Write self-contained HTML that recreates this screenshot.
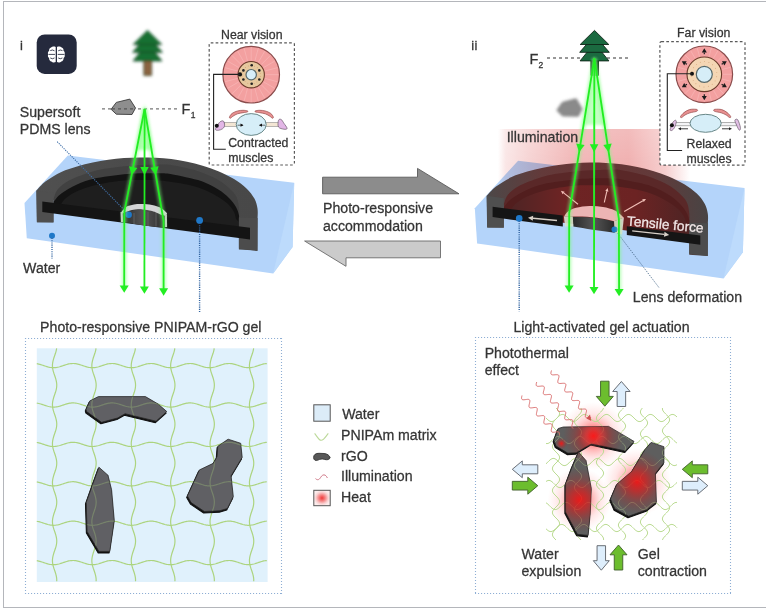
<!DOCTYPE html>
<html><head><meta charset="utf-8"><style>html,body{margin:0;padding:0;background:#fff;}svg{display:block;} text{-webkit-font-smoothing:antialiased;}</style></head>
<body><svg width="766" height="608" viewBox="0 0 766 608">
<defs>
<filter id="blurTree" x="-50%" y="-50%" width="200%" height="200%"><feGaussianBlur stdDeviation="1.75"/></filter>
<filter id="blurRock" x="-50%" y="-50%" width="200%" height="200%"><feGaussianBlur stdDeviation="1.5"/></filter>
<filter id="glow" x="-50%" y="-50%" width="200%" height="200%"><feGaussianBlur stdDeviation="1.6"/></filter>
<filter id="soft" x="-20%" y="-20%" width="140%" height="140%"><feGaussianBlur stdDeviation="0.35"/></filter>
<radialGradient id="heat"><stop offset="0" stop-color="#ff1a1a" stop-opacity="0.95"/><stop offset="0.3" stop-color="#ff3030" stop-opacity="0.6"/><stop offset="0.65" stop-color="#ff7070" stop-opacity="0.22"/><stop offset="1" stop-color="#ff9090" stop-opacity="0"/></radialGradient>
<radialGradient id="heatTop"><stop offset="0" stop-color="#ff1010" stop-opacity="0.95"/><stop offset="0.3" stop-color="#e81818" stop-opacity="0.7"/><stop offset="0.65" stop-color="#c02020" stop-opacity="0.3"/><stop offset="1" stop-color="#a02020" stop-opacity="0"/></radialGradient>
<radialGradient id="heatL"><stop offset="0" stop-color="#f03a3a"/><stop offset="0.35" stop-color="#f47c7c"/><stop offset="0.75" stop-color="#f9d0d0"/><stop offset="1" stop-color="#fcecec"/></radialGradient>
<linearGradient id="illumV" x1="0" y1="0" x2="0" y2="1"><stop offset="0" stop-color="#f6c2c2"/><stop offset="0.45" stop-color="#f0acac"/><stop offset="0.75" stop-color="#f2b4b4"/><stop offset="1" stop-color="#ffffff"/></linearGradient>
<linearGradient id="illumH" x1="0" y1="0" x2="1" y2="0"><stop offset="0" stop-color="#fff" stop-opacity="0"/><stop offset="0.1" stop-color="#fff" stop-opacity="0.75"/><stop offset="0.25" stop-color="#fff" stop-opacity="1"/><stop offset="0.78" stop-color="#fff" stop-opacity="1"/><stop offset="1" stop-color="#fff" stop-opacity="0"/></linearGradient>
<mask id="illumMask"><rect x="498" y="120" width="192" height="110" fill="url(#illumH)"/></mask>
<linearGradient id="illumX" gradientUnits="userSpaceOnUse" x1="498" y1="0" x2="690" y2="0"><stop offset="0" stop-color="#ffffff"/><stop offset="0.04" stop-color="#fae6e6"/><stop offset="0.17" stop-color="#f6d2d2"/><stop offset="0.38" stop-color="#f1b8b8"/><stop offset="0.68" stop-color="#f0b0b0"/><stop offset="0.87" stop-color="#f6cece"/><stop offset="1" stop-color="#ffffff"/></linearGradient>
<linearGradient id="illumY" gradientUnits="userSpaceOnUse" x1="0" y1="129" x2="0" y2="222"><stop offset="0" stop-color="#fff" stop-opacity="0.85"/><stop offset="0.4" stop-color="#fff" stop-opacity="1"/><stop offset="0.8" stop-color="#fff" stop-opacity="1"/><stop offset="1" stop-color="#fff" stop-opacity="0"/></linearGradient>
<mask id="illumMaskY"><rect x="498" y="120" width="192" height="110" fill="url(#illumY)"/></mask>
<linearGradient id="ringL" x1="0" y1="0" x2="1" y2="0"><stop offset="0" stop-color="#505050"/><stop offset="0.5" stop-color="#4a4a4a"/><stop offset="1" stop-color="#484848"/></linearGradient>
<linearGradient id="ringR" x1="0" y1="0" x2="1" y2="0"><stop offset="0" stop-color="#4c4848"/><stop offset="0.25" stop-color="#633a3a"/><stop offset="0.5" stop-color="#683434"/><stop offset="0.75" stop-color="#623a3a"/><stop offset="1" stop-color="#484444"/></linearGradient>
<linearGradient id="innerR" x1="0" y1="0" x2="1" y2="0"><stop offset="0" stop-color="#4e2424"/><stop offset="0.3" stop-color="#6e2424"/><stop offset="0.7" stop-color="#6c2323"/><stop offset="1" stop-color="#4e2424"/></linearGradient>
<linearGradient id="lensBody" x1="0" y1="0" x2="1" y2="0"><stop offset="0" stop-color="#2a2a2a"/><stop offset="0.5" stop-color="#555"/><stop offset="1" stop-color="#2a2a2a"/></linearGradient>
</defs>
<rect x="0" y="0" width="766" height="608" fill="#fff"/>
<rect x="3.5" y="1.5" width="800" height="606" fill="none" stroke="#b4b6bb" stroke-width="1"/>
<text x="20" y="50.2" font-size="13" fill="#333" stroke="#333" stroke-width="0.28" opacity="0.99" font-family="Liberation Sans, sans-serif" >i</text>
<text x="471.2" y="50.2" font-size="13" fill="#333" stroke="#333" stroke-width="0.28" opacity="0.99" font-family="Liberation Sans, sans-serif" letter-spacing="0.3">ii</text>
<rect x="36.7" y="34.4" width="40" height="39.5" rx="8" fill="#252a3d"/>
<path d="M55.7,46.9 C54.5,46.2 52.2,46.2 51.1,47.5 C49.6,47.8 48.9,49.4 49.2,50.8 C47.9,51.8 47.6,53.4 48.2,54.4 C47.6,55.6 47.9,57.2 49.1,57.9 C48.9,59.6 50,61.2 51.5,61.5 C52.3,62.7 54.5,62.9 55.7,62.1 Z" fill="#fff"/>
<path d="M 57 46.9 C 58.2 46.2 60.5 46.2 61.6 47.5 C 63.1 47.8 63.8 49.4 63.5 50.8 C 64.8 51.8 65.1 53.4 64.5 54.4 C 65.1 55.6 64.8 57.2 63.6 57.9 C 63.8 59.6 62.7 61.2 61.2 61.5 C 60.4 62.7 58.2 62.9 57 62.1 Z" fill="#fff"/>
<g stroke="#252a3d" stroke-width="0.85" fill="none" stroke-linecap="round"><path d="M50.6,50.4 Q52.5,49.3 54.2,50.6 M48.9,54.4 L54.6,54.4 M50.6,58.2 Q52.5,59.5 54.2,58.2"/><path d="M 62.1 50.4 Q 60.2 49.3 58.5 50.6 M 63.8 54.4 L 58.1 54.4 M 62.1 58.2 Q 60.2 59.5 58.5 58.2"/></g>
<g filter="url(#blurTree)"><rect x="143.9" y="60" width="7.6" height="15.4" fill="#8c6440" stroke="#0e3a1c" stroke-width="0.9" stroke-linejoin="round"/><path d="M147.5,43 L161.9,60.9 L133.1,60.9Z" fill="#197032" stroke="#0e3a1c" stroke-width="0.9" stroke-linejoin="round"/><path d="M147.5,35.2 L162.3,52.3 L132.7,52.3Z" fill="#197032" stroke="#0e3a1c" stroke-width="0.9" stroke-linejoin="round"/><path d="M147.5,30.4 L161.8,44.5 L133.2,44.5Z" fill="#197032" stroke="#0e3a1c" stroke-width="0.9" stroke-linejoin="round"/></g>
<path d="M102,108.9 L178,108.9" stroke="#777" stroke-width="1.3" stroke-dasharray="3,3"/>
<path d="M111.1,109.3 L116.3,102.4 L129.8,99.1 L135.5,108 L132,114.5 L116.3,114.2Z" fill="#8e8e8e" stroke="#3a3a3a" stroke-width="0.9" stroke-linejoin="round"/>
<path d="M112,108.9 L134,108.9" stroke="#555" stroke-width="1.3" stroke-dasharray="3,3"/>
<text x="181.5" y="113.6" font-size="14.5" fill="#333" stroke="#333" stroke-width="0.28" opacity="0.99" font-family="Liberation Sans, sans-serif" >F</text>
<text x="190.8" y="118.2" font-size="8.5" fill="#333" stroke="#333" stroke-width="0.28" opacity="0.99" font-family="Liberation Sans, sans-serif" >1</text>
<path d="M24.5,203 L67.8,155.5 L294.2,182.8 L292.6,247 L273.2,273.4 L26.8,238.2Z" fill="#b4d4fa"/><path d="M294.2,182.8 L292.6,247 L273.2,273.4Z" fill="#bddbfc"/>
<path d="M36.3,190.7 C37.87,189.13 41.53,184.43 45.7,181.3 C49.87,178.17 56.08,174.38 61.3,171.9 C66.52,169.42 71.77,167.97 77,166.4 C82.23,164.83 87.48,163.62 92.7,162.5 C97.92,161.38 103.08,160.43 108.3,159.7 C113.52,158.97 118.77,158.48 124,158.1 C129.23,157.72 134.42,157.45 139.7,157.4 C144.98,157.35 150.43,157.52 155.7,157.8 C160.97,158.08 166.08,158.45 171.3,159.1 C176.52,159.75 181.77,160.6 187,161.7 C192.23,162.8 197.48,164.12 202.7,165.7 C207.92,167.28 213.08,168.98 218.3,171.2 C223.52,173.42 229.3,176.13 234,179 C238.7,181.87 243.1,185.13 246.5,188.4 C249.9,191.67 252.57,195.25 254.4,198.6 C256.23,201.95 256.97,205.27 257.5,208.5 C258.03,211.73 257.58,216.42 257.6,218 L257.5,250.7 L238.9,249.5 L238.9,225 L53.5,200 L53.5,222.2 L36.8,222.2Z" fill="url(#ringL)"/><path d="M53.5,199 C54.25,197.33 55.25,192.17 58,189 C60.75,185.83 64.22,182.92 70,180 C75.78,177.08 86.32,173.45 92.7,171.5 C99.08,169.55 103.08,169.17 108.3,168.3 C113.52,167.43 118.72,166.85 124,166.3 C129.28,165.75 134,165.3 140,165 C146,164.7 155,164.53 160,164.5 C165,164.47 165.5,164.17 170,164.8 C174.5,165.43 181.7,167.02 187,168.3 C192.3,169.58 196.58,170.55 201.8,172.5 C207.02,174.45 213.77,177.42 218.3,180 C222.83,182.58 225.97,185.17 229,188 C232.03,190.83 234.85,193.67 236.5,197 C238.15,200.33 238.5,204.5 238.9,208 C239.3,211.5 238.9,216.33 238.9,218 L238.9,226 L53.5,204Z" fill="#414141"/><path d="M53.5,202 C54.8,200.58 57.38,196.42 61.3,193.5 C65.22,190.58 71.77,186.92 77,184.5 C82.23,182.08 87.48,180.37 92.7,179 C97.92,177.63 103.08,177.1 108.3,176.3 C113.52,175.5 118.72,174.72 124,174.2 C129.28,173.68 134,173.35 140,173.2 C146,173.05 154.93,173.17 160,173.3 C165.07,173.43 165.9,173.32 170.4,174 C174.9,174.68 181.77,176.18 187,177.4 C192.23,178.62 196.58,179.28 201.8,181.3 C207.02,183.32 213.77,186.72 218.3,189.5 C222.83,192.28 226.05,195.08 229,198 C231.95,200.92 234.35,204.17 236,207 C237.65,209.83 238.42,213 238.9,215 C239.38,217 238.9,218.33 238.9,219 L238.9,226 L53.5,204Z" fill="#131313"/><path d="M60,206 C61,204.67 62.67,200.67 66,198 C69.33,195.33 74.33,192.33 80,190 C85.67,187.67 92.67,185.58 100,184 C107.33,182.42 117.33,181.17 124,180.5 C130.67,179.83 134,180 140,180 C146,180 152.17,179.75 160,180.5 C167.83,181.25 179.5,182.92 187,184.5 C194.5,186.08 199.78,187.92 205,190 C210.22,192.08 214.47,194.67 218.3,197 C222.13,199.33 225.38,201.5 228,204 C230.62,206.5 232.67,209.5 234,212 C235.33,214.5 235.67,217.83 236,219 L239,222 L239,233 L60,211Z" fill="#1e1e1e"/><path d="M36.5,190.5 L53.5,193 L53.5,222.5 L37,222.2Z" fill="#4f4f4f"/><path d="M238.9,217.5 L257.5,218 L257.4,250.9 L238.9,248.5Z" fill="#4c4c4c"/><path d="M42.3,201.5 L250,227.79 L250,239.61 L42.3,211.9Z" fill="#141414"/>
<path d="M121.6,212.5 C123,212.17 126.6,211 130,210.5 C133.4,210 137.83,209.45 142,209.5 C146.17,209.55 151.08,209.97 155,210.8 C158.92,211.63 163.75,213.88 165.5,214.5 L165.8,227.3 C152,227.5 135,224 121.9,221.8Z" fill="url(#lensBody)"/><g stroke="#6a6a6a" stroke-width="1.2" opacity="0.6"><path d="M134,213 L134,224"/><path d="M148,212 L148,226"/><path d="M156,213 L156,226.5"/></g><path d="M121.4,212 C122.17,211.17 123.9,208.23 126,207 C128.1,205.77 131.33,205.08 134,204.6 C136.67,204.12 139,204.03 142,204.1 C145,204.17 148.83,204.35 152,205 C155.17,205.65 158.48,206.62 161,208 C163.52,209.38 166.08,212.42 167.1,213.3 L166,216 L161.2,214.7 C159.67,214.08 155.2,211.88 152,211 C148.8,210.12 145.33,209.57 142,209.4 C138.67,209.23 134.58,209.6 132,210 C129.42,210.4 127.42,211.5 126.5,211.8 L121.4,214Z" fill="#d4d4d6"/><path d="M121.6,212 L122,222" stroke="#c8c8c8" stroke-width="2.2"/><path d="M165.8,214.5 L166,227" stroke="#c8c8c8" stroke-width="2.2"/>
<path d="M57.2,141.7 L128.7,214.5" stroke="#3f6fa8" stroke-width="1.1" stroke-dasharray="1.2,1.1"/>
<circle cx="128.7" cy="214.7" r="3.2" fill="#1f78c8"/>
<circle cx="52" cy="235.7" r="3" fill="#1f78c8"/>
<path d="M52,238 L52,258.5" stroke="#2f62a0" stroke-width="1.3" stroke-dasharray="1.1,1.1"/>
<circle cx="199.6" cy="220.4" r="3.4" fill="#1f78c8"/>
<path d="M199.6,223 L199.6,312.5" stroke="#2f62a0" stroke-width="1.4" stroke-dasharray="1.1,1.1"/>
<path d="M144.6,104 L136,150 L153,150Z" fill="#a8ffa8" opacity="0.9" filter="url(#glow)"/>
<path d="M144.6,109 L124.3,212 L124.2,289" fill="none" stroke="#7cff7c" stroke-width="4.5" opacity="0.5" filter="url(#glow)"/><path d="M144.6,109 L144.4,290" fill="none" stroke="#7cff7c" stroke-width="4.5" opacity="0.5" filter="url(#glow)"/><path d="M144.6,109 L163.6,221 L163.6,291" fill="none" stroke="#7cff7c" stroke-width="4.5" opacity="0.5" filter="url(#glow)"/><path d="M144.6,109 L124.3,212 L124.2,289" fill="none" stroke="#22ee22" stroke-width="1.8" stroke-linejoin="round"/><path d="M144.6,109 L144.4,290" fill="none" stroke="#22ee22" stroke-width="1.8" stroke-linejoin="round"/><path d="M144.6,109 L163.6,221 L163.6,291" fill="none" stroke="#22ee22" stroke-width="1.8" stroke-linejoin="round"/><path d="M131.67,174.93 L129.04,166.26 L137.38,167.89Z" fill="#22ee22"/><path d="M144.5,175 L140.25,167 L148.75,167Z" fill="#22ee22"/><path d="M155.79,174.94 L150.26,167.77 L158.64,166.35Z" fill="#22ee22"/><path d="M124.2,292.75 L119.7,285.45 L128.7,285.45Z" fill="#22ee22"/><path d="M144.4,293.85 L139.9,286.55 L148.9,286.55Z" fill="#22ee22"/><path d="M163.6,295.65 L159.1,288.35 L168.1,288.35Z" fill="#22ee22"/>
<rect x="209.2" y="42.8" width="85.2" height="122.2" rx="1.5" fill="#fff" stroke="#5a5a5a" stroke-width="1.2" stroke-dasharray="2.7,2.2"/>
<text x="221" y="39.3" font-size="12.3" fill="#333" stroke="#333" stroke-width="0.28" opacity="0.99" font-family="Liberation Sans, sans-serif" >Near vision</text>
<circle cx="251.2" cy="74.7" r="28.3" fill="#f3a0a0" stroke="#8a4c4c" stroke-width="1.2"/><path d="M265.4,74.7 L278.5,74.7" stroke="#f8baba" stroke-width="0.6"/><path d="M264.92,78.38 L277.57,81.77" stroke="#f8baba" stroke-width="0.6"/><path d="M263.5,81.8 L274.84,88.35" stroke="#f8baba" stroke-width="0.6"/><path d="M261.24,84.74 L270.5,94" stroke="#f8baba" stroke-width="0.6"/><path d="M258.3,87 L264.85,98.34" stroke="#f8baba" stroke-width="0.6"/><path d="M254.88,88.42 L258.27,101.07" stroke="#f8baba" stroke-width="0.6"/><path d="M251.2,88.9 L251.2,102" stroke="#f8baba" stroke-width="0.6"/><path d="M247.52,88.42 L244.13,101.07" stroke="#f8baba" stroke-width="0.6"/><path d="M244.1,87 L237.55,98.34" stroke="#f8baba" stroke-width="0.6"/><path d="M241.16,84.74 L231.9,94" stroke="#f8baba" stroke-width="0.6"/><path d="M238.9,81.8 L227.56,88.35" stroke="#f8baba" stroke-width="0.6"/><path d="M237.48,78.38 L224.83,81.77" stroke="#f8baba" stroke-width="0.6"/><path d="M237,74.7 L223.9,74.7" stroke="#f8baba" stroke-width="0.6"/><path d="M237.48,71.02 L224.83,67.63" stroke="#f8baba" stroke-width="0.6"/><path d="M238.9,67.6 L227.56,61.05" stroke="#f8baba" stroke-width="0.6"/><path d="M241.16,64.66 L231.9,55.4" stroke="#f8baba" stroke-width="0.6"/><path d="M244.1,62.4 L237.55,51.06" stroke="#f8baba" stroke-width="0.6"/><path d="M247.52,60.98 L244.13,48.33" stroke="#f8baba" stroke-width="0.6"/><path d="M251.2,60.5 L251.2,47.4" stroke="#f8baba" stroke-width="0.6"/><path d="M254.88,60.98 L258.27,48.33" stroke="#f8baba" stroke-width="0.6"/><path d="M258.3,62.4 L264.85,51.06" stroke="#f8baba" stroke-width="0.6"/><path d="M261.24,64.66 L270.5,55.4" stroke="#f8baba" stroke-width="0.6"/><path d="M263.5,67.6 L274.84,61.05" stroke="#f8baba" stroke-width="0.6"/><path d="M264.92,71.02 L277.57,67.63" stroke="#f8baba" stroke-width="0.6"/><circle cx="251.2" cy="74.7" r="13.2" fill="#e6c89e" stroke="#6a3a2a" stroke-width="1.1"/><circle cx="260.22" cy="76.53" r="0.45" fill="#c89060"/><circle cx="259.05" cy="79.5" r="0.45" fill="#c89060"/><circle cx="256.93" cy="81.9" r="0.45" fill="#c89060"/><circle cx="254.13" cy="83.42" r="0.45" fill="#c89060"/><circle cx="250.97" cy="83.9" r="0.45" fill="#c89060"/><circle cx="247.83" cy="83.26" r="0.45" fill="#c89060"/><circle cx="245.11" cy="81.59" r="0.45" fill="#c89060"/><circle cx="243.12" cy="79.1" r="0.45" fill="#c89060"/><circle cx="242.1" cy="76.07" r="0.45" fill="#c89060"/><circle cx="242.18" cy="72.87" r="0.45" fill="#c89060"/><circle cx="243.35" cy="69.9" r="0.45" fill="#c89060"/><circle cx="245.47" cy="67.5" r="0.45" fill="#c89060"/><circle cx="248.27" cy="65.98" r="0.45" fill="#c89060"/><circle cx="251.43" cy="65.5" r="0.45" fill="#c89060"/><circle cx="254.57" cy="66.14" r="0.45" fill="#c89060"/><circle cx="257.29" cy="67.81" r="0.45" fill="#c89060"/><circle cx="259.28" cy="70.3" r="0.45" fill="#c89060"/><circle cx="260.3" cy="73.33" r="0.45" fill="#c89060"/><circle cx="251.2" cy="74.7" r="5.2" fill="#d6eef8" stroke="#56686a" stroke-width="1.2"/>
<circle cx="251.7" cy="65.3" r="1.3" fill="#222"/>
<circle cx="259.3" cy="70.4" r="1.3" fill="#222"/>
<circle cx="259.3" cy="79.5" r="1.3" fill="#222"/>
<circle cx="251.7" cy="83.8" r="1.3" fill="#222"/>
<circle cx="243.4" cy="79.5" r="1.3" fill="#222"/>
<circle cx="243.4" cy="70.4" r="1.3" fill="#222"/>
<circle cx="240" cy="74.4" r="2.1" fill="#111"/>
<path d="M240,74.4 L213.6,74.4 L213.6,149.3 L225.8,149.3" fill="none" stroke="#222" stroke-width="1.1"/>
<path d="M229.5,117 C229.77,116.22 230.67,114.5 232,113.5 C233.33,112.5 235.67,111.53 237.5,111 C239.33,110.47 241.33,110.32 243,110.3 C244.67,110.28 246.78,110.63 247.5,110.9 C248.22,111.17 248.05,111.6 247.3,111.9 C246.55,112.2 244.63,112.38 243,112.7 C241.37,113.02 239.17,113.22 237.5,113.8 C235.83,114.38 234.18,115.47 233,116.2 C231.82,116.93 230.98,118.07 230.4,118.2 C229.82,118.33 229.23,117.78 229.5,117Z" fill="#e89090" stroke="#9a5050" stroke-width="0.75"/><path d="M273.3,117 C273.03,116.22 272.13,114.5 270.8,113.5 C269.47,112.5 267.13,111.53 265.3,111 C263.47,110.47 261.47,110.32 259.8,110.3 C258.13,110.28 256.02,110.63 255.3,110.9 C254.58,111.17 254.75,111.6 255.5,111.9 C256.25,112.2 258.17,112.38 259.8,112.7 C261.43,113.02 263.63,113.22 265.3,113.8 C266.97,114.38 268.62,115.47 269.8,116.2 C270.98,116.93 271.82,118.07 272.4,118.2 C272.98,118.33 273.57,117.78 273.3,117Z" fill="#e89090" stroke="#9a5050" stroke-width="0.75"/><rect x="224.5" y="122.5" width="12.7" height="4" fill="#f3e6d4" stroke="#8a8a8a" stroke-width="0.6"/><rect x="265.2" y="122.5" width="13.3" height="4" fill="#f3e6d4" stroke="#8a8a8a" stroke-width="0.6"/><ellipse cx="251.2" cy="124.5" rx="15" ry="10.9" fill="#d6eef8" stroke="#5a7a7a" stroke-width="0.9"/>
<path d="M215.4,129.4 C215.32,128.43 217.2,125.78 218,124.5 C218.8,123.22 219.3,122.27 220.2,121.7 C221.1,121.13 222.67,120.48 223.4,121.1 C224.13,121.72 224.7,124.15 224.6,125.4 C224.5,126.65 223.82,127.78 222.8,128.6 C221.78,129.42 219.73,130.17 218.5,130.3 C217.27,130.43 215.48,130.37 215.4,129.4Z" fill="#e2b6e6" stroke="#6a5a6a" stroke-width="0.7"/>
<path d="M278.5,120.3 C278.95,119.05 280.3,119 281.2,119.5 C282.1,120 282.92,121.82 283.9,123.3 C284.88,124.78 287.1,127.42 287.1,128.4 C287.1,129.38 285.33,129.43 283.9,129.2 C282.47,128.97 279.4,128.48 278.5,127 C277.6,125.52 278.05,121.55 278.5,120.3Z" fill="#e2b6e6" stroke="#6a5a6a" stroke-width="0.7"/>
<circle cx="216.8" cy="125.7" r="2" fill="#111"/>
<path d="M237.5,125.2 L243,125.2" stroke="#333" stroke-width="0.7"/><path d="M243.5,125.2 L240.5,123.6 L240.5,126.8Z" fill="#111"/>
<path d="M265,125.2 L259.5,125.2" stroke="#333" stroke-width="0.7"/><path d="M259,125.2 L262,123.6 L262,126.8Z" fill="#111"/>
<text x="228.2" y="147.3" font-size="12.3" fill="#333" stroke="#333" stroke-width="0.28" opacity="0.99" font-family="Liberation Sans, sans-serif" >Contracted</text>
<text x="228.2" y="161.7" font-size="12.3" fill="#333" stroke="#333" stroke-width="0.28" opacity="0.99" font-family="Liberation Sans, sans-serif" >muscles</text>
<text x="19.8" y="117" font-size="14.15" fill="#333" stroke="#333" stroke-width="0.28" opacity="0.99" font-family="Liberation Sans, sans-serif" >Supersoft</text>
<text x="19.8" y="134" font-size="14.15" fill="#333" stroke="#333" stroke-width="0.28" opacity="0.99" font-family="Liberation Sans, sans-serif" >PDMS lens</text>
<text x="23.1" y="272.9" font-size="14.15" fill="#333" stroke="#333" stroke-width="0.28" opacity="0.99" font-family="Liberation Sans, sans-serif" >Water</text>
<text x="40.1" y="331.6" font-size="14.15" fill="#333" stroke="#333" stroke-width="0.28" opacity="0.99" font-family="Liberation Sans, sans-serif" >Photo-responsive PNIPAM-rGO gel</text>
<path d="M322.6,177.2 L417.5,177.2 L417.5,168.4 L459,193.8 L322.6,193.8Z" fill="#8c8c8c" stroke="#5a5a5a" stroke-width="0.9" stroke-linejoin="miter"/>
<path d="M304.6,241 L440.5,241 L440.5,257.8 L346,257.8 L346,266.3Z" fill="#cbcbcb" stroke="#6a6a6a" stroke-width="0.9"/>
<text x="323" y="213.3" font-size="14.15" fill="#333" stroke="#333" stroke-width="0.28" opacity="0.99" font-family="Liberation Sans, sans-serif" >Photo-responsive</text>
<text x="323" y="230.6" font-size="14.15" fill="#333" stroke="#333" stroke-width="0.28" opacity="0.99" font-family="Liberation Sans, sans-serif" >accommodation</text>
<path d="M474.8,208.2 L518.1,160.7 L744.5,188 L742.9,252.2 L723.5,278.6 L477.1,243.4Z" fill="#b4d4fa"/><path d="M744.5,188 L742.9,252.2 L723.5,278.6Z" fill="#bddbfc"/>
<rect x="498" y="129" width="192" height="93" fill="url(#illumX)" mask="url(#illumMaskY)" style="mix-blend-mode:multiply"/>
<path d="M486.6,195.9 C488.17,194.33 491.83,189.63 496,186.5 C500.17,183.37 506.38,179.58 511.6,177.1 C516.82,174.62 522.07,173.17 527.3,171.6 C532.53,170.03 537.78,168.82 543,167.7 C548.22,166.58 553.38,165.63 558.6,164.9 C563.82,164.17 569.07,163.68 574.3,163.3 C579.53,162.92 584.72,162.65 590,162.6 C595.28,162.55 600.73,162.72 606,163 C611.27,163.28 616.38,163.65 621.6,164.3 C626.82,164.95 632.07,165.8 637.3,166.9 C642.53,168 647.78,169.32 653,170.9 C658.22,172.48 663.38,174.18 668.6,176.4 C673.82,178.62 679.6,181.33 684.3,184.2 C689,187.07 693.4,190.33 696.8,193.6 C700.2,196.87 702.87,200.45 704.7,203.8 C706.53,207.15 707.27,210.47 707.8,213.7 C708.33,216.93 707.88,221.62 707.9,223.2 L707.8,255.9 L689.2,254.7 L689.2,230.2 L503.8,205.2 L503.8,227.4 L487.1,227.4Z" fill="url(#ringR)"/><path d="M503.8,204.2 C504.55,202.53 505.55,197.37 508.3,194.2 C511.05,191.03 514.52,188.12 520.3,185.2 C526.08,182.28 536.62,178.65 543,176.7 C549.38,174.75 553.38,174.37 558.6,173.5 C563.82,172.63 569.02,172.05 574.3,171.5 C579.58,170.95 584.3,170.5 590.3,170.2 C596.3,169.9 605.3,169.73 610.3,169.7 C615.3,169.67 615.8,169.37 620.3,170 C624.8,170.63 632,172.22 637.3,173.5 C642.6,174.78 646.88,175.75 652.1,177.7 C657.32,179.65 664.07,182.62 668.6,185.2 C673.13,187.78 676.27,190.37 679.3,193.2 C682.33,196.03 685.15,198.87 686.8,202.2 C688.45,205.53 688.8,209.7 689.2,213.2 C689.6,216.7 689.2,221.53 689.2,223.2 L689.2,231.2 L503.8,209.2Z" fill="#5a2828"/><path d="M503.8,207.2 C505.1,205.78 507.68,201.62 511.6,198.7 C515.52,195.78 522.07,192.12 527.3,189.7 C532.53,187.28 537.78,185.57 543,184.2 C548.22,182.83 553.38,182.3 558.6,181.5 C563.82,180.7 569.02,179.92 574.3,179.4 C579.58,178.88 584.3,178.55 590.3,178.4 C596.3,178.25 605.23,178.37 610.3,178.5 C615.37,178.63 616.2,178.52 620.7,179.2 C625.2,179.88 632.07,181.38 637.3,182.6 C642.53,183.82 646.88,184.48 652.1,186.5 C657.32,188.52 664.07,191.92 668.6,194.7 C673.13,197.48 676.35,200.28 679.3,203.2 C682.25,206.12 684.65,209.37 686.3,212.2 C687.95,215.03 688.72,218.2 689.2,220.2 C689.68,222.2 689.2,223.53 689.2,224.2 L689.2,231.2 L503.8,209.2Z" fill="#521e1e"/><path d="M510.3,211.2 C511.3,209.87 512.97,205.87 516.3,203.2 C519.63,200.53 524.63,197.53 530.3,195.2 C535.97,192.87 542.97,190.78 550.3,189.2 C557.63,187.62 567.63,186.37 574.3,185.7 C580.97,185.03 584.3,185.2 590.3,185.2 C596.3,185.2 602.47,184.95 610.3,185.7 C618.13,186.45 629.8,188.12 637.3,189.7 C644.8,191.28 650.08,193.12 655.3,195.2 C660.52,197.28 664.77,199.87 668.6,202.2 C672.43,204.53 675.68,206.7 678.3,209.2 C680.92,211.7 682.97,214.7 684.3,217.2 C685.63,219.7 685.97,223.03 686.3,224.2 L689.3,227.2 L689.3,238.2 L510.3,216.2Z" fill="url(#innerR)"/><path d="M486.8,195.7 L503.8,198.2 L503.8,227.7 L487.3,227.4Z" fill="#4f4f4f"/><path d="M689.2,222.7 L707.8,223.2 L707.7,256.1 L689.2,253.7Z" fill="#4c4c4c"/><path d="M492.6,206.7 L562.8,215.59 L562.8,226.46 L492.6,217.1Z" fill="#151515"/><path d="M626.8,226.19 L700.3,235.49 L700.3,244.81 L626.8,235Z" fill="#151515"/>
<path d="M572.8,217 C585,216.5 600,217.5 614,221.5 L614.8,232.8 C600,231 585,228.5 573.3,226.5Z" fill="url(#lensBody)"/><path d="M563.9,216.6 C564.58,215.75 565.98,212.97 568,211.5 C570.02,210.03 572.42,208.72 576,207.8 C579.58,206.88 585,206.13 589.5,206 C594,205.87 598.75,206.25 603,207 C607.25,207.75 611.52,208.75 615,210.5 C618.48,212.25 622.42,216.33 623.9,217.5 L614,221.3 C603,218 588,216.2 572.8,216.6Z" fill="#ecb4b4"/><path d="M563.9,216.6 L572.8,216.6 L573.3,226.5 L565,226.5Z" fill="#e8dada" opacity="0.9"/><path d="M614,221.3 L623.9,217.5 L622,234.5 L614.8,232.8Z" fill="#e8dada" opacity="0.9"/>
<path d="M578,204.3 L563.64,192.88" stroke="#f2c0b8" stroke-width="1.1"/><path d="M560.9,190.7 L564.64,191.63 L562.64,194.13Z" fill="#f2c0b8"/>
<path d="M604.3,202.5 L606.82,191.41" stroke="#f2c0b8" stroke-width="1.1"/><path d="M607.6,188 L608.38,191.77 L605.26,191.06Z" fill="#f2c0b8"/>
<path d="M624.2,211.5 L642.97,200.65" stroke="#f2c0b8" stroke-width="1.1"/><path d="M646,198.9 L643.77,202.04 L642.17,199.27Z" fill="#f2c0b8"/>
<path d="M557,220.5 L532.98,218.26" stroke="#d8d0c8" stroke-width="1.3"/><path d="M528,217.8 L533.21,215.77 L532.75,220.75Z" fill="#d8d0c8"/>
<path d="M632.2,230.8 L664.23,234.35" stroke="#d8d0c8" stroke-width="1.3"/><path d="M669.2,234.9 L663.96,236.83 L664.51,231.86Z" fill="#d8d0c8"/>
<text x="626.6" y="225.4" font-size="13.7" fill="#f4eaea" stroke="#f4eaea" stroke-width="0.28" opacity="0.99" font-family="Liberation Sans, sans-serif" transform="rotate(5.5 626.6 225.4)">Tensile force</text>
<circle cx="519.2" cy="218.4" r="3.3" fill="#1f78c8"/>
<path d="M519.2,221 L519.2,311.5" stroke="#2f62a0" stroke-width="1.4" stroke-dasharray="1.1,1.1"/>
<circle cx="614.5" cy="229.5" r="3" fill="#1f78c8"/>
<path d="M616,231 L659,287.6" stroke="#4a6a8a" stroke-width="0.9" stroke-dasharray="1.2,1.2"/>
<path d="M547,58 L629,58" stroke="#777" stroke-width="1.3" stroke-dasharray="3,3"/>
<rect x="590.9" y="60" width="7.6" height="15.4" fill="#163a22" stroke="#0e2416" stroke-width="0.9" stroke-linejoin="round"/><path d="M594.5,43 L608.9,60.9 L580.1,60.9Z" fill="#1b6a40" stroke="#0e2416" stroke-width="0.9" stroke-linejoin="round"/><path d="M594.5,35.2 L609.3,52.3 L579.7,52.3Z" fill="#1b6a40" stroke="#0e2416" stroke-width="0.9" stroke-linejoin="round"/><path d="M594.5,30.4 L608.8,44.5 L580.2,44.5Z" fill="#1b6a40" stroke="#0e2416" stroke-width="0.9" stroke-linejoin="round"/>
<path d="M594.4,57 L583,125 L606,125Z" fill="#b0ffb0" opacity="0.75" filter="url(#glow)"/>
<path d="M594.4,58.5 L569.2,213 L569.1,289" fill="none" stroke="#7cff7c" stroke-width="4.5" opacity="0.5" filter="url(#glow)"/><path d="M594.4,58.5 L594,290" fill="none" stroke="#7cff7c" stroke-width="4.5" opacity="0.5" filter="url(#glow)"/><path d="M594.4,58.5 L618.9,219 L619.1,292" fill="none" stroke="#7cff7c" stroke-width="4.5" opacity="0.5" filter="url(#glow)"/><path d="M594.4,58.5 L569.2,213 L569.1,289" fill="none" stroke="#22ee22" stroke-width="1.8" stroke-linejoin="round"/><path d="M594.4,58.5 L594,290" fill="none" stroke="#22ee22" stroke-width="1.8" stroke-linejoin="round"/><path d="M594.4,58.5 L618.9,219 L619.1,292" fill="none" stroke="#22ee22" stroke-width="1.8" stroke-linejoin="round"/><path d="M579.13,152.15 L576.22,143.57 L584.61,144.94Z" fill="#22ee22"/><path d="M594.1,152.2 L589.85,144.2 L598.35,144.2Z" fill="#22ee22"/><path d="M608.7,152.15 L603.29,144.89 L611.69,143.6Z" fill="#22ee22"/><path d="M569.1,292.85 L564.6,285.55 L573.6,285.55Z" fill="#22ee22"/><path d="M594,294.25 L589.5,286.95 L598.5,286.95Z" fill="#22ee22"/><path d="M619.1,296.25 L614.6,288.95 L623.6,288.95Z" fill="#22ee22"/>
<text x="529.5" y="63.5" font-size="14.5" fill="#333" stroke="#333" stroke-width="0.28" opacity="0.99" font-family="Liberation Sans, sans-serif" >F</text>
<text x="538.5" y="67.5" font-size="8.5" fill="#333" stroke="#333" stroke-width="0.28" opacity="0.99" font-family="Liberation Sans, sans-serif" >2</text>
<path d="M557.06,110.3 L562.36,102.57 L576.13,98.88 L581.94,108.84 L578.37,116.12 L562.36,115.79Z" fill="#8a8a8a" stroke="#666" stroke-width="1" filter="url(#blurRock)"/>
<text x="506.7" y="142.1" font-size="14.15" fill="#333" stroke="#333" stroke-width="0.28" opacity="0.99" font-family="Liberation Sans, sans-serif" >Illumination</text>
<rect x="659.9" y="41.7" width="85.1" height="123.4" rx="1.5" fill="#fff" stroke="#5a5a5a" stroke-width="1.2" stroke-dasharray="2.7,2.2"/>
<text x="677.1" y="37.3" font-size="12.3" fill="#333" stroke="#333" stroke-width="0.28" opacity="0.99" font-family="Liberation Sans, sans-serif" >Far vision</text>
<circle cx="704.3" cy="74.3" r="28.3" fill="#f3a0a0" stroke="#8a4c4c" stroke-width="1.2"/><path d="M722.6,74.3 L731.6,74.3" stroke="#f8baba" stroke-width="0.6"/><path d="M721.98,79.04 L730.67,81.37" stroke="#f8baba" stroke-width="0.6"/><path d="M720.15,83.45 L727.94,87.95" stroke="#f8baba" stroke-width="0.6"/><path d="M717.24,87.24 L723.6,93.6" stroke="#f8baba" stroke-width="0.6"/><path d="M713.45,90.15 L717.95,97.94" stroke="#f8baba" stroke-width="0.6"/><path d="M709.04,91.98 L711.37,100.67" stroke="#f8baba" stroke-width="0.6"/><path d="M704.3,92.6 L704.3,101.6" stroke="#f8baba" stroke-width="0.6"/><path d="M699.56,91.98 L697.23,100.67" stroke="#f8baba" stroke-width="0.6"/><path d="M695.15,90.15 L690.65,97.94" stroke="#f8baba" stroke-width="0.6"/><path d="M691.36,87.24 L685,93.6" stroke="#f8baba" stroke-width="0.6"/><path d="M688.45,83.45 L680.66,87.95" stroke="#f8baba" stroke-width="0.6"/><path d="M686.62,79.04 L677.93,81.37" stroke="#f8baba" stroke-width="0.6"/><path d="M686,74.3 L677,74.3" stroke="#f8baba" stroke-width="0.6"/><path d="M686.62,69.56 L677.93,67.23" stroke="#f8baba" stroke-width="0.6"/><path d="M688.45,65.15 L680.66,60.65" stroke="#f8baba" stroke-width="0.6"/><path d="M691.36,61.36 L685,55" stroke="#f8baba" stroke-width="0.6"/><path d="M695.15,58.45 L690.65,50.66" stroke="#f8baba" stroke-width="0.6"/><path d="M699.56,56.62 L697.23,47.93" stroke="#f8baba" stroke-width="0.6"/><path d="M704.3,56 L704.3,47" stroke="#f8baba" stroke-width="0.6"/><path d="M709.04,56.62 L711.37,47.93" stroke="#f8baba" stroke-width="0.6"/><path d="M713.45,58.45 L717.95,50.66" stroke="#f8baba" stroke-width="0.6"/><path d="M717.24,61.36 L723.6,55" stroke="#f8baba" stroke-width="0.6"/><path d="M720.15,65.15 L727.94,60.65" stroke="#f8baba" stroke-width="0.6"/><path d="M721.98,69.56 L730.67,67.23" stroke="#f8baba" stroke-width="0.6"/><circle cx="704.3" cy="74.3" r="17.3" fill="#f4d6b4" stroke="#6a3a2a" stroke-width="1.1"/><circle cx="716.7" cy="76.81" r="0.45" fill="#c89060"/><circle cx="715.09" cy="80.9" r="0.45" fill="#c89060"/><circle cx="712.18" cy="84.19" r="0.45" fill="#c89060"/><circle cx="708.32" cy="86.29" r="0.45" fill="#c89060"/><circle cx="703.98" cy="86.95" r="0.45" fill="#c89060"/><circle cx="699.67" cy="86.07" r="0.45" fill="#c89060"/><circle cx="695.92" cy="83.78" r="0.45" fill="#c89060"/><circle cx="693.19" cy="80.34" r="0.45" fill="#c89060"/><circle cx="691.79" cy="76.18" r="0.45" fill="#c89060"/><circle cx="691.9" cy="71.79" r="0.45" fill="#c89060"/><circle cx="693.51" cy="67.7" r="0.45" fill="#c89060"/><circle cx="696.42" cy="64.41" r="0.45" fill="#c89060"/><circle cx="700.28" cy="62.31" r="0.45" fill="#c89060"/><circle cx="704.62" cy="61.65" r="0.45" fill="#c89060"/><circle cx="708.93" cy="62.53" r="0.45" fill="#c89060"/><circle cx="712.68" cy="64.82" r="0.45" fill="#c89060"/><circle cx="715.41" cy="68.26" r="0.45" fill="#c89060"/><circle cx="716.81" cy="72.42" r="0.45" fill="#c89060"/><circle cx="704.3" cy="74.3" r="8" fill="#d6eef8" stroke="#56686a" stroke-width="1.2"/>
<path d="M704.3,54.3 L704.3,52.5" stroke="#1a1a1a" stroke-width="1.2"/><path d="M704.3,48.3 L706.8,52.5 L701.8,52.5Z" fill="#1a1a1a"/>
<path d="M721.62,64.3 L723.18,63.4" stroke="#1a1a1a" stroke-width="1.2"/><path d="M726.82,61.3 L724.43,65.57 L721.93,61.23Z" fill="#1a1a1a"/>
<path d="M721.62,84.3 L723.18,85.2" stroke="#1a1a1a" stroke-width="1.2"/><path d="M726.82,87.3 L721.93,87.37 L724.43,83.03Z" fill="#1a1a1a"/>
<path d="M704.3,94.3 L704.3,96.1" stroke="#1a1a1a" stroke-width="1.2"/><path d="M704.3,100.3 L701.8,96.1 L706.8,96.1Z" fill="#1a1a1a"/>
<path d="M686.98,84.3 L685.42,85.2" stroke="#1a1a1a" stroke-width="1.2"/><path d="M681.78,87.3 L684.17,83.03 L686.67,87.37Z" fill="#1a1a1a"/>
<path d="M686.98,64.3 L685.42,63.4" stroke="#1a1a1a" stroke-width="1.2"/><path d="M681.78,61.3 L686.67,61.23 L684.17,65.57Z" fill="#1a1a1a"/>
<circle cx="692" cy="73.8" r="2" fill="#111"/>
<path d="M692,73.8 L667.3,73.8 L667.3,150.5 L682.1,150.5" fill="none" stroke="#222" stroke-width="1.1"/>
<path d="M680.5,116.6 C680.88,115.78 682.5,113.77 684,112.6 C685.5,111.43 687.5,110.15 689.5,109.6 C691.5,109.05 694.65,109.18 696,109.3 C697.35,109.42 697.6,109.93 697.6,110.3 C697.6,110.67 697.27,111.08 696,111.5 C694.73,111.92 691.83,112.22 690,112.8 C688.17,113.38 686.38,114.22 685,115 C683.62,115.78 682.45,117.23 681.7,117.5 C680.95,117.77 680.12,117.42 680.5,116.6Z" fill="#e89090" stroke="#9a5050" stroke-width="0.75"/>
<path d="M730.7,116.6 C730.32,115.78 728.7,113.77 727.2,112.6 C725.7,111.43 723.7,110.15 721.7,109.6 C719.7,109.05 716.55,109.18 715.2,109.3 C713.85,109.42 713.6,109.93 713.6,110.3 C713.6,110.67 713.93,111.08 715.2,111.5 C716.47,111.92 719.37,112.22 721.2,112.8 C723.03,113.38 724.82,114.22 726.2,115 C727.58,115.78 728.75,117.23 729.5,117.5 C730.25,117.77 731.08,117.42 730.7,116.6Z" fill="#e89090" stroke="#9a5050" stroke-width="0.75"/>
<rect x="674.6" y="122.5" width="17" height="3.3" fill="#f4f4f6" stroke="#8a8a8a" stroke-width="0.65"/>
<rect x="719.5" y="122.5" width="17" height="3.3" fill="#f4f4f6" stroke="#8a8a8a" stroke-width="0.65"/>
<ellipse cx="705.6" cy="123.3" rx="15.6" ry="9" fill="#d6eef8" stroke="#5a7a7a" stroke-width="0.9"/>
<path d="M670.2,129.6 C670.28,128.37 671.57,124.55 672.4,123 C673.23,121.45 674.55,120.48 675.2,120.3 C675.85,120.12 676.4,120.72 676.3,121.9 C676.2,123.08 675.33,125.98 674.6,127.4 C673.87,128.82 672.63,130.03 671.9,130.4 C671.17,130.77 670.12,130.83 670.2,129.6Z" fill="#e2c0e6" stroke="#6a5a6a" stroke-width="0.7"/>
<path d="M734.9,120.3 C735.08,119.38 736.78,118.52 737.7,119.7 C738.62,120.88 740.13,125.65 740.4,127.4 C740.67,129.15 739.93,130.57 739.3,130.2 C738.67,129.83 737.33,126.85 736.6,125.2 C735.87,123.55 734.72,121.22 734.9,120.3Z" fill="#e2c0e6" stroke="#6a5a6a" stroke-width="0.7"/>
<circle cx="671.9" cy="125.2" r="2" fill="#111"/>
<path d="M688,128.8 L681,128.8" stroke="#222" stroke-width="0.9"/><path d="M678,128.8 L681,127.3 L681,130.3Z" fill="#222"/>
<path d="M722,128.8 L729,128.8" stroke="#222" stroke-width="0.9"/><path d="M732,128.8 L729,130.3 L729,127.3Z" fill="#222"/>
<text x="686.5" y="148" font-size="12.3" fill="#333" stroke="#333" stroke-width="0.28" opacity="0.99" font-family="Liberation Sans, sans-serif" >Relaxed</text>
<text x="686.5" y="162.8" font-size="12.3" fill="#333" stroke="#333" stroke-width="0.28" opacity="0.99" font-family="Liberation Sans, sans-serif" >muscles</text>
<text x="632.8" y="301.8" font-size="14.15" fill="#333" stroke="#333" stroke-width="0.28" opacity="0.99" font-family="Liberation Sans, sans-serif" >Lens deformation</text>
<text x="513.5" y="331.6" font-size="14.15" fill="#333" stroke="#333" stroke-width="0.28" opacity="0.99" font-family="Liberation Sans, sans-serif" >Light-activated gel actuation</text>
<g stroke="#8eaed4" stroke-width="1.1" stroke-dasharray="1.1,1.9" fill="none"><path d="M25,338.5 L282,338.5"/><path d="M25,593.5 L282,593.5"/><path d="M25.5,338 L25.5,594"/><path d="M281.5,338 L281.5,594"/></g>
<rect x="36.8" y="348.3" width="230.8" height="233.7" fill="#e0f1fc"/>
<g fill="none" stroke="#acd47f" stroke-width="1.2" opacity="1.0" ><path d="M56.62,348.3 L56.47,349.3 L56.28,350.3 L56.04,351.3 L55.76,352.3 L55.46,353.3 L55.13,354.3 L54.79,355.3 L54.44,356.3 L54.1,357.3 L53.77,358.3 L53.47,359.3 L53.19,360.3 L52.95,361.3 L52.75,362.3 L52.6,363.3 L52.5,364.3 L52.45,365.3 L52.46,366.3 L52.53,367.3 L52.65,368.3 L52.82,369.3 L53.04,370.3 L53.29,371.3 L53.59,372.3 L53.9,373.3 L54.24,374.3 L54.58,375.3 L54.93,376.3 L55.26,377.3 L55.58,378.3 L55.88,379.3 L56.14,380.3 L56.36,381.3 L56.53,382.3 L56.66,383.3 L56.73,384.3 L56.75,385.3 L56.71,386.3 L56.62,387.3 L56.47,388.3 L56.28,389.3 L56.04,390.3 L55.76,391.3 L55.46,392.3 L55.13,393.3 L54.79,394.3 L54.44,395.3 L54.1,396.3 L53.77,397.3 L53.47,398.3 L53.19,399.3 L52.95,400.3 L52.75,401.3 L52.6,402.3 L52.5,403.3 L52.45,404.3 L52.46,405.3 L52.53,406.3 L52.65,407.3 L52.82,408.3 L53.04,409.3 L53.29,410.3 L53.59,411.3 L53.9,412.3 L54.24,413.3 L54.58,414.3 L54.93,415.3 L55.26,416.3 L55.58,417.3 L55.88,418.3 L56.14,419.3 L56.36,420.3 L56.53,421.3 L56.66,422.3 L56.73,423.3 L56.75,424.3 L56.71,425.3 L56.62,426.3 L56.47,427.3 L56.28,428.3 L56.04,429.3 L55.76,430.3 L55.46,431.3 L55.13,432.3 L54.79,433.3 L54.44,434.3 L54.1,435.3 L53.77,436.3 L53.47,437.3 L53.19,438.3 L52.95,439.3 L52.75,440.3 L52.6,441.3 L52.5,442.3 L52.45,443.3 L52.46,444.3 L52.53,445.3 L52.65,446.3 L52.82,447.3 L53.04,448.3 L53.29,449.3 L53.59,450.3 L53.9,451.3 L54.24,452.3 L54.58,453.3 L54.93,454.3 L55.26,455.3 L55.58,456.3 L55.88,457.3 L56.14,458.3 L56.36,459.3 L56.53,460.3 L56.66,461.3 L56.73,462.3 L56.75,463.3 L56.71,464.3 L56.62,465.3 L56.47,466.3 L56.28,467.3 L56.04,468.3 L55.76,469.3 L55.46,470.3 L55.13,471.3 L54.79,472.3 L54.44,473.3 L54.1,474.3 L53.77,475.3 L53.47,476.3 L53.19,477.3 L52.95,478.3 L52.75,479.3 L52.6,480.3 L52.5,481.3 L52.45,482.3 L52.46,483.3 L52.53,484.3 L52.65,485.3 L52.82,486.3 L53.04,487.3 L53.29,488.3 L53.59,489.3 L53.9,490.3 L54.24,491.3 L54.58,492.3 L54.93,493.3 L55.26,494.3 L55.58,495.3 L55.88,496.3 L56.14,497.3 L56.36,498.3 L56.53,499.3 L56.66,500.3 L56.73,501.3 L56.75,502.3 L56.71,503.3 L56.62,504.3 L56.47,505.3 L56.28,506.3 L56.04,507.3 L55.76,508.3 L55.46,509.3 L55.13,510.3 L54.79,511.3 L54.44,512.3 L54.1,513.3 L53.77,514.3 L53.47,515.3 L53.19,516.3 L52.95,517.3 L52.75,518.3 L52.6,519.3 L52.5,520.3 L52.45,521.3 L52.46,522.3 L52.53,523.3 L52.65,524.3 L52.82,525.3 L53.04,526.3 L53.29,527.3 L53.59,528.3 L53.9,529.3 L54.24,530.3 L54.58,531.3 L54.93,532.3 L55.26,533.3 L55.58,534.3 L55.88,535.3 L56.14,536.3 L56.36,537.3 L56.53,538.3 L56.66,539.3 L56.73,540.3 L56.75,541.3 L56.71,542.3 L56.62,543.3 L56.47,544.3 L56.28,545.3 L56.04,546.3 L55.76,547.3 L55.46,548.3 L55.13,549.3 L54.79,550.3 L54.44,551.3 L54.1,552.3 L53.77,553.3 L53.47,554.3 L53.19,555.3 L52.95,556.3 L52.75,557.3 L52.6,558.3 L52.5,559.3 L52.45,560.3 L52.46,561.3 L52.53,562.3 L52.65,563.3 L52.82,564.3 L53.04,565.3 L53.29,566.3 L53.59,567.3 L53.9,568.3 L54.24,569.3 L54.58,570.3 L54.93,571.3 L55.26,572.3 L55.58,573.3 L55.88,574.3 L56.14,575.3 L56.36,576.3 L56.53,577.3 L56.66,578.3 L56.73,579.3 L56.75,580.3 L56.71,581.3"/><path d="M96.02,348.3 L95.87,349.3 L95.68,350.3 L95.44,351.3 L95.16,352.3 L94.86,353.3 L94.53,354.3 L94.19,355.3 L93.84,356.3 L93.5,357.3 L93.17,358.3 L92.87,359.3 L92.59,360.3 L92.35,361.3 L92.15,362.3 L92,363.3 L91.9,364.3 L91.85,365.3 L91.86,366.3 L91.93,367.3 L92.05,368.3 L92.22,369.3 L92.44,370.3 L92.69,371.3 L92.99,372.3 L93.3,373.3 L93.64,374.3 L93.98,375.3 L94.33,376.3 L94.66,377.3 L94.98,378.3 L95.28,379.3 L95.54,380.3 L95.76,381.3 L95.93,382.3 L96.06,383.3 L96.13,384.3 L96.15,385.3 L96.11,386.3 L96.02,387.3 L95.87,388.3 L95.68,389.3 L95.44,390.3 L95.16,391.3 L94.86,392.3 L94.53,393.3 L94.19,394.3 L93.84,395.3 L93.5,396.3 L93.17,397.3 L92.87,398.3 L92.59,399.3 L92.35,400.3 L92.15,401.3 L92,402.3 L91.9,403.3 L91.85,404.3 L91.86,405.3 L91.93,406.3 L92.05,407.3 L92.22,408.3 L92.44,409.3 L92.69,410.3 L92.99,411.3 L93.3,412.3 L93.64,413.3 L93.98,414.3 L94.33,415.3 L94.66,416.3 L94.98,417.3 L95.28,418.3 L95.54,419.3 L95.76,420.3 L95.93,421.3 L96.06,422.3 L96.13,423.3 L96.15,424.3 L96.11,425.3 L96.02,426.3 L95.87,427.3 L95.68,428.3 L95.44,429.3 L95.16,430.3 L94.86,431.3 L94.53,432.3 L94.19,433.3 L93.84,434.3 L93.5,435.3 L93.17,436.3 L92.87,437.3 L92.59,438.3 L92.35,439.3 L92.15,440.3 L92,441.3 L91.9,442.3 L91.85,443.3 L91.86,444.3 L91.93,445.3 L92.05,446.3 L92.22,447.3 L92.44,448.3 L92.69,449.3 L92.99,450.3 L93.3,451.3 L93.64,452.3 L93.98,453.3 L94.33,454.3 L94.66,455.3 L94.98,456.3 L95.28,457.3 L95.54,458.3 L95.76,459.3 L95.93,460.3 L96.06,461.3 L96.13,462.3 L96.15,463.3 L96.11,464.3 L96.02,465.3 L95.87,466.3 L95.68,467.3 L95.44,468.3 L95.16,469.3 L94.86,470.3 L94.53,471.3 L94.19,472.3 L93.84,473.3 L93.5,474.3 L93.17,475.3 L92.87,476.3 L92.59,477.3 L92.35,478.3 L92.15,479.3 L92,480.3 L91.9,481.3 L91.85,482.3 L91.86,483.3 L91.93,484.3 L92.05,485.3 L92.22,486.3 L92.44,487.3 L92.69,488.3 L92.99,489.3 L93.3,490.3 L93.64,491.3 L93.98,492.3 L94.33,493.3 L94.66,494.3 L94.98,495.3 L95.28,496.3 L95.54,497.3 L95.76,498.3 L95.93,499.3 L96.06,500.3 L96.13,501.3 L96.15,502.3 L96.11,503.3 L96.02,504.3 L95.87,505.3 L95.68,506.3 L95.44,507.3 L95.16,508.3 L94.86,509.3 L94.53,510.3 L94.19,511.3 L93.84,512.3 L93.5,513.3 L93.17,514.3 L92.87,515.3 L92.59,516.3 L92.35,517.3 L92.15,518.3 L92,519.3 L91.9,520.3 L91.85,521.3 L91.86,522.3 L91.93,523.3 L92.05,524.3 L92.22,525.3 L92.44,526.3 L92.69,527.3 L92.99,528.3 L93.3,529.3 L93.64,530.3 L93.98,531.3 L94.33,532.3 L94.66,533.3 L94.98,534.3 L95.28,535.3 L95.54,536.3 L95.76,537.3 L95.93,538.3 L96.06,539.3 L96.13,540.3 L96.15,541.3 L96.11,542.3 L96.02,543.3 L95.87,544.3 L95.68,545.3 L95.44,546.3 L95.16,547.3 L94.86,548.3 L94.53,549.3 L94.19,550.3 L93.84,551.3 L93.5,552.3 L93.17,553.3 L92.87,554.3 L92.59,555.3 L92.35,556.3 L92.15,557.3 L92,558.3 L91.9,559.3 L91.85,560.3 L91.86,561.3 L91.93,562.3 L92.05,563.3 L92.22,564.3 L92.44,565.3 L92.69,566.3 L92.99,567.3 L93.3,568.3 L93.64,569.3 L93.98,570.3 L94.33,571.3 L94.66,572.3 L94.98,573.3 L95.28,574.3 L95.54,575.3 L95.76,576.3 L95.93,577.3 L96.06,578.3 L96.13,579.3 L96.15,580.3 L96.11,581.3"/><path d="M135.42,348.3 L135.27,349.3 L135.08,350.3 L134.84,351.3 L134.56,352.3 L134.26,353.3 L133.93,354.3 L133.59,355.3 L133.24,356.3 L132.9,357.3 L132.57,358.3 L132.27,359.3 L131.99,360.3 L131.75,361.3 L131.55,362.3 L131.4,363.3 L131.3,364.3 L131.25,365.3 L131.26,366.3 L131.33,367.3 L131.45,368.3 L131.62,369.3 L131.84,370.3 L132.09,371.3 L132.39,372.3 L132.7,373.3 L133.04,374.3 L133.38,375.3 L133.73,376.3 L134.06,377.3 L134.38,378.3 L134.68,379.3 L134.94,380.3 L135.16,381.3 L135.33,382.3 L135.46,383.3 L135.53,384.3 L135.55,385.3 L135.51,386.3 L135.42,387.3 L135.27,388.3 L135.08,389.3 L134.84,390.3 L134.56,391.3 L134.26,392.3 L133.93,393.3 L133.59,394.3 L133.24,395.3 L132.9,396.3 L132.57,397.3 L132.27,398.3 L131.99,399.3 L131.75,400.3 L131.55,401.3 L131.4,402.3 L131.3,403.3 L131.25,404.3 L131.26,405.3 L131.33,406.3 L131.45,407.3 L131.62,408.3 L131.84,409.3 L132.09,410.3 L132.39,411.3 L132.7,412.3 L133.04,413.3 L133.38,414.3 L133.73,415.3 L134.06,416.3 L134.38,417.3 L134.68,418.3 L134.94,419.3 L135.16,420.3 L135.33,421.3 L135.46,422.3 L135.53,423.3 L135.55,424.3 L135.51,425.3 L135.42,426.3 L135.27,427.3 L135.08,428.3 L134.84,429.3 L134.56,430.3 L134.26,431.3 L133.93,432.3 L133.59,433.3 L133.24,434.3 L132.9,435.3 L132.57,436.3 L132.27,437.3 L131.99,438.3 L131.75,439.3 L131.55,440.3 L131.4,441.3 L131.3,442.3 L131.25,443.3 L131.26,444.3 L131.33,445.3 L131.45,446.3 L131.62,447.3 L131.84,448.3 L132.09,449.3 L132.39,450.3 L132.7,451.3 L133.04,452.3 L133.38,453.3 L133.73,454.3 L134.06,455.3 L134.38,456.3 L134.68,457.3 L134.94,458.3 L135.16,459.3 L135.33,460.3 L135.46,461.3 L135.53,462.3 L135.55,463.3 L135.51,464.3 L135.42,465.3 L135.27,466.3 L135.08,467.3 L134.84,468.3 L134.56,469.3 L134.26,470.3 L133.93,471.3 L133.59,472.3 L133.24,473.3 L132.9,474.3 L132.57,475.3 L132.27,476.3 L131.99,477.3 L131.75,478.3 L131.55,479.3 L131.4,480.3 L131.3,481.3 L131.25,482.3 L131.26,483.3 L131.33,484.3 L131.45,485.3 L131.62,486.3 L131.84,487.3 L132.09,488.3 L132.39,489.3 L132.7,490.3 L133.04,491.3 L133.38,492.3 L133.73,493.3 L134.06,494.3 L134.38,495.3 L134.68,496.3 L134.94,497.3 L135.16,498.3 L135.33,499.3 L135.46,500.3 L135.53,501.3 L135.55,502.3 L135.51,503.3 L135.42,504.3 L135.27,505.3 L135.08,506.3 L134.84,507.3 L134.56,508.3 L134.26,509.3 L133.93,510.3 L133.59,511.3 L133.24,512.3 L132.9,513.3 L132.57,514.3 L132.27,515.3 L131.99,516.3 L131.75,517.3 L131.55,518.3 L131.4,519.3 L131.3,520.3 L131.25,521.3 L131.26,522.3 L131.33,523.3 L131.45,524.3 L131.62,525.3 L131.84,526.3 L132.09,527.3 L132.39,528.3 L132.7,529.3 L133.04,530.3 L133.38,531.3 L133.73,532.3 L134.06,533.3 L134.38,534.3 L134.68,535.3 L134.94,536.3 L135.16,537.3 L135.33,538.3 L135.46,539.3 L135.53,540.3 L135.55,541.3 L135.51,542.3 L135.42,543.3 L135.27,544.3 L135.08,545.3 L134.84,546.3 L134.56,547.3 L134.26,548.3 L133.93,549.3 L133.59,550.3 L133.24,551.3 L132.9,552.3 L132.57,553.3 L132.27,554.3 L131.99,555.3 L131.75,556.3 L131.55,557.3 L131.4,558.3 L131.3,559.3 L131.25,560.3 L131.26,561.3 L131.33,562.3 L131.45,563.3 L131.62,564.3 L131.84,565.3 L132.09,566.3 L132.39,567.3 L132.7,568.3 L133.04,569.3 L133.38,570.3 L133.73,571.3 L134.06,572.3 L134.38,573.3 L134.68,574.3 L134.94,575.3 L135.16,576.3 L135.33,577.3 L135.46,578.3 L135.53,579.3 L135.55,580.3 L135.51,581.3"/><path d="M174.82,348.3 L174.67,349.3 L174.48,350.3 L174.24,351.3 L173.96,352.3 L173.66,353.3 L173.33,354.3 L172.99,355.3 L172.64,356.3 L172.3,357.3 L171.97,358.3 L171.67,359.3 L171.39,360.3 L171.15,361.3 L170.95,362.3 L170.8,363.3 L170.7,364.3 L170.65,365.3 L170.66,366.3 L170.73,367.3 L170.85,368.3 L171.02,369.3 L171.24,370.3 L171.49,371.3 L171.79,372.3 L172.1,373.3 L172.44,374.3 L172.78,375.3 L173.13,376.3 L173.46,377.3 L173.78,378.3 L174.08,379.3 L174.34,380.3 L174.56,381.3 L174.73,382.3 L174.86,383.3 L174.93,384.3 L174.95,385.3 L174.91,386.3 L174.82,387.3 L174.67,388.3 L174.48,389.3 L174.24,390.3 L173.96,391.3 L173.66,392.3 L173.33,393.3 L172.99,394.3 L172.64,395.3 L172.3,396.3 L171.97,397.3 L171.67,398.3 L171.39,399.3 L171.15,400.3 L170.95,401.3 L170.8,402.3 L170.7,403.3 L170.65,404.3 L170.66,405.3 L170.73,406.3 L170.85,407.3 L171.02,408.3 L171.24,409.3 L171.49,410.3 L171.79,411.3 L172.1,412.3 L172.44,413.3 L172.78,414.3 L173.13,415.3 L173.46,416.3 L173.78,417.3 L174.08,418.3 L174.34,419.3 L174.56,420.3 L174.73,421.3 L174.86,422.3 L174.93,423.3 L174.95,424.3 L174.91,425.3 L174.82,426.3 L174.67,427.3 L174.48,428.3 L174.24,429.3 L173.96,430.3 L173.66,431.3 L173.33,432.3 L172.99,433.3 L172.64,434.3 L172.3,435.3 L171.97,436.3 L171.67,437.3 L171.39,438.3 L171.15,439.3 L170.95,440.3 L170.8,441.3 L170.7,442.3 L170.65,443.3 L170.66,444.3 L170.73,445.3 L170.85,446.3 L171.02,447.3 L171.24,448.3 L171.49,449.3 L171.79,450.3 L172.1,451.3 L172.44,452.3 L172.78,453.3 L173.13,454.3 L173.46,455.3 L173.78,456.3 L174.08,457.3 L174.34,458.3 L174.56,459.3 L174.73,460.3 L174.86,461.3 L174.93,462.3 L174.95,463.3 L174.91,464.3 L174.82,465.3 L174.67,466.3 L174.48,467.3 L174.24,468.3 L173.96,469.3 L173.66,470.3 L173.33,471.3 L172.99,472.3 L172.64,473.3 L172.3,474.3 L171.97,475.3 L171.67,476.3 L171.39,477.3 L171.15,478.3 L170.95,479.3 L170.8,480.3 L170.7,481.3 L170.65,482.3 L170.66,483.3 L170.73,484.3 L170.85,485.3 L171.02,486.3 L171.24,487.3 L171.49,488.3 L171.79,489.3 L172.1,490.3 L172.44,491.3 L172.78,492.3 L173.13,493.3 L173.46,494.3 L173.78,495.3 L174.08,496.3 L174.34,497.3 L174.56,498.3 L174.73,499.3 L174.86,500.3 L174.93,501.3 L174.95,502.3 L174.91,503.3 L174.82,504.3 L174.67,505.3 L174.48,506.3 L174.24,507.3 L173.96,508.3 L173.66,509.3 L173.33,510.3 L172.99,511.3 L172.64,512.3 L172.3,513.3 L171.97,514.3 L171.67,515.3 L171.39,516.3 L171.15,517.3 L170.95,518.3 L170.8,519.3 L170.7,520.3 L170.65,521.3 L170.66,522.3 L170.73,523.3 L170.85,524.3 L171.02,525.3 L171.24,526.3 L171.49,527.3 L171.79,528.3 L172.1,529.3 L172.44,530.3 L172.78,531.3 L173.13,532.3 L173.46,533.3 L173.78,534.3 L174.08,535.3 L174.34,536.3 L174.56,537.3 L174.73,538.3 L174.86,539.3 L174.93,540.3 L174.95,541.3 L174.91,542.3 L174.82,543.3 L174.67,544.3 L174.48,545.3 L174.24,546.3 L173.96,547.3 L173.66,548.3 L173.33,549.3 L172.99,550.3 L172.64,551.3 L172.3,552.3 L171.97,553.3 L171.67,554.3 L171.39,555.3 L171.15,556.3 L170.95,557.3 L170.8,558.3 L170.7,559.3 L170.65,560.3 L170.66,561.3 L170.73,562.3 L170.85,563.3 L171.02,564.3 L171.24,565.3 L171.49,566.3 L171.79,567.3 L172.1,568.3 L172.44,569.3 L172.78,570.3 L173.13,571.3 L173.46,572.3 L173.78,573.3 L174.08,574.3 L174.34,575.3 L174.56,576.3 L174.73,577.3 L174.86,578.3 L174.93,579.3 L174.95,580.3 L174.91,581.3"/><path d="M214.22,348.3 L214.07,349.3 L213.88,350.3 L213.64,351.3 L213.36,352.3 L213.06,353.3 L212.73,354.3 L212.39,355.3 L212.04,356.3 L211.7,357.3 L211.37,358.3 L211.07,359.3 L210.79,360.3 L210.55,361.3 L210.35,362.3 L210.2,363.3 L210.1,364.3 L210.05,365.3 L210.06,366.3 L210.13,367.3 L210.25,368.3 L210.42,369.3 L210.64,370.3 L210.89,371.3 L211.19,372.3 L211.5,373.3 L211.84,374.3 L212.18,375.3 L212.53,376.3 L212.86,377.3 L213.18,378.3 L213.48,379.3 L213.74,380.3 L213.96,381.3 L214.13,382.3 L214.26,383.3 L214.33,384.3 L214.35,385.3 L214.31,386.3 L214.22,387.3 L214.07,388.3 L213.88,389.3 L213.64,390.3 L213.36,391.3 L213.06,392.3 L212.73,393.3 L212.39,394.3 L212.04,395.3 L211.7,396.3 L211.37,397.3 L211.07,398.3 L210.79,399.3 L210.55,400.3 L210.35,401.3 L210.2,402.3 L210.1,403.3 L210.05,404.3 L210.06,405.3 L210.13,406.3 L210.25,407.3 L210.42,408.3 L210.64,409.3 L210.89,410.3 L211.19,411.3 L211.5,412.3 L211.84,413.3 L212.18,414.3 L212.53,415.3 L212.86,416.3 L213.18,417.3 L213.48,418.3 L213.74,419.3 L213.96,420.3 L214.13,421.3 L214.26,422.3 L214.33,423.3 L214.35,424.3 L214.31,425.3 L214.22,426.3 L214.07,427.3 L213.88,428.3 L213.64,429.3 L213.36,430.3 L213.06,431.3 L212.73,432.3 L212.39,433.3 L212.04,434.3 L211.7,435.3 L211.37,436.3 L211.07,437.3 L210.79,438.3 L210.55,439.3 L210.35,440.3 L210.2,441.3 L210.1,442.3 L210.05,443.3 L210.06,444.3 L210.13,445.3 L210.25,446.3 L210.42,447.3 L210.64,448.3 L210.89,449.3 L211.19,450.3 L211.5,451.3 L211.84,452.3 L212.18,453.3 L212.53,454.3 L212.86,455.3 L213.18,456.3 L213.48,457.3 L213.74,458.3 L213.96,459.3 L214.13,460.3 L214.26,461.3 L214.33,462.3 L214.35,463.3 L214.31,464.3 L214.22,465.3 L214.07,466.3 L213.88,467.3 L213.64,468.3 L213.36,469.3 L213.06,470.3 L212.73,471.3 L212.39,472.3 L212.04,473.3 L211.7,474.3 L211.37,475.3 L211.07,476.3 L210.79,477.3 L210.55,478.3 L210.35,479.3 L210.2,480.3 L210.1,481.3 L210.05,482.3 L210.06,483.3 L210.13,484.3 L210.25,485.3 L210.42,486.3 L210.64,487.3 L210.89,488.3 L211.19,489.3 L211.5,490.3 L211.84,491.3 L212.18,492.3 L212.53,493.3 L212.86,494.3 L213.18,495.3 L213.48,496.3 L213.74,497.3 L213.96,498.3 L214.13,499.3 L214.26,500.3 L214.33,501.3 L214.35,502.3 L214.31,503.3 L214.22,504.3 L214.07,505.3 L213.88,506.3 L213.64,507.3 L213.36,508.3 L213.06,509.3 L212.73,510.3 L212.39,511.3 L212.04,512.3 L211.7,513.3 L211.37,514.3 L211.07,515.3 L210.79,516.3 L210.55,517.3 L210.35,518.3 L210.2,519.3 L210.1,520.3 L210.05,521.3 L210.06,522.3 L210.13,523.3 L210.25,524.3 L210.42,525.3 L210.64,526.3 L210.89,527.3 L211.19,528.3 L211.5,529.3 L211.84,530.3 L212.18,531.3 L212.53,532.3 L212.86,533.3 L213.18,534.3 L213.48,535.3 L213.74,536.3 L213.96,537.3 L214.13,538.3 L214.26,539.3 L214.33,540.3 L214.35,541.3 L214.31,542.3 L214.22,543.3 L214.07,544.3 L213.88,545.3 L213.64,546.3 L213.36,547.3 L213.06,548.3 L212.73,549.3 L212.39,550.3 L212.04,551.3 L211.7,552.3 L211.37,553.3 L211.07,554.3 L210.79,555.3 L210.55,556.3 L210.35,557.3 L210.2,558.3 L210.1,559.3 L210.05,560.3 L210.06,561.3 L210.13,562.3 L210.25,563.3 L210.42,564.3 L210.64,565.3 L210.89,566.3 L211.19,567.3 L211.5,568.3 L211.84,569.3 L212.18,570.3 L212.53,571.3 L212.86,572.3 L213.18,573.3 L213.48,574.3 L213.74,575.3 L213.96,576.3 L214.13,577.3 L214.26,578.3 L214.33,579.3 L214.35,580.3 L214.31,581.3"/><path d="M253.62,348.3 L253.47,349.3 L253.28,350.3 L253.04,351.3 L252.76,352.3 L252.46,353.3 L252.13,354.3 L251.79,355.3 L251.44,356.3 L251.1,357.3 L250.77,358.3 L250.47,359.3 L250.19,360.3 L249.95,361.3 L249.75,362.3 L249.6,363.3 L249.5,364.3 L249.45,365.3 L249.46,366.3 L249.53,367.3 L249.65,368.3 L249.82,369.3 L250.04,370.3 L250.29,371.3 L250.59,372.3 L250.9,373.3 L251.24,374.3 L251.58,375.3 L251.93,376.3 L252.26,377.3 L252.58,378.3 L252.88,379.3 L253.14,380.3 L253.36,381.3 L253.53,382.3 L253.66,383.3 L253.73,384.3 L253.75,385.3 L253.71,386.3 L253.62,387.3 L253.47,388.3 L253.28,389.3 L253.04,390.3 L252.76,391.3 L252.46,392.3 L252.13,393.3 L251.79,394.3 L251.44,395.3 L251.1,396.3 L250.77,397.3 L250.47,398.3 L250.19,399.3 L249.95,400.3 L249.75,401.3 L249.6,402.3 L249.5,403.3 L249.45,404.3 L249.46,405.3 L249.53,406.3 L249.65,407.3 L249.82,408.3 L250.04,409.3 L250.29,410.3 L250.59,411.3 L250.9,412.3 L251.24,413.3 L251.58,414.3 L251.93,415.3 L252.26,416.3 L252.58,417.3 L252.88,418.3 L253.14,419.3 L253.36,420.3 L253.53,421.3 L253.66,422.3 L253.73,423.3 L253.75,424.3 L253.71,425.3 L253.62,426.3 L253.47,427.3 L253.28,428.3 L253.04,429.3 L252.76,430.3 L252.46,431.3 L252.13,432.3 L251.79,433.3 L251.44,434.3 L251.1,435.3 L250.77,436.3 L250.47,437.3 L250.19,438.3 L249.95,439.3 L249.75,440.3 L249.6,441.3 L249.5,442.3 L249.45,443.3 L249.46,444.3 L249.53,445.3 L249.65,446.3 L249.82,447.3 L250.04,448.3 L250.29,449.3 L250.59,450.3 L250.9,451.3 L251.24,452.3 L251.58,453.3 L251.93,454.3 L252.26,455.3 L252.58,456.3 L252.88,457.3 L253.14,458.3 L253.36,459.3 L253.53,460.3 L253.66,461.3 L253.73,462.3 L253.75,463.3 L253.71,464.3 L253.62,465.3 L253.47,466.3 L253.28,467.3 L253.04,468.3 L252.76,469.3 L252.46,470.3 L252.13,471.3 L251.79,472.3 L251.44,473.3 L251.1,474.3 L250.77,475.3 L250.47,476.3 L250.19,477.3 L249.95,478.3 L249.75,479.3 L249.6,480.3 L249.5,481.3 L249.45,482.3 L249.46,483.3 L249.53,484.3 L249.65,485.3 L249.82,486.3 L250.04,487.3 L250.29,488.3 L250.59,489.3 L250.9,490.3 L251.24,491.3 L251.58,492.3 L251.93,493.3 L252.26,494.3 L252.58,495.3 L252.88,496.3 L253.14,497.3 L253.36,498.3 L253.53,499.3 L253.66,500.3 L253.73,501.3 L253.75,502.3 L253.71,503.3 L253.62,504.3 L253.47,505.3 L253.28,506.3 L253.04,507.3 L252.76,508.3 L252.46,509.3 L252.13,510.3 L251.79,511.3 L251.44,512.3 L251.1,513.3 L250.77,514.3 L250.47,515.3 L250.19,516.3 L249.95,517.3 L249.75,518.3 L249.6,519.3 L249.5,520.3 L249.45,521.3 L249.46,522.3 L249.53,523.3 L249.65,524.3 L249.82,525.3 L250.04,526.3 L250.29,527.3 L250.59,528.3 L250.9,529.3 L251.24,530.3 L251.58,531.3 L251.93,532.3 L252.26,533.3 L252.58,534.3 L252.88,535.3 L253.14,536.3 L253.36,537.3 L253.53,538.3 L253.66,539.3 L253.73,540.3 L253.75,541.3 L253.71,542.3 L253.62,543.3 L253.47,544.3 L253.28,545.3 L253.04,546.3 L252.76,547.3 L252.46,548.3 L252.13,549.3 L251.79,550.3 L251.44,551.3 L251.1,552.3 L250.77,553.3 L250.47,554.3 L250.19,555.3 L249.95,556.3 L249.75,557.3 L249.6,558.3 L249.5,559.3 L249.45,560.3 L249.46,561.3 L249.53,562.3 L249.65,563.3 L249.82,564.3 L250.04,565.3 L250.29,566.3 L250.59,567.3 L250.9,568.3 L251.24,569.3 L251.58,570.3 L251.93,571.3 L252.26,572.3 L252.58,573.3 L252.88,574.3 L253.14,575.3 L253.36,576.3 L253.53,577.3 L253.66,578.3 L253.73,579.3 L253.75,580.3 L253.71,581.3"/><path d="M36.8,363.71 L37.8,363.88 L38.8,364.1 L39.8,364.35 L40.8,364.64 L41.8,364.95 L42.8,365.28 L43.8,365.62 L44.8,365.95 L45.8,366.28 L46.8,366.59 L47.8,366.88 L48.8,367.13 L49.8,367.34 L50.8,367.5 L51.8,367.62 L52.8,367.69 L53.8,367.7 L54.8,367.65 L55.8,367.56 L56.8,367.41 L57.8,367.22 L58.8,366.98 L59.8,366.71 L60.8,366.41 L61.8,366.09 L62.8,365.75 L63.8,365.41 L64.8,365.08 L65.8,364.76 L66.8,364.46 L67.8,364.19 L68.8,363.96 L69.8,363.77 L70.8,363.63 L71.8,363.54 L72.8,363.5 L73.8,363.52 L74.8,363.59 L75.8,363.71 L76.8,363.88 L77.8,364.1 L78.8,364.35 L79.8,364.64 L80.8,364.95 L81.8,365.28 L82.8,365.62 L83.8,365.95 L84.8,366.28 L85.8,366.59 L86.8,366.88 L87.8,367.13 L88.8,367.34 L89.8,367.5 L90.8,367.62 L91.8,367.69 L92.8,367.7 L93.8,367.65 L94.8,367.56 L95.8,367.41 L96.8,367.22 L97.8,366.98 L98.8,366.71 L99.8,366.41 L100.8,366.09 L101.8,365.75 L102.8,365.41 L103.8,365.08 L104.8,364.76 L105.8,364.46 L106.8,364.19 L107.8,363.96 L108.8,363.77 L109.8,363.63 L110.8,363.54 L111.8,363.5 L112.8,363.52 L113.8,363.59 L114.8,363.71 L115.8,363.88 L116.8,364.1 L117.8,364.35 L118.8,364.64 L119.8,364.95 L120.8,365.28 L121.8,365.62 L122.8,365.95 L123.8,366.28 L124.8,366.59 L125.8,366.88 L126.8,367.13 L127.8,367.34 L128.8,367.5 L129.8,367.62 L130.8,367.69 L131.8,367.7 L132.8,367.65 L133.8,367.56 L134.8,367.41 L135.8,367.22 L136.8,366.98 L137.8,366.71 L138.8,366.41 L139.8,366.09 L140.8,365.75 L141.8,365.41 L142.8,365.08 L143.8,364.76 L144.8,364.46 L145.8,364.19 L146.8,363.96 L147.8,363.77 L148.8,363.63 L149.8,363.54 L150.8,363.5 L151.8,363.52 L152.8,363.59 L153.8,363.71 L154.8,363.88 L155.8,364.1 L156.8,364.35 L157.8,364.64 L158.8,364.95 L159.8,365.28 L160.8,365.62 L161.8,365.95 L162.8,366.28 L163.8,366.59 L164.8,366.88 L165.8,367.13 L166.8,367.34 L167.8,367.5 L168.8,367.62 L169.8,367.69 L170.8,367.7 L171.8,367.65 L172.8,367.56 L173.8,367.41 L174.8,367.22 L175.8,366.98 L176.8,366.71 L177.8,366.41 L178.8,366.09 L179.8,365.75 L180.8,365.41 L181.8,365.08 L182.8,364.76 L183.8,364.46 L184.8,364.19 L185.8,363.96 L186.8,363.77 L187.8,363.63 L188.8,363.54 L189.8,363.5 L190.8,363.52 L191.8,363.59 L192.8,363.71 L193.8,363.88 L194.8,364.1 L195.8,364.35 L196.8,364.64 L197.8,364.95 L198.8,365.28 L199.8,365.62 L200.8,365.95 L201.8,366.28 L202.8,366.59 L203.8,366.88 L204.8,367.13 L205.8,367.34 L206.8,367.5 L207.8,367.62 L208.8,367.69 L209.8,367.7 L210.8,367.65 L211.8,367.56 L212.8,367.41 L213.8,367.22 L214.8,366.98 L215.8,366.71 L216.8,366.41 L217.8,366.09 L218.8,365.75 L219.8,365.41 L220.8,365.08 L221.8,364.76 L222.8,364.46 L223.8,364.19 L224.8,363.96 L225.8,363.77 L226.8,363.63 L227.8,363.54 L228.8,363.5 L229.8,363.52 L230.8,363.59 L231.8,363.71 L232.8,363.88 L233.8,364.1 L234.8,364.35 L235.8,364.64 L236.8,364.95 L237.8,365.28 L238.8,365.62 L239.8,365.95 L240.8,366.28 L241.8,366.59 L242.8,366.88 L243.8,367.13 L244.8,367.34 L245.8,367.5 L246.8,367.62 L247.8,367.69 L248.8,367.7 L249.8,367.65 L250.8,367.56 L251.8,367.41 L252.8,367.22 L253.8,366.98 L254.8,366.71 L255.8,366.41 L256.8,366.09 L257.8,365.75 L258.8,365.41 L259.8,365.08 L260.8,364.76 L261.8,364.46 L262.8,364.19 L263.8,363.96 L264.8,363.77 L265.8,363.63 L266.8,363.54"/><path d="M36.8,403.11 L37.8,403.28 L38.8,403.5 L39.8,403.75 L40.8,404.04 L41.8,404.35 L42.8,404.68 L43.8,405.02 L44.8,405.35 L45.8,405.68 L46.8,405.99 L47.8,406.28 L48.8,406.53 L49.8,406.74 L50.8,406.9 L51.8,407.02 L52.8,407.09 L53.8,407.1 L54.8,407.05 L55.8,406.96 L56.8,406.81 L57.8,406.62 L58.8,406.38 L59.8,406.11 L60.8,405.81 L61.8,405.49 L62.8,405.15 L63.8,404.81 L64.8,404.48 L65.8,404.16 L66.8,403.86 L67.8,403.59 L68.8,403.36 L69.8,403.17 L70.8,403.03 L71.8,402.94 L72.8,402.9 L73.8,402.92 L74.8,402.99 L75.8,403.11 L76.8,403.28 L77.8,403.5 L78.8,403.75 L79.8,404.04 L80.8,404.35 L81.8,404.68 L82.8,405.02 L83.8,405.35 L84.8,405.68 L85.8,405.99 L86.8,406.28 L87.8,406.53 L88.8,406.74 L89.8,406.9 L90.8,407.02 L91.8,407.09 L92.8,407.1 L93.8,407.05 L94.8,406.96 L95.8,406.81 L96.8,406.62 L97.8,406.38 L98.8,406.11 L99.8,405.81 L100.8,405.49 L101.8,405.15 L102.8,404.81 L103.8,404.48 L104.8,404.16 L105.8,403.86 L106.8,403.59 L107.8,403.36 L108.8,403.17 L109.8,403.03 L110.8,402.94 L111.8,402.9 L112.8,402.92 L113.8,402.99 L114.8,403.11 L115.8,403.28 L116.8,403.5 L117.8,403.75 L118.8,404.04 L119.8,404.35 L120.8,404.68 L121.8,405.02 L122.8,405.35 L123.8,405.68 L124.8,405.99 L125.8,406.28 L126.8,406.53 L127.8,406.74 L128.8,406.9 L129.8,407.02 L130.8,407.09 L131.8,407.1 L132.8,407.05 L133.8,406.96 L134.8,406.81 L135.8,406.62 L136.8,406.38 L137.8,406.11 L138.8,405.81 L139.8,405.49 L140.8,405.15 L141.8,404.81 L142.8,404.48 L143.8,404.16 L144.8,403.86 L145.8,403.59 L146.8,403.36 L147.8,403.17 L148.8,403.03 L149.8,402.94 L150.8,402.9 L151.8,402.92 L152.8,402.99 L153.8,403.11 L154.8,403.28 L155.8,403.5 L156.8,403.75 L157.8,404.04 L158.8,404.35 L159.8,404.68 L160.8,405.02 L161.8,405.35 L162.8,405.68 L163.8,405.99 L164.8,406.28 L165.8,406.53 L166.8,406.74 L167.8,406.9 L168.8,407.02 L169.8,407.09 L170.8,407.1 L171.8,407.05 L172.8,406.96 L173.8,406.81 L174.8,406.62 L175.8,406.38 L176.8,406.11 L177.8,405.81 L178.8,405.49 L179.8,405.15 L180.8,404.81 L181.8,404.48 L182.8,404.16 L183.8,403.86 L184.8,403.59 L185.8,403.36 L186.8,403.17 L187.8,403.03 L188.8,402.94 L189.8,402.9 L190.8,402.92 L191.8,402.99 L192.8,403.11 L193.8,403.28 L194.8,403.5 L195.8,403.75 L196.8,404.04 L197.8,404.35 L198.8,404.68 L199.8,405.02 L200.8,405.35 L201.8,405.68 L202.8,405.99 L203.8,406.28 L204.8,406.53 L205.8,406.74 L206.8,406.9 L207.8,407.02 L208.8,407.09 L209.8,407.1 L210.8,407.05 L211.8,406.96 L212.8,406.81 L213.8,406.62 L214.8,406.38 L215.8,406.11 L216.8,405.81 L217.8,405.49 L218.8,405.15 L219.8,404.81 L220.8,404.48 L221.8,404.16 L222.8,403.86 L223.8,403.59 L224.8,403.36 L225.8,403.17 L226.8,403.03 L227.8,402.94 L228.8,402.9 L229.8,402.92 L230.8,402.99 L231.8,403.11 L232.8,403.28 L233.8,403.5 L234.8,403.75 L235.8,404.04 L236.8,404.35 L237.8,404.68 L238.8,405.02 L239.8,405.35 L240.8,405.68 L241.8,405.99 L242.8,406.28 L243.8,406.53 L244.8,406.74 L245.8,406.9 L246.8,407.02 L247.8,407.09 L248.8,407.1 L249.8,407.05 L250.8,406.96 L251.8,406.81 L252.8,406.62 L253.8,406.38 L254.8,406.11 L255.8,405.81 L256.8,405.49 L257.8,405.15 L258.8,404.81 L259.8,404.48 L260.8,404.16 L261.8,403.86 L262.8,403.59 L263.8,403.36 L264.8,403.17 L265.8,403.03 L266.8,402.94"/><path d="M36.8,442.51 L37.8,442.68 L38.8,442.9 L39.8,443.15 L40.8,443.44 L41.8,443.75 L42.8,444.08 L43.8,444.42 L44.8,444.75 L45.8,445.08 L46.8,445.39 L47.8,445.68 L48.8,445.93 L49.8,446.14 L50.8,446.3 L51.8,446.42 L52.8,446.49 L53.8,446.5 L54.8,446.45 L55.8,446.36 L56.8,446.21 L57.8,446.02 L58.8,445.78 L59.8,445.51 L60.8,445.21 L61.8,444.89 L62.8,444.55 L63.8,444.21 L64.8,443.88 L65.8,443.56 L66.8,443.26 L67.8,442.99 L68.8,442.76 L69.8,442.57 L70.8,442.43 L71.8,442.34 L72.8,442.3 L73.8,442.32 L74.8,442.39 L75.8,442.51 L76.8,442.68 L77.8,442.9 L78.8,443.15 L79.8,443.44 L80.8,443.75 L81.8,444.08 L82.8,444.42 L83.8,444.75 L84.8,445.08 L85.8,445.39 L86.8,445.68 L87.8,445.93 L88.8,446.14 L89.8,446.3 L90.8,446.42 L91.8,446.49 L92.8,446.5 L93.8,446.45 L94.8,446.36 L95.8,446.21 L96.8,446.02 L97.8,445.78 L98.8,445.51 L99.8,445.21 L100.8,444.89 L101.8,444.55 L102.8,444.21 L103.8,443.88 L104.8,443.56 L105.8,443.26 L106.8,442.99 L107.8,442.76 L108.8,442.57 L109.8,442.43 L110.8,442.34 L111.8,442.3 L112.8,442.32 L113.8,442.39 L114.8,442.51 L115.8,442.68 L116.8,442.9 L117.8,443.15 L118.8,443.44 L119.8,443.75 L120.8,444.08 L121.8,444.42 L122.8,444.75 L123.8,445.08 L124.8,445.39 L125.8,445.68 L126.8,445.93 L127.8,446.14 L128.8,446.3 L129.8,446.42 L130.8,446.49 L131.8,446.5 L132.8,446.45 L133.8,446.36 L134.8,446.21 L135.8,446.02 L136.8,445.78 L137.8,445.51 L138.8,445.21 L139.8,444.89 L140.8,444.55 L141.8,444.21 L142.8,443.88 L143.8,443.56 L144.8,443.26 L145.8,442.99 L146.8,442.76 L147.8,442.57 L148.8,442.43 L149.8,442.34 L150.8,442.3 L151.8,442.32 L152.8,442.39 L153.8,442.51 L154.8,442.68 L155.8,442.9 L156.8,443.15 L157.8,443.44 L158.8,443.75 L159.8,444.08 L160.8,444.42 L161.8,444.75 L162.8,445.08 L163.8,445.39 L164.8,445.68 L165.8,445.93 L166.8,446.14 L167.8,446.3 L168.8,446.42 L169.8,446.49 L170.8,446.5 L171.8,446.45 L172.8,446.36 L173.8,446.21 L174.8,446.02 L175.8,445.78 L176.8,445.51 L177.8,445.21 L178.8,444.89 L179.8,444.55 L180.8,444.21 L181.8,443.88 L182.8,443.56 L183.8,443.26 L184.8,442.99 L185.8,442.76 L186.8,442.57 L187.8,442.43 L188.8,442.34 L189.8,442.3 L190.8,442.32 L191.8,442.39 L192.8,442.51 L193.8,442.68 L194.8,442.9 L195.8,443.15 L196.8,443.44 L197.8,443.75 L198.8,444.08 L199.8,444.42 L200.8,444.75 L201.8,445.08 L202.8,445.39 L203.8,445.68 L204.8,445.93 L205.8,446.14 L206.8,446.3 L207.8,446.42 L208.8,446.49 L209.8,446.5 L210.8,446.45 L211.8,446.36 L212.8,446.21 L213.8,446.02 L214.8,445.78 L215.8,445.51 L216.8,445.21 L217.8,444.89 L218.8,444.55 L219.8,444.21 L220.8,443.88 L221.8,443.56 L222.8,443.26 L223.8,442.99 L224.8,442.76 L225.8,442.57 L226.8,442.43 L227.8,442.34 L228.8,442.3 L229.8,442.32 L230.8,442.39 L231.8,442.51 L232.8,442.68 L233.8,442.9 L234.8,443.15 L235.8,443.44 L236.8,443.75 L237.8,444.08 L238.8,444.42 L239.8,444.75 L240.8,445.08 L241.8,445.39 L242.8,445.68 L243.8,445.93 L244.8,446.14 L245.8,446.3 L246.8,446.42 L247.8,446.49 L248.8,446.5 L249.8,446.45 L250.8,446.36 L251.8,446.21 L252.8,446.02 L253.8,445.78 L254.8,445.51 L255.8,445.21 L256.8,444.89 L257.8,444.55 L258.8,444.21 L259.8,443.88 L260.8,443.56 L261.8,443.26 L262.8,442.99 L263.8,442.76 L264.8,442.57 L265.8,442.43 L266.8,442.34"/><path d="M36.8,481.91 L37.8,482.08 L38.8,482.3 L39.8,482.55 L40.8,482.84 L41.8,483.15 L42.8,483.48 L43.8,483.82 L44.8,484.15 L45.8,484.48 L46.8,484.79 L47.8,485.08 L48.8,485.33 L49.8,485.54 L50.8,485.7 L51.8,485.82 L52.8,485.89 L53.8,485.9 L54.8,485.85 L55.8,485.76 L56.8,485.61 L57.8,485.42 L58.8,485.18 L59.8,484.91 L60.8,484.61 L61.8,484.29 L62.8,483.95 L63.8,483.61 L64.8,483.28 L65.8,482.96 L66.8,482.66 L67.8,482.39 L68.8,482.16 L69.8,481.97 L70.8,481.83 L71.8,481.74 L72.8,481.7 L73.8,481.72 L74.8,481.79 L75.8,481.91 L76.8,482.08 L77.8,482.3 L78.8,482.55 L79.8,482.84 L80.8,483.15 L81.8,483.48 L82.8,483.82 L83.8,484.15 L84.8,484.48 L85.8,484.79 L86.8,485.08 L87.8,485.33 L88.8,485.54 L89.8,485.7 L90.8,485.82 L91.8,485.89 L92.8,485.9 L93.8,485.85 L94.8,485.76 L95.8,485.61 L96.8,485.42 L97.8,485.18 L98.8,484.91 L99.8,484.61 L100.8,484.29 L101.8,483.95 L102.8,483.61 L103.8,483.28 L104.8,482.96 L105.8,482.66 L106.8,482.39 L107.8,482.16 L108.8,481.97 L109.8,481.83 L110.8,481.74 L111.8,481.7 L112.8,481.72 L113.8,481.79 L114.8,481.91 L115.8,482.08 L116.8,482.3 L117.8,482.55 L118.8,482.84 L119.8,483.15 L120.8,483.48 L121.8,483.82 L122.8,484.15 L123.8,484.48 L124.8,484.79 L125.8,485.08 L126.8,485.33 L127.8,485.54 L128.8,485.7 L129.8,485.82 L130.8,485.89 L131.8,485.9 L132.8,485.85 L133.8,485.76 L134.8,485.61 L135.8,485.42 L136.8,485.18 L137.8,484.91 L138.8,484.61 L139.8,484.29 L140.8,483.95 L141.8,483.61 L142.8,483.28 L143.8,482.96 L144.8,482.66 L145.8,482.39 L146.8,482.16 L147.8,481.97 L148.8,481.83 L149.8,481.74 L150.8,481.7 L151.8,481.72 L152.8,481.79 L153.8,481.91 L154.8,482.08 L155.8,482.3 L156.8,482.55 L157.8,482.84 L158.8,483.15 L159.8,483.48 L160.8,483.82 L161.8,484.15 L162.8,484.48 L163.8,484.79 L164.8,485.08 L165.8,485.33 L166.8,485.54 L167.8,485.7 L168.8,485.82 L169.8,485.89 L170.8,485.9 L171.8,485.85 L172.8,485.76 L173.8,485.61 L174.8,485.42 L175.8,485.18 L176.8,484.91 L177.8,484.61 L178.8,484.29 L179.8,483.95 L180.8,483.61 L181.8,483.28 L182.8,482.96 L183.8,482.66 L184.8,482.39 L185.8,482.16 L186.8,481.97 L187.8,481.83 L188.8,481.74 L189.8,481.7 L190.8,481.72 L191.8,481.79 L192.8,481.91 L193.8,482.08 L194.8,482.3 L195.8,482.55 L196.8,482.84 L197.8,483.15 L198.8,483.48 L199.8,483.82 L200.8,484.15 L201.8,484.48 L202.8,484.79 L203.8,485.08 L204.8,485.33 L205.8,485.54 L206.8,485.7 L207.8,485.82 L208.8,485.89 L209.8,485.9 L210.8,485.85 L211.8,485.76 L212.8,485.61 L213.8,485.42 L214.8,485.18 L215.8,484.91 L216.8,484.61 L217.8,484.29 L218.8,483.95 L219.8,483.61 L220.8,483.28 L221.8,482.96 L222.8,482.66 L223.8,482.39 L224.8,482.16 L225.8,481.97 L226.8,481.83 L227.8,481.74 L228.8,481.7 L229.8,481.72 L230.8,481.79 L231.8,481.91 L232.8,482.08 L233.8,482.3 L234.8,482.55 L235.8,482.84 L236.8,483.15 L237.8,483.48 L238.8,483.82 L239.8,484.15 L240.8,484.48 L241.8,484.79 L242.8,485.08 L243.8,485.33 L244.8,485.54 L245.8,485.7 L246.8,485.82 L247.8,485.89 L248.8,485.9 L249.8,485.85 L250.8,485.76 L251.8,485.61 L252.8,485.42 L253.8,485.18 L254.8,484.91 L255.8,484.61 L256.8,484.29 L257.8,483.95 L258.8,483.61 L259.8,483.28 L260.8,482.96 L261.8,482.66 L262.8,482.39 L263.8,482.16 L264.8,481.97 L265.8,481.83 L266.8,481.74"/><path d="M36.8,521.31 L37.8,521.48 L38.8,521.7 L39.8,521.95 L40.8,522.24 L41.8,522.55 L42.8,522.88 L43.8,523.22 L44.8,523.55 L45.8,523.88 L46.8,524.19 L47.8,524.48 L48.8,524.73 L49.8,524.94 L50.8,525.1 L51.8,525.22 L52.8,525.29 L53.8,525.3 L54.8,525.25 L55.8,525.16 L56.8,525.01 L57.8,524.82 L58.8,524.58 L59.8,524.31 L60.8,524.01 L61.8,523.69 L62.8,523.35 L63.8,523.01 L64.8,522.68 L65.8,522.36 L66.8,522.06 L67.8,521.79 L68.8,521.56 L69.8,521.37 L70.8,521.23 L71.8,521.14 L72.8,521.1 L73.8,521.12 L74.8,521.19 L75.8,521.31 L76.8,521.48 L77.8,521.7 L78.8,521.95 L79.8,522.24 L80.8,522.55 L81.8,522.88 L82.8,523.22 L83.8,523.55 L84.8,523.88 L85.8,524.19 L86.8,524.48 L87.8,524.73 L88.8,524.94 L89.8,525.1 L90.8,525.22 L91.8,525.29 L92.8,525.3 L93.8,525.25 L94.8,525.16 L95.8,525.01 L96.8,524.82 L97.8,524.58 L98.8,524.31 L99.8,524.01 L100.8,523.69 L101.8,523.35 L102.8,523.01 L103.8,522.68 L104.8,522.36 L105.8,522.06 L106.8,521.79 L107.8,521.56 L108.8,521.37 L109.8,521.23 L110.8,521.14 L111.8,521.1 L112.8,521.12 L113.8,521.19 L114.8,521.31 L115.8,521.48 L116.8,521.7 L117.8,521.95 L118.8,522.24 L119.8,522.55 L120.8,522.88 L121.8,523.22 L122.8,523.55 L123.8,523.88 L124.8,524.19 L125.8,524.48 L126.8,524.73 L127.8,524.94 L128.8,525.1 L129.8,525.22 L130.8,525.29 L131.8,525.3 L132.8,525.25 L133.8,525.16 L134.8,525.01 L135.8,524.82 L136.8,524.58 L137.8,524.31 L138.8,524.01 L139.8,523.69 L140.8,523.35 L141.8,523.01 L142.8,522.68 L143.8,522.36 L144.8,522.06 L145.8,521.79 L146.8,521.56 L147.8,521.37 L148.8,521.23 L149.8,521.14 L150.8,521.1 L151.8,521.12 L152.8,521.19 L153.8,521.31 L154.8,521.48 L155.8,521.7 L156.8,521.95 L157.8,522.24 L158.8,522.55 L159.8,522.88 L160.8,523.22 L161.8,523.55 L162.8,523.88 L163.8,524.19 L164.8,524.48 L165.8,524.73 L166.8,524.94 L167.8,525.1 L168.8,525.22 L169.8,525.29 L170.8,525.3 L171.8,525.25 L172.8,525.16 L173.8,525.01 L174.8,524.82 L175.8,524.58 L176.8,524.31 L177.8,524.01 L178.8,523.69 L179.8,523.35 L180.8,523.01 L181.8,522.68 L182.8,522.36 L183.8,522.06 L184.8,521.79 L185.8,521.56 L186.8,521.37 L187.8,521.23 L188.8,521.14 L189.8,521.1 L190.8,521.12 L191.8,521.19 L192.8,521.31 L193.8,521.48 L194.8,521.7 L195.8,521.95 L196.8,522.24 L197.8,522.55 L198.8,522.88 L199.8,523.22 L200.8,523.55 L201.8,523.88 L202.8,524.19 L203.8,524.48 L204.8,524.73 L205.8,524.94 L206.8,525.1 L207.8,525.22 L208.8,525.29 L209.8,525.3 L210.8,525.25 L211.8,525.16 L212.8,525.01 L213.8,524.82 L214.8,524.58 L215.8,524.31 L216.8,524.01 L217.8,523.69 L218.8,523.35 L219.8,523.01 L220.8,522.68 L221.8,522.36 L222.8,522.06 L223.8,521.79 L224.8,521.56 L225.8,521.37 L226.8,521.23 L227.8,521.14 L228.8,521.1 L229.8,521.12 L230.8,521.19 L231.8,521.31 L232.8,521.48 L233.8,521.7 L234.8,521.95 L235.8,522.24 L236.8,522.55 L237.8,522.88 L238.8,523.22 L239.8,523.55 L240.8,523.88 L241.8,524.19 L242.8,524.48 L243.8,524.73 L244.8,524.94 L245.8,525.1 L246.8,525.22 L247.8,525.29 L248.8,525.3 L249.8,525.25 L250.8,525.16 L251.8,525.01 L252.8,524.82 L253.8,524.58 L254.8,524.31 L255.8,524.01 L256.8,523.69 L257.8,523.35 L258.8,523.01 L259.8,522.68 L260.8,522.36 L261.8,522.06 L262.8,521.79 L263.8,521.56 L264.8,521.37 L265.8,521.23 L266.8,521.14"/><path d="M36.8,560.71 L37.8,560.88 L38.8,561.1 L39.8,561.35 L40.8,561.64 L41.8,561.95 L42.8,562.28 L43.8,562.62 L44.8,562.95 L45.8,563.28 L46.8,563.59 L47.8,563.88 L48.8,564.13 L49.8,564.34 L50.8,564.5 L51.8,564.62 L52.8,564.69 L53.8,564.7 L54.8,564.65 L55.8,564.56 L56.8,564.41 L57.8,564.22 L58.8,563.98 L59.8,563.71 L60.8,563.41 L61.8,563.09 L62.8,562.75 L63.8,562.41 L64.8,562.08 L65.8,561.76 L66.8,561.46 L67.8,561.19 L68.8,560.96 L69.8,560.77 L70.8,560.63 L71.8,560.54 L72.8,560.5 L73.8,560.52 L74.8,560.59 L75.8,560.71 L76.8,560.88 L77.8,561.1 L78.8,561.35 L79.8,561.64 L80.8,561.95 L81.8,562.28 L82.8,562.62 L83.8,562.95 L84.8,563.28 L85.8,563.59 L86.8,563.88 L87.8,564.13 L88.8,564.34 L89.8,564.5 L90.8,564.62 L91.8,564.69 L92.8,564.7 L93.8,564.65 L94.8,564.56 L95.8,564.41 L96.8,564.22 L97.8,563.98 L98.8,563.71 L99.8,563.41 L100.8,563.09 L101.8,562.75 L102.8,562.41 L103.8,562.08 L104.8,561.76 L105.8,561.46 L106.8,561.19 L107.8,560.96 L108.8,560.77 L109.8,560.63 L110.8,560.54 L111.8,560.5 L112.8,560.52 L113.8,560.59 L114.8,560.71 L115.8,560.88 L116.8,561.1 L117.8,561.35 L118.8,561.64 L119.8,561.95 L120.8,562.28 L121.8,562.62 L122.8,562.95 L123.8,563.28 L124.8,563.59 L125.8,563.88 L126.8,564.13 L127.8,564.34 L128.8,564.5 L129.8,564.62 L130.8,564.69 L131.8,564.7 L132.8,564.65 L133.8,564.56 L134.8,564.41 L135.8,564.22 L136.8,563.98 L137.8,563.71 L138.8,563.41 L139.8,563.09 L140.8,562.75 L141.8,562.41 L142.8,562.08 L143.8,561.76 L144.8,561.46 L145.8,561.19 L146.8,560.96 L147.8,560.77 L148.8,560.63 L149.8,560.54 L150.8,560.5 L151.8,560.52 L152.8,560.59 L153.8,560.71 L154.8,560.88 L155.8,561.1 L156.8,561.35 L157.8,561.64 L158.8,561.95 L159.8,562.28 L160.8,562.62 L161.8,562.95 L162.8,563.28 L163.8,563.59 L164.8,563.88 L165.8,564.13 L166.8,564.34 L167.8,564.5 L168.8,564.62 L169.8,564.69 L170.8,564.7 L171.8,564.65 L172.8,564.56 L173.8,564.41 L174.8,564.22 L175.8,563.98 L176.8,563.71 L177.8,563.41 L178.8,563.09 L179.8,562.75 L180.8,562.41 L181.8,562.08 L182.8,561.76 L183.8,561.46 L184.8,561.19 L185.8,560.96 L186.8,560.77 L187.8,560.63 L188.8,560.54 L189.8,560.5 L190.8,560.52 L191.8,560.59 L192.8,560.71 L193.8,560.88 L194.8,561.1 L195.8,561.35 L196.8,561.64 L197.8,561.95 L198.8,562.28 L199.8,562.62 L200.8,562.95 L201.8,563.28 L202.8,563.59 L203.8,563.88 L204.8,564.13 L205.8,564.34 L206.8,564.5 L207.8,564.62 L208.8,564.69 L209.8,564.7 L210.8,564.65 L211.8,564.56 L212.8,564.41 L213.8,564.22 L214.8,563.98 L215.8,563.71 L216.8,563.41 L217.8,563.09 L218.8,562.75 L219.8,562.41 L220.8,562.08 L221.8,561.76 L222.8,561.46 L223.8,561.19 L224.8,560.96 L225.8,560.77 L226.8,560.63 L227.8,560.54 L228.8,560.5 L229.8,560.52 L230.8,560.59 L231.8,560.71 L232.8,560.88 L233.8,561.1 L234.8,561.35 L235.8,561.64 L236.8,561.95 L237.8,562.28 L238.8,562.62 L239.8,562.95 L240.8,563.28 L241.8,563.59 L242.8,563.88 L243.8,564.13 L244.8,564.34 L245.8,564.5 L246.8,564.62 L247.8,564.69 L248.8,564.7 L249.8,564.65 L250.8,564.56 L251.8,564.41 L252.8,564.22 L253.8,563.98 L254.8,563.71 L255.8,563.41 L256.8,563.09 L257.8,562.75 L258.8,562.41 L259.8,562.08 L260.8,561.76 L261.8,561.46 L262.8,561.19 L263.8,560.96 L264.8,560.77 L265.8,560.63 L266.8,560.54"/></g>
<path d="M85.3,410.9 L89.1,402.4 L97.7,398.1 L144.7,398.1 L157.5,405.6 L166.1,413.1 L155.4,422.7 L124.4,415.2 L116.9,419.5 L100.9,423.8 L85.9,413.1Z" fill="#111" stroke="#111" stroke-width="1.1" stroke-linejoin="round"/><path d="M86,409.4 L89.8,400.9 L98.4,396.6 L145.4,396.6 L158.2,404.1 L166.8,411.6 L156.1,421.2 L125.1,413.7 L117.6,418 L101.6,422.3 L86.6,411.6Z" fill="#606064" stroke="#2a2a2a" stroke-width="0.8" stroke-linejoin="round"/>
<path d="M98.2,468.7 L107.3,476.8 L110.9,491.3 L113.6,522.1 L109.1,552.9 L98.2,552.9 L86.4,532.9 L85.5,504 L91.9,485.9Z" fill="#111" stroke="#111" stroke-width="1.1" stroke-linejoin="round"/><path d="M98.9,467.2 L108,475.3 L111.6,489.8 L114.3,520.6 L109.8,551.4 L98.9,551.4 L87.1,531.4 L86.2,502.5 L92.6,484.4Z" fill="#606064" stroke="#2a2a2a" stroke-width="0.8" stroke-linejoin="round"/>
<path d="M227.4,440.7 L240,444.8 L241.5,458.9 L230.4,477.4 L232.6,498.2 L226.7,510 L219.3,512.2 L203.7,513 L190.4,504.1 L186.7,497.4 L198.6,471.5 L212.6,464.8 L216.3,458.2 L217.1,447.8Z" fill="#111" stroke="#111" stroke-width="1.1" stroke-linejoin="round"/><path d="M228.1,439.2 L240.7,443.3 L242.2,457.4 L231.1,475.9 L233.3,496.7 L227.4,508.5 L220,510.7 L204.4,511.5 L191.1,502.6 L187.4,495.9 L199.3,470 L213.3,463.3 L217,456.7 L217.8,446.3Z" fill="#606064" stroke="#2a2a2a" stroke-width="0.8" stroke-linejoin="round"/>
<clipPath id="flL"><path d="M86,409.4 L89.8,400.9 L98.4,396.6 L145.4,396.6 L158.2,404.1 L166.8,411.6 L156.1,421.2 L125.1,413.7 L117.6,418 L101.6,422.3 L86.6,411.6Z"/><path d="M98.9,467.2 L108,475.3 L111.6,489.8 L114.3,520.6 L109.8,551.4 L98.9,551.4 L87.1,531.4 L86.2,502.5 L92.6,484.4Z"/><path d="M228.1,439.2 L240.7,443.3 L242.2,457.4 L231.1,475.9 L233.3,496.7 L227.4,508.5 L220,510.7 L204.4,511.5 L191.1,502.6 L187.4,495.9 L199.3,470 L213.3,463.3 L217,456.7 L217.8,446.3Z"/></clipPath>
<g fill="none" stroke="#acd47f" stroke-width="1.2" opacity="0.3" clip-path="url(#flL)"><path d="M56.62,348.3 L56.47,349.3 L56.28,350.3 L56.04,351.3 L55.76,352.3 L55.46,353.3 L55.13,354.3 L54.79,355.3 L54.44,356.3 L54.1,357.3 L53.77,358.3 L53.47,359.3 L53.19,360.3 L52.95,361.3 L52.75,362.3 L52.6,363.3 L52.5,364.3 L52.45,365.3 L52.46,366.3 L52.53,367.3 L52.65,368.3 L52.82,369.3 L53.04,370.3 L53.29,371.3 L53.59,372.3 L53.9,373.3 L54.24,374.3 L54.58,375.3 L54.93,376.3 L55.26,377.3 L55.58,378.3 L55.88,379.3 L56.14,380.3 L56.36,381.3 L56.53,382.3 L56.66,383.3 L56.73,384.3 L56.75,385.3 L56.71,386.3 L56.62,387.3 L56.47,388.3 L56.28,389.3 L56.04,390.3 L55.76,391.3 L55.46,392.3 L55.13,393.3 L54.79,394.3 L54.44,395.3 L54.1,396.3 L53.77,397.3 L53.47,398.3 L53.19,399.3 L52.95,400.3 L52.75,401.3 L52.6,402.3 L52.5,403.3 L52.45,404.3 L52.46,405.3 L52.53,406.3 L52.65,407.3 L52.82,408.3 L53.04,409.3 L53.29,410.3 L53.59,411.3 L53.9,412.3 L54.24,413.3 L54.58,414.3 L54.93,415.3 L55.26,416.3 L55.58,417.3 L55.88,418.3 L56.14,419.3 L56.36,420.3 L56.53,421.3 L56.66,422.3 L56.73,423.3 L56.75,424.3 L56.71,425.3 L56.62,426.3 L56.47,427.3 L56.28,428.3 L56.04,429.3 L55.76,430.3 L55.46,431.3 L55.13,432.3 L54.79,433.3 L54.44,434.3 L54.1,435.3 L53.77,436.3 L53.47,437.3 L53.19,438.3 L52.95,439.3 L52.75,440.3 L52.6,441.3 L52.5,442.3 L52.45,443.3 L52.46,444.3 L52.53,445.3 L52.65,446.3 L52.82,447.3 L53.04,448.3 L53.29,449.3 L53.59,450.3 L53.9,451.3 L54.24,452.3 L54.58,453.3 L54.93,454.3 L55.26,455.3 L55.58,456.3 L55.88,457.3 L56.14,458.3 L56.36,459.3 L56.53,460.3 L56.66,461.3 L56.73,462.3 L56.75,463.3 L56.71,464.3 L56.62,465.3 L56.47,466.3 L56.28,467.3 L56.04,468.3 L55.76,469.3 L55.46,470.3 L55.13,471.3 L54.79,472.3 L54.44,473.3 L54.1,474.3 L53.77,475.3 L53.47,476.3 L53.19,477.3 L52.95,478.3 L52.75,479.3 L52.6,480.3 L52.5,481.3 L52.45,482.3 L52.46,483.3 L52.53,484.3 L52.65,485.3 L52.82,486.3 L53.04,487.3 L53.29,488.3 L53.59,489.3 L53.9,490.3 L54.24,491.3 L54.58,492.3 L54.93,493.3 L55.26,494.3 L55.58,495.3 L55.88,496.3 L56.14,497.3 L56.36,498.3 L56.53,499.3 L56.66,500.3 L56.73,501.3 L56.75,502.3 L56.71,503.3 L56.62,504.3 L56.47,505.3 L56.28,506.3 L56.04,507.3 L55.76,508.3 L55.46,509.3 L55.13,510.3 L54.79,511.3 L54.44,512.3 L54.1,513.3 L53.77,514.3 L53.47,515.3 L53.19,516.3 L52.95,517.3 L52.75,518.3 L52.6,519.3 L52.5,520.3 L52.45,521.3 L52.46,522.3 L52.53,523.3 L52.65,524.3 L52.82,525.3 L53.04,526.3 L53.29,527.3 L53.59,528.3 L53.9,529.3 L54.24,530.3 L54.58,531.3 L54.93,532.3 L55.26,533.3 L55.58,534.3 L55.88,535.3 L56.14,536.3 L56.36,537.3 L56.53,538.3 L56.66,539.3 L56.73,540.3 L56.75,541.3 L56.71,542.3 L56.62,543.3 L56.47,544.3 L56.28,545.3 L56.04,546.3 L55.76,547.3 L55.46,548.3 L55.13,549.3 L54.79,550.3 L54.44,551.3 L54.1,552.3 L53.77,553.3 L53.47,554.3 L53.19,555.3 L52.95,556.3 L52.75,557.3 L52.6,558.3 L52.5,559.3 L52.45,560.3 L52.46,561.3 L52.53,562.3 L52.65,563.3 L52.82,564.3 L53.04,565.3 L53.29,566.3 L53.59,567.3 L53.9,568.3 L54.24,569.3 L54.58,570.3 L54.93,571.3 L55.26,572.3 L55.58,573.3 L55.88,574.3 L56.14,575.3 L56.36,576.3 L56.53,577.3 L56.66,578.3 L56.73,579.3 L56.75,580.3 L56.71,581.3"/><path d="M96.02,348.3 L95.87,349.3 L95.68,350.3 L95.44,351.3 L95.16,352.3 L94.86,353.3 L94.53,354.3 L94.19,355.3 L93.84,356.3 L93.5,357.3 L93.17,358.3 L92.87,359.3 L92.59,360.3 L92.35,361.3 L92.15,362.3 L92,363.3 L91.9,364.3 L91.85,365.3 L91.86,366.3 L91.93,367.3 L92.05,368.3 L92.22,369.3 L92.44,370.3 L92.69,371.3 L92.99,372.3 L93.3,373.3 L93.64,374.3 L93.98,375.3 L94.33,376.3 L94.66,377.3 L94.98,378.3 L95.28,379.3 L95.54,380.3 L95.76,381.3 L95.93,382.3 L96.06,383.3 L96.13,384.3 L96.15,385.3 L96.11,386.3 L96.02,387.3 L95.87,388.3 L95.68,389.3 L95.44,390.3 L95.16,391.3 L94.86,392.3 L94.53,393.3 L94.19,394.3 L93.84,395.3 L93.5,396.3 L93.17,397.3 L92.87,398.3 L92.59,399.3 L92.35,400.3 L92.15,401.3 L92,402.3 L91.9,403.3 L91.85,404.3 L91.86,405.3 L91.93,406.3 L92.05,407.3 L92.22,408.3 L92.44,409.3 L92.69,410.3 L92.99,411.3 L93.3,412.3 L93.64,413.3 L93.98,414.3 L94.33,415.3 L94.66,416.3 L94.98,417.3 L95.28,418.3 L95.54,419.3 L95.76,420.3 L95.93,421.3 L96.06,422.3 L96.13,423.3 L96.15,424.3 L96.11,425.3 L96.02,426.3 L95.87,427.3 L95.68,428.3 L95.44,429.3 L95.16,430.3 L94.86,431.3 L94.53,432.3 L94.19,433.3 L93.84,434.3 L93.5,435.3 L93.17,436.3 L92.87,437.3 L92.59,438.3 L92.35,439.3 L92.15,440.3 L92,441.3 L91.9,442.3 L91.85,443.3 L91.86,444.3 L91.93,445.3 L92.05,446.3 L92.22,447.3 L92.44,448.3 L92.69,449.3 L92.99,450.3 L93.3,451.3 L93.64,452.3 L93.98,453.3 L94.33,454.3 L94.66,455.3 L94.98,456.3 L95.28,457.3 L95.54,458.3 L95.76,459.3 L95.93,460.3 L96.06,461.3 L96.13,462.3 L96.15,463.3 L96.11,464.3 L96.02,465.3 L95.87,466.3 L95.68,467.3 L95.44,468.3 L95.16,469.3 L94.86,470.3 L94.53,471.3 L94.19,472.3 L93.84,473.3 L93.5,474.3 L93.17,475.3 L92.87,476.3 L92.59,477.3 L92.35,478.3 L92.15,479.3 L92,480.3 L91.9,481.3 L91.85,482.3 L91.86,483.3 L91.93,484.3 L92.05,485.3 L92.22,486.3 L92.44,487.3 L92.69,488.3 L92.99,489.3 L93.3,490.3 L93.64,491.3 L93.98,492.3 L94.33,493.3 L94.66,494.3 L94.98,495.3 L95.28,496.3 L95.54,497.3 L95.76,498.3 L95.93,499.3 L96.06,500.3 L96.13,501.3 L96.15,502.3 L96.11,503.3 L96.02,504.3 L95.87,505.3 L95.68,506.3 L95.44,507.3 L95.16,508.3 L94.86,509.3 L94.53,510.3 L94.19,511.3 L93.84,512.3 L93.5,513.3 L93.17,514.3 L92.87,515.3 L92.59,516.3 L92.35,517.3 L92.15,518.3 L92,519.3 L91.9,520.3 L91.85,521.3 L91.86,522.3 L91.93,523.3 L92.05,524.3 L92.22,525.3 L92.44,526.3 L92.69,527.3 L92.99,528.3 L93.3,529.3 L93.64,530.3 L93.98,531.3 L94.33,532.3 L94.66,533.3 L94.98,534.3 L95.28,535.3 L95.54,536.3 L95.76,537.3 L95.93,538.3 L96.06,539.3 L96.13,540.3 L96.15,541.3 L96.11,542.3 L96.02,543.3 L95.87,544.3 L95.68,545.3 L95.44,546.3 L95.16,547.3 L94.86,548.3 L94.53,549.3 L94.19,550.3 L93.84,551.3 L93.5,552.3 L93.17,553.3 L92.87,554.3 L92.59,555.3 L92.35,556.3 L92.15,557.3 L92,558.3 L91.9,559.3 L91.85,560.3 L91.86,561.3 L91.93,562.3 L92.05,563.3 L92.22,564.3 L92.44,565.3 L92.69,566.3 L92.99,567.3 L93.3,568.3 L93.64,569.3 L93.98,570.3 L94.33,571.3 L94.66,572.3 L94.98,573.3 L95.28,574.3 L95.54,575.3 L95.76,576.3 L95.93,577.3 L96.06,578.3 L96.13,579.3 L96.15,580.3 L96.11,581.3"/><path d="M135.42,348.3 L135.27,349.3 L135.08,350.3 L134.84,351.3 L134.56,352.3 L134.26,353.3 L133.93,354.3 L133.59,355.3 L133.24,356.3 L132.9,357.3 L132.57,358.3 L132.27,359.3 L131.99,360.3 L131.75,361.3 L131.55,362.3 L131.4,363.3 L131.3,364.3 L131.25,365.3 L131.26,366.3 L131.33,367.3 L131.45,368.3 L131.62,369.3 L131.84,370.3 L132.09,371.3 L132.39,372.3 L132.7,373.3 L133.04,374.3 L133.38,375.3 L133.73,376.3 L134.06,377.3 L134.38,378.3 L134.68,379.3 L134.94,380.3 L135.16,381.3 L135.33,382.3 L135.46,383.3 L135.53,384.3 L135.55,385.3 L135.51,386.3 L135.42,387.3 L135.27,388.3 L135.08,389.3 L134.84,390.3 L134.56,391.3 L134.26,392.3 L133.93,393.3 L133.59,394.3 L133.24,395.3 L132.9,396.3 L132.57,397.3 L132.27,398.3 L131.99,399.3 L131.75,400.3 L131.55,401.3 L131.4,402.3 L131.3,403.3 L131.25,404.3 L131.26,405.3 L131.33,406.3 L131.45,407.3 L131.62,408.3 L131.84,409.3 L132.09,410.3 L132.39,411.3 L132.7,412.3 L133.04,413.3 L133.38,414.3 L133.73,415.3 L134.06,416.3 L134.38,417.3 L134.68,418.3 L134.94,419.3 L135.16,420.3 L135.33,421.3 L135.46,422.3 L135.53,423.3 L135.55,424.3 L135.51,425.3 L135.42,426.3 L135.27,427.3 L135.08,428.3 L134.84,429.3 L134.56,430.3 L134.26,431.3 L133.93,432.3 L133.59,433.3 L133.24,434.3 L132.9,435.3 L132.57,436.3 L132.27,437.3 L131.99,438.3 L131.75,439.3 L131.55,440.3 L131.4,441.3 L131.3,442.3 L131.25,443.3 L131.26,444.3 L131.33,445.3 L131.45,446.3 L131.62,447.3 L131.84,448.3 L132.09,449.3 L132.39,450.3 L132.7,451.3 L133.04,452.3 L133.38,453.3 L133.73,454.3 L134.06,455.3 L134.38,456.3 L134.68,457.3 L134.94,458.3 L135.16,459.3 L135.33,460.3 L135.46,461.3 L135.53,462.3 L135.55,463.3 L135.51,464.3 L135.42,465.3 L135.27,466.3 L135.08,467.3 L134.84,468.3 L134.56,469.3 L134.26,470.3 L133.93,471.3 L133.59,472.3 L133.24,473.3 L132.9,474.3 L132.57,475.3 L132.27,476.3 L131.99,477.3 L131.75,478.3 L131.55,479.3 L131.4,480.3 L131.3,481.3 L131.25,482.3 L131.26,483.3 L131.33,484.3 L131.45,485.3 L131.62,486.3 L131.84,487.3 L132.09,488.3 L132.39,489.3 L132.7,490.3 L133.04,491.3 L133.38,492.3 L133.73,493.3 L134.06,494.3 L134.38,495.3 L134.68,496.3 L134.94,497.3 L135.16,498.3 L135.33,499.3 L135.46,500.3 L135.53,501.3 L135.55,502.3 L135.51,503.3 L135.42,504.3 L135.27,505.3 L135.08,506.3 L134.84,507.3 L134.56,508.3 L134.26,509.3 L133.93,510.3 L133.59,511.3 L133.24,512.3 L132.9,513.3 L132.57,514.3 L132.27,515.3 L131.99,516.3 L131.75,517.3 L131.55,518.3 L131.4,519.3 L131.3,520.3 L131.25,521.3 L131.26,522.3 L131.33,523.3 L131.45,524.3 L131.62,525.3 L131.84,526.3 L132.09,527.3 L132.39,528.3 L132.7,529.3 L133.04,530.3 L133.38,531.3 L133.73,532.3 L134.06,533.3 L134.38,534.3 L134.68,535.3 L134.94,536.3 L135.16,537.3 L135.33,538.3 L135.46,539.3 L135.53,540.3 L135.55,541.3 L135.51,542.3 L135.42,543.3 L135.27,544.3 L135.08,545.3 L134.84,546.3 L134.56,547.3 L134.26,548.3 L133.93,549.3 L133.59,550.3 L133.24,551.3 L132.9,552.3 L132.57,553.3 L132.27,554.3 L131.99,555.3 L131.75,556.3 L131.55,557.3 L131.4,558.3 L131.3,559.3 L131.25,560.3 L131.26,561.3 L131.33,562.3 L131.45,563.3 L131.62,564.3 L131.84,565.3 L132.09,566.3 L132.39,567.3 L132.7,568.3 L133.04,569.3 L133.38,570.3 L133.73,571.3 L134.06,572.3 L134.38,573.3 L134.68,574.3 L134.94,575.3 L135.16,576.3 L135.33,577.3 L135.46,578.3 L135.53,579.3 L135.55,580.3 L135.51,581.3"/><path d="M174.82,348.3 L174.67,349.3 L174.48,350.3 L174.24,351.3 L173.96,352.3 L173.66,353.3 L173.33,354.3 L172.99,355.3 L172.64,356.3 L172.3,357.3 L171.97,358.3 L171.67,359.3 L171.39,360.3 L171.15,361.3 L170.95,362.3 L170.8,363.3 L170.7,364.3 L170.65,365.3 L170.66,366.3 L170.73,367.3 L170.85,368.3 L171.02,369.3 L171.24,370.3 L171.49,371.3 L171.79,372.3 L172.1,373.3 L172.44,374.3 L172.78,375.3 L173.13,376.3 L173.46,377.3 L173.78,378.3 L174.08,379.3 L174.34,380.3 L174.56,381.3 L174.73,382.3 L174.86,383.3 L174.93,384.3 L174.95,385.3 L174.91,386.3 L174.82,387.3 L174.67,388.3 L174.48,389.3 L174.24,390.3 L173.96,391.3 L173.66,392.3 L173.33,393.3 L172.99,394.3 L172.64,395.3 L172.3,396.3 L171.97,397.3 L171.67,398.3 L171.39,399.3 L171.15,400.3 L170.95,401.3 L170.8,402.3 L170.7,403.3 L170.65,404.3 L170.66,405.3 L170.73,406.3 L170.85,407.3 L171.02,408.3 L171.24,409.3 L171.49,410.3 L171.79,411.3 L172.1,412.3 L172.44,413.3 L172.78,414.3 L173.13,415.3 L173.46,416.3 L173.78,417.3 L174.08,418.3 L174.34,419.3 L174.56,420.3 L174.73,421.3 L174.86,422.3 L174.93,423.3 L174.95,424.3 L174.91,425.3 L174.82,426.3 L174.67,427.3 L174.48,428.3 L174.24,429.3 L173.96,430.3 L173.66,431.3 L173.33,432.3 L172.99,433.3 L172.64,434.3 L172.3,435.3 L171.97,436.3 L171.67,437.3 L171.39,438.3 L171.15,439.3 L170.95,440.3 L170.8,441.3 L170.7,442.3 L170.65,443.3 L170.66,444.3 L170.73,445.3 L170.85,446.3 L171.02,447.3 L171.24,448.3 L171.49,449.3 L171.79,450.3 L172.1,451.3 L172.44,452.3 L172.78,453.3 L173.13,454.3 L173.46,455.3 L173.78,456.3 L174.08,457.3 L174.34,458.3 L174.56,459.3 L174.73,460.3 L174.86,461.3 L174.93,462.3 L174.95,463.3 L174.91,464.3 L174.82,465.3 L174.67,466.3 L174.48,467.3 L174.24,468.3 L173.96,469.3 L173.66,470.3 L173.33,471.3 L172.99,472.3 L172.64,473.3 L172.3,474.3 L171.97,475.3 L171.67,476.3 L171.39,477.3 L171.15,478.3 L170.95,479.3 L170.8,480.3 L170.7,481.3 L170.65,482.3 L170.66,483.3 L170.73,484.3 L170.85,485.3 L171.02,486.3 L171.24,487.3 L171.49,488.3 L171.79,489.3 L172.1,490.3 L172.44,491.3 L172.78,492.3 L173.13,493.3 L173.46,494.3 L173.78,495.3 L174.08,496.3 L174.34,497.3 L174.56,498.3 L174.73,499.3 L174.86,500.3 L174.93,501.3 L174.95,502.3 L174.91,503.3 L174.82,504.3 L174.67,505.3 L174.48,506.3 L174.24,507.3 L173.96,508.3 L173.66,509.3 L173.33,510.3 L172.99,511.3 L172.64,512.3 L172.3,513.3 L171.97,514.3 L171.67,515.3 L171.39,516.3 L171.15,517.3 L170.95,518.3 L170.8,519.3 L170.7,520.3 L170.65,521.3 L170.66,522.3 L170.73,523.3 L170.85,524.3 L171.02,525.3 L171.24,526.3 L171.49,527.3 L171.79,528.3 L172.1,529.3 L172.44,530.3 L172.78,531.3 L173.13,532.3 L173.46,533.3 L173.78,534.3 L174.08,535.3 L174.34,536.3 L174.56,537.3 L174.73,538.3 L174.86,539.3 L174.93,540.3 L174.95,541.3 L174.91,542.3 L174.82,543.3 L174.67,544.3 L174.48,545.3 L174.24,546.3 L173.96,547.3 L173.66,548.3 L173.33,549.3 L172.99,550.3 L172.64,551.3 L172.3,552.3 L171.97,553.3 L171.67,554.3 L171.39,555.3 L171.15,556.3 L170.95,557.3 L170.8,558.3 L170.7,559.3 L170.65,560.3 L170.66,561.3 L170.73,562.3 L170.85,563.3 L171.02,564.3 L171.24,565.3 L171.49,566.3 L171.79,567.3 L172.1,568.3 L172.44,569.3 L172.78,570.3 L173.13,571.3 L173.46,572.3 L173.78,573.3 L174.08,574.3 L174.34,575.3 L174.56,576.3 L174.73,577.3 L174.86,578.3 L174.93,579.3 L174.95,580.3 L174.91,581.3"/><path d="M214.22,348.3 L214.07,349.3 L213.88,350.3 L213.64,351.3 L213.36,352.3 L213.06,353.3 L212.73,354.3 L212.39,355.3 L212.04,356.3 L211.7,357.3 L211.37,358.3 L211.07,359.3 L210.79,360.3 L210.55,361.3 L210.35,362.3 L210.2,363.3 L210.1,364.3 L210.05,365.3 L210.06,366.3 L210.13,367.3 L210.25,368.3 L210.42,369.3 L210.64,370.3 L210.89,371.3 L211.19,372.3 L211.5,373.3 L211.84,374.3 L212.18,375.3 L212.53,376.3 L212.86,377.3 L213.18,378.3 L213.48,379.3 L213.74,380.3 L213.96,381.3 L214.13,382.3 L214.26,383.3 L214.33,384.3 L214.35,385.3 L214.31,386.3 L214.22,387.3 L214.07,388.3 L213.88,389.3 L213.64,390.3 L213.36,391.3 L213.06,392.3 L212.73,393.3 L212.39,394.3 L212.04,395.3 L211.7,396.3 L211.37,397.3 L211.07,398.3 L210.79,399.3 L210.55,400.3 L210.35,401.3 L210.2,402.3 L210.1,403.3 L210.05,404.3 L210.06,405.3 L210.13,406.3 L210.25,407.3 L210.42,408.3 L210.64,409.3 L210.89,410.3 L211.19,411.3 L211.5,412.3 L211.84,413.3 L212.18,414.3 L212.53,415.3 L212.86,416.3 L213.18,417.3 L213.48,418.3 L213.74,419.3 L213.96,420.3 L214.13,421.3 L214.26,422.3 L214.33,423.3 L214.35,424.3 L214.31,425.3 L214.22,426.3 L214.07,427.3 L213.88,428.3 L213.64,429.3 L213.36,430.3 L213.06,431.3 L212.73,432.3 L212.39,433.3 L212.04,434.3 L211.7,435.3 L211.37,436.3 L211.07,437.3 L210.79,438.3 L210.55,439.3 L210.35,440.3 L210.2,441.3 L210.1,442.3 L210.05,443.3 L210.06,444.3 L210.13,445.3 L210.25,446.3 L210.42,447.3 L210.64,448.3 L210.89,449.3 L211.19,450.3 L211.5,451.3 L211.84,452.3 L212.18,453.3 L212.53,454.3 L212.86,455.3 L213.18,456.3 L213.48,457.3 L213.74,458.3 L213.96,459.3 L214.13,460.3 L214.26,461.3 L214.33,462.3 L214.35,463.3 L214.31,464.3 L214.22,465.3 L214.07,466.3 L213.88,467.3 L213.64,468.3 L213.36,469.3 L213.06,470.3 L212.73,471.3 L212.39,472.3 L212.04,473.3 L211.7,474.3 L211.37,475.3 L211.07,476.3 L210.79,477.3 L210.55,478.3 L210.35,479.3 L210.2,480.3 L210.1,481.3 L210.05,482.3 L210.06,483.3 L210.13,484.3 L210.25,485.3 L210.42,486.3 L210.64,487.3 L210.89,488.3 L211.19,489.3 L211.5,490.3 L211.84,491.3 L212.18,492.3 L212.53,493.3 L212.86,494.3 L213.18,495.3 L213.48,496.3 L213.74,497.3 L213.96,498.3 L214.13,499.3 L214.26,500.3 L214.33,501.3 L214.35,502.3 L214.31,503.3 L214.22,504.3 L214.07,505.3 L213.88,506.3 L213.64,507.3 L213.36,508.3 L213.06,509.3 L212.73,510.3 L212.39,511.3 L212.04,512.3 L211.7,513.3 L211.37,514.3 L211.07,515.3 L210.79,516.3 L210.55,517.3 L210.35,518.3 L210.2,519.3 L210.1,520.3 L210.05,521.3 L210.06,522.3 L210.13,523.3 L210.25,524.3 L210.42,525.3 L210.64,526.3 L210.89,527.3 L211.19,528.3 L211.5,529.3 L211.84,530.3 L212.18,531.3 L212.53,532.3 L212.86,533.3 L213.18,534.3 L213.48,535.3 L213.74,536.3 L213.96,537.3 L214.13,538.3 L214.26,539.3 L214.33,540.3 L214.35,541.3 L214.31,542.3 L214.22,543.3 L214.07,544.3 L213.88,545.3 L213.64,546.3 L213.36,547.3 L213.06,548.3 L212.73,549.3 L212.39,550.3 L212.04,551.3 L211.7,552.3 L211.37,553.3 L211.07,554.3 L210.79,555.3 L210.55,556.3 L210.35,557.3 L210.2,558.3 L210.1,559.3 L210.05,560.3 L210.06,561.3 L210.13,562.3 L210.25,563.3 L210.42,564.3 L210.64,565.3 L210.89,566.3 L211.19,567.3 L211.5,568.3 L211.84,569.3 L212.18,570.3 L212.53,571.3 L212.86,572.3 L213.18,573.3 L213.48,574.3 L213.74,575.3 L213.96,576.3 L214.13,577.3 L214.26,578.3 L214.33,579.3 L214.35,580.3 L214.31,581.3"/><path d="M253.62,348.3 L253.47,349.3 L253.28,350.3 L253.04,351.3 L252.76,352.3 L252.46,353.3 L252.13,354.3 L251.79,355.3 L251.44,356.3 L251.1,357.3 L250.77,358.3 L250.47,359.3 L250.19,360.3 L249.95,361.3 L249.75,362.3 L249.6,363.3 L249.5,364.3 L249.45,365.3 L249.46,366.3 L249.53,367.3 L249.65,368.3 L249.82,369.3 L250.04,370.3 L250.29,371.3 L250.59,372.3 L250.9,373.3 L251.24,374.3 L251.58,375.3 L251.93,376.3 L252.26,377.3 L252.58,378.3 L252.88,379.3 L253.14,380.3 L253.36,381.3 L253.53,382.3 L253.66,383.3 L253.73,384.3 L253.75,385.3 L253.71,386.3 L253.62,387.3 L253.47,388.3 L253.28,389.3 L253.04,390.3 L252.76,391.3 L252.46,392.3 L252.13,393.3 L251.79,394.3 L251.44,395.3 L251.1,396.3 L250.77,397.3 L250.47,398.3 L250.19,399.3 L249.95,400.3 L249.75,401.3 L249.6,402.3 L249.5,403.3 L249.45,404.3 L249.46,405.3 L249.53,406.3 L249.65,407.3 L249.82,408.3 L250.04,409.3 L250.29,410.3 L250.59,411.3 L250.9,412.3 L251.24,413.3 L251.58,414.3 L251.93,415.3 L252.26,416.3 L252.58,417.3 L252.88,418.3 L253.14,419.3 L253.36,420.3 L253.53,421.3 L253.66,422.3 L253.73,423.3 L253.75,424.3 L253.71,425.3 L253.62,426.3 L253.47,427.3 L253.28,428.3 L253.04,429.3 L252.76,430.3 L252.46,431.3 L252.13,432.3 L251.79,433.3 L251.44,434.3 L251.1,435.3 L250.77,436.3 L250.47,437.3 L250.19,438.3 L249.95,439.3 L249.75,440.3 L249.6,441.3 L249.5,442.3 L249.45,443.3 L249.46,444.3 L249.53,445.3 L249.65,446.3 L249.82,447.3 L250.04,448.3 L250.29,449.3 L250.59,450.3 L250.9,451.3 L251.24,452.3 L251.58,453.3 L251.93,454.3 L252.26,455.3 L252.58,456.3 L252.88,457.3 L253.14,458.3 L253.36,459.3 L253.53,460.3 L253.66,461.3 L253.73,462.3 L253.75,463.3 L253.71,464.3 L253.62,465.3 L253.47,466.3 L253.28,467.3 L253.04,468.3 L252.76,469.3 L252.46,470.3 L252.13,471.3 L251.79,472.3 L251.44,473.3 L251.1,474.3 L250.77,475.3 L250.47,476.3 L250.19,477.3 L249.95,478.3 L249.75,479.3 L249.6,480.3 L249.5,481.3 L249.45,482.3 L249.46,483.3 L249.53,484.3 L249.65,485.3 L249.82,486.3 L250.04,487.3 L250.29,488.3 L250.59,489.3 L250.9,490.3 L251.24,491.3 L251.58,492.3 L251.93,493.3 L252.26,494.3 L252.58,495.3 L252.88,496.3 L253.14,497.3 L253.36,498.3 L253.53,499.3 L253.66,500.3 L253.73,501.3 L253.75,502.3 L253.71,503.3 L253.62,504.3 L253.47,505.3 L253.28,506.3 L253.04,507.3 L252.76,508.3 L252.46,509.3 L252.13,510.3 L251.79,511.3 L251.44,512.3 L251.1,513.3 L250.77,514.3 L250.47,515.3 L250.19,516.3 L249.95,517.3 L249.75,518.3 L249.6,519.3 L249.5,520.3 L249.45,521.3 L249.46,522.3 L249.53,523.3 L249.65,524.3 L249.82,525.3 L250.04,526.3 L250.29,527.3 L250.59,528.3 L250.9,529.3 L251.24,530.3 L251.58,531.3 L251.93,532.3 L252.26,533.3 L252.58,534.3 L252.88,535.3 L253.14,536.3 L253.36,537.3 L253.53,538.3 L253.66,539.3 L253.73,540.3 L253.75,541.3 L253.71,542.3 L253.62,543.3 L253.47,544.3 L253.28,545.3 L253.04,546.3 L252.76,547.3 L252.46,548.3 L252.13,549.3 L251.79,550.3 L251.44,551.3 L251.1,552.3 L250.77,553.3 L250.47,554.3 L250.19,555.3 L249.95,556.3 L249.75,557.3 L249.6,558.3 L249.5,559.3 L249.45,560.3 L249.46,561.3 L249.53,562.3 L249.65,563.3 L249.82,564.3 L250.04,565.3 L250.29,566.3 L250.59,567.3 L250.9,568.3 L251.24,569.3 L251.58,570.3 L251.93,571.3 L252.26,572.3 L252.58,573.3 L252.88,574.3 L253.14,575.3 L253.36,576.3 L253.53,577.3 L253.66,578.3 L253.73,579.3 L253.75,580.3 L253.71,581.3"/><path d="M36.8,363.71 L37.8,363.88 L38.8,364.1 L39.8,364.35 L40.8,364.64 L41.8,364.95 L42.8,365.28 L43.8,365.62 L44.8,365.95 L45.8,366.28 L46.8,366.59 L47.8,366.88 L48.8,367.13 L49.8,367.34 L50.8,367.5 L51.8,367.62 L52.8,367.69 L53.8,367.7 L54.8,367.65 L55.8,367.56 L56.8,367.41 L57.8,367.22 L58.8,366.98 L59.8,366.71 L60.8,366.41 L61.8,366.09 L62.8,365.75 L63.8,365.41 L64.8,365.08 L65.8,364.76 L66.8,364.46 L67.8,364.19 L68.8,363.96 L69.8,363.77 L70.8,363.63 L71.8,363.54 L72.8,363.5 L73.8,363.52 L74.8,363.59 L75.8,363.71 L76.8,363.88 L77.8,364.1 L78.8,364.35 L79.8,364.64 L80.8,364.95 L81.8,365.28 L82.8,365.62 L83.8,365.95 L84.8,366.28 L85.8,366.59 L86.8,366.88 L87.8,367.13 L88.8,367.34 L89.8,367.5 L90.8,367.62 L91.8,367.69 L92.8,367.7 L93.8,367.65 L94.8,367.56 L95.8,367.41 L96.8,367.22 L97.8,366.98 L98.8,366.71 L99.8,366.41 L100.8,366.09 L101.8,365.75 L102.8,365.41 L103.8,365.08 L104.8,364.76 L105.8,364.46 L106.8,364.19 L107.8,363.96 L108.8,363.77 L109.8,363.63 L110.8,363.54 L111.8,363.5 L112.8,363.52 L113.8,363.59 L114.8,363.71 L115.8,363.88 L116.8,364.1 L117.8,364.35 L118.8,364.64 L119.8,364.95 L120.8,365.28 L121.8,365.62 L122.8,365.95 L123.8,366.28 L124.8,366.59 L125.8,366.88 L126.8,367.13 L127.8,367.34 L128.8,367.5 L129.8,367.62 L130.8,367.69 L131.8,367.7 L132.8,367.65 L133.8,367.56 L134.8,367.41 L135.8,367.22 L136.8,366.98 L137.8,366.71 L138.8,366.41 L139.8,366.09 L140.8,365.75 L141.8,365.41 L142.8,365.08 L143.8,364.76 L144.8,364.46 L145.8,364.19 L146.8,363.96 L147.8,363.77 L148.8,363.63 L149.8,363.54 L150.8,363.5 L151.8,363.52 L152.8,363.59 L153.8,363.71 L154.8,363.88 L155.8,364.1 L156.8,364.35 L157.8,364.64 L158.8,364.95 L159.8,365.28 L160.8,365.62 L161.8,365.95 L162.8,366.28 L163.8,366.59 L164.8,366.88 L165.8,367.13 L166.8,367.34 L167.8,367.5 L168.8,367.62 L169.8,367.69 L170.8,367.7 L171.8,367.65 L172.8,367.56 L173.8,367.41 L174.8,367.22 L175.8,366.98 L176.8,366.71 L177.8,366.41 L178.8,366.09 L179.8,365.75 L180.8,365.41 L181.8,365.08 L182.8,364.76 L183.8,364.46 L184.8,364.19 L185.8,363.96 L186.8,363.77 L187.8,363.63 L188.8,363.54 L189.8,363.5 L190.8,363.52 L191.8,363.59 L192.8,363.71 L193.8,363.88 L194.8,364.1 L195.8,364.35 L196.8,364.64 L197.8,364.95 L198.8,365.28 L199.8,365.62 L200.8,365.95 L201.8,366.28 L202.8,366.59 L203.8,366.88 L204.8,367.13 L205.8,367.34 L206.8,367.5 L207.8,367.62 L208.8,367.69 L209.8,367.7 L210.8,367.65 L211.8,367.56 L212.8,367.41 L213.8,367.22 L214.8,366.98 L215.8,366.71 L216.8,366.41 L217.8,366.09 L218.8,365.75 L219.8,365.41 L220.8,365.08 L221.8,364.76 L222.8,364.46 L223.8,364.19 L224.8,363.96 L225.8,363.77 L226.8,363.63 L227.8,363.54 L228.8,363.5 L229.8,363.52 L230.8,363.59 L231.8,363.71 L232.8,363.88 L233.8,364.1 L234.8,364.35 L235.8,364.64 L236.8,364.95 L237.8,365.28 L238.8,365.62 L239.8,365.95 L240.8,366.28 L241.8,366.59 L242.8,366.88 L243.8,367.13 L244.8,367.34 L245.8,367.5 L246.8,367.62 L247.8,367.69 L248.8,367.7 L249.8,367.65 L250.8,367.56 L251.8,367.41 L252.8,367.22 L253.8,366.98 L254.8,366.71 L255.8,366.41 L256.8,366.09 L257.8,365.75 L258.8,365.41 L259.8,365.08 L260.8,364.76 L261.8,364.46 L262.8,364.19 L263.8,363.96 L264.8,363.77 L265.8,363.63 L266.8,363.54"/><path d="M36.8,403.11 L37.8,403.28 L38.8,403.5 L39.8,403.75 L40.8,404.04 L41.8,404.35 L42.8,404.68 L43.8,405.02 L44.8,405.35 L45.8,405.68 L46.8,405.99 L47.8,406.28 L48.8,406.53 L49.8,406.74 L50.8,406.9 L51.8,407.02 L52.8,407.09 L53.8,407.1 L54.8,407.05 L55.8,406.96 L56.8,406.81 L57.8,406.62 L58.8,406.38 L59.8,406.11 L60.8,405.81 L61.8,405.49 L62.8,405.15 L63.8,404.81 L64.8,404.48 L65.8,404.16 L66.8,403.86 L67.8,403.59 L68.8,403.36 L69.8,403.17 L70.8,403.03 L71.8,402.94 L72.8,402.9 L73.8,402.92 L74.8,402.99 L75.8,403.11 L76.8,403.28 L77.8,403.5 L78.8,403.75 L79.8,404.04 L80.8,404.35 L81.8,404.68 L82.8,405.02 L83.8,405.35 L84.8,405.68 L85.8,405.99 L86.8,406.28 L87.8,406.53 L88.8,406.74 L89.8,406.9 L90.8,407.02 L91.8,407.09 L92.8,407.1 L93.8,407.05 L94.8,406.96 L95.8,406.81 L96.8,406.62 L97.8,406.38 L98.8,406.11 L99.8,405.81 L100.8,405.49 L101.8,405.15 L102.8,404.81 L103.8,404.48 L104.8,404.16 L105.8,403.86 L106.8,403.59 L107.8,403.36 L108.8,403.17 L109.8,403.03 L110.8,402.94 L111.8,402.9 L112.8,402.92 L113.8,402.99 L114.8,403.11 L115.8,403.28 L116.8,403.5 L117.8,403.75 L118.8,404.04 L119.8,404.35 L120.8,404.68 L121.8,405.02 L122.8,405.35 L123.8,405.68 L124.8,405.99 L125.8,406.28 L126.8,406.53 L127.8,406.74 L128.8,406.9 L129.8,407.02 L130.8,407.09 L131.8,407.1 L132.8,407.05 L133.8,406.96 L134.8,406.81 L135.8,406.62 L136.8,406.38 L137.8,406.11 L138.8,405.81 L139.8,405.49 L140.8,405.15 L141.8,404.81 L142.8,404.48 L143.8,404.16 L144.8,403.86 L145.8,403.59 L146.8,403.36 L147.8,403.17 L148.8,403.03 L149.8,402.94 L150.8,402.9 L151.8,402.92 L152.8,402.99 L153.8,403.11 L154.8,403.28 L155.8,403.5 L156.8,403.75 L157.8,404.04 L158.8,404.35 L159.8,404.68 L160.8,405.02 L161.8,405.35 L162.8,405.68 L163.8,405.99 L164.8,406.28 L165.8,406.53 L166.8,406.74 L167.8,406.9 L168.8,407.02 L169.8,407.09 L170.8,407.1 L171.8,407.05 L172.8,406.96 L173.8,406.81 L174.8,406.62 L175.8,406.38 L176.8,406.11 L177.8,405.81 L178.8,405.49 L179.8,405.15 L180.8,404.81 L181.8,404.48 L182.8,404.16 L183.8,403.86 L184.8,403.59 L185.8,403.36 L186.8,403.17 L187.8,403.03 L188.8,402.94 L189.8,402.9 L190.8,402.92 L191.8,402.99 L192.8,403.11 L193.8,403.28 L194.8,403.5 L195.8,403.75 L196.8,404.04 L197.8,404.35 L198.8,404.68 L199.8,405.02 L200.8,405.35 L201.8,405.68 L202.8,405.99 L203.8,406.28 L204.8,406.53 L205.8,406.74 L206.8,406.9 L207.8,407.02 L208.8,407.09 L209.8,407.1 L210.8,407.05 L211.8,406.96 L212.8,406.81 L213.8,406.62 L214.8,406.38 L215.8,406.11 L216.8,405.81 L217.8,405.49 L218.8,405.15 L219.8,404.81 L220.8,404.48 L221.8,404.16 L222.8,403.86 L223.8,403.59 L224.8,403.36 L225.8,403.17 L226.8,403.03 L227.8,402.94 L228.8,402.9 L229.8,402.92 L230.8,402.99 L231.8,403.11 L232.8,403.28 L233.8,403.5 L234.8,403.75 L235.8,404.04 L236.8,404.35 L237.8,404.68 L238.8,405.02 L239.8,405.35 L240.8,405.68 L241.8,405.99 L242.8,406.28 L243.8,406.53 L244.8,406.74 L245.8,406.9 L246.8,407.02 L247.8,407.09 L248.8,407.1 L249.8,407.05 L250.8,406.96 L251.8,406.81 L252.8,406.62 L253.8,406.38 L254.8,406.11 L255.8,405.81 L256.8,405.49 L257.8,405.15 L258.8,404.81 L259.8,404.48 L260.8,404.16 L261.8,403.86 L262.8,403.59 L263.8,403.36 L264.8,403.17 L265.8,403.03 L266.8,402.94"/><path d="M36.8,442.51 L37.8,442.68 L38.8,442.9 L39.8,443.15 L40.8,443.44 L41.8,443.75 L42.8,444.08 L43.8,444.42 L44.8,444.75 L45.8,445.08 L46.8,445.39 L47.8,445.68 L48.8,445.93 L49.8,446.14 L50.8,446.3 L51.8,446.42 L52.8,446.49 L53.8,446.5 L54.8,446.45 L55.8,446.36 L56.8,446.21 L57.8,446.02 L58.8,445.78 L59.8,445.51 L60.8,445.21 L61.8,444.89 L62.8,444.55 L63.8,444.21 L64.8,443.88 L65.8,443.56 L66.8,443.26 L67.8,442.99 L68.8,442.76 L69.8,442.57 L70.8,442.43 L71.8,442.34 L72.8,442.3 L73.8,442.32 L74.8,442.39 L75.8,442.51 L76.8,442.68 L77.8,442.9 L78.8,443.15 L79.8,443.44 L80.8,443.75 L81.8,444.08 L82.8,444.42 L83.8,444.75 L84.8,445.08 L85.8,445.39 L86.8,445.68 L87.8,445.93 L88.8,446.14 L89.8,446.3 L90.8,446.42 L91.8,446.49 L92.8,446.5 L93.8,446.45 L94.8,446.36 L95.8,446.21 L96.8,446.02 L97.8,445.78 L98.8,445.51 L99.8,445.21 L100.8,444.89 L101.8,444.55 L102.8,444.21 L103.8,443.88 L104.8,443.56 L105.8,443.26 L106.8,442.99 L107.8,442.76 L108.8,442.57 L109.8,442.43 L110.8,442.34 L111.8,442.3 L112.8,442.32 L113.8,442.39 L114.8,442.51 L115.8,442.68 L116.8,442.9 L117.8,443.15 L118.8,443.44 L119.8,443.75 L120.8,444.08 L121.8,444.42 L122.8,444.75 L123.8,445.08 L124.8,445.39 L125.8,445.68 L126.8,445.93 L127.8,446.14 L128.8,446.3 L129.8,446.42 L130.8,446.49 L131.8,446.5 L132.8,446.45 L133.8,446.36 L134.8,446.21 L135.8,446.02 L136.8,445.78 L137.8,445.51 L138.8,445.21 L139.8,444.89 L140.8,444.55 L141.8,444.21 L142.8,443.88 L143.8,443.56 L144.8,443.26 L145.8,442.99 L146.8,442.76 L147.8,442.57 L148.8,442.43 L149.8,442.34 L150.8,442.3 L151.8,442.32 L152.8,442.39 L153.8,442.51 L154.8,442.68 L155.8,442.9 L156.8,443.15 L157.8,443.44 L158.8,443.75 L159.8,444.08 L160.8,444.42 L161.8,444.75 L162.8,445.08 L163.8,445.39 L164.8,445.68 L165.8,445.93 L166.8,446.14 L167.8,446.3 L168.8,446.42 L169.8,446.49 L170.8,446.5 L171.8,446.45 L172.8,446.36 L173.8,446.21 L174.8,446.02 L175.8,445.78 L176.8,445.51 L177.8,445.21 L178.8,444.89 L179.8,444.55 L180.8,444.21 L181.8,443.88 L182.8,443.56 L183.8,443.26 L184.8,442.99 L185.8,442.76 L186.8,442.57 L187.8,442.43 L188.8,442.34 L189.8,442.3 L190.8,442.32 L191.8,442.39 L192.8,442.51 L193.8,442.68 L194.8,442.9 L195.8,443.15 L196.8,443.44 L197.8,443.75 L198.8,444.08 L199.8,444.42 L200.8,444.75 L201.8,445.08 L202.8,445.39 L203.8,445.68 L204.8,445.93 L205.8,446.14 L206.8,446.3 L207.8,446.42 L208.8,446.49 L209.8,446.5 L210.8,446.45 L211.8,446.36 L212.8,446.21 L213.8,446.02 L214.8,445.78 L215.8,445.51 L216.8,445.21 L217.8,444.89 L218.8,444.55 L219.8,444.21 L220.8,443.88 L221.8,443.56 L222.8,443.26 L223.8,442.99 L224.8,442.76 L225.8,442.57 L226.8,442.43 L227.8,442.34 L228.8,442.3 L229.8,442.32 L230.8,442.39 L231.8,442.51 L232.8,442.68 L233.8,442.9 L234.8,443.15 L235.8,443.44 L236.8,443.75 L237.8,444.08 L238.8,444.42 L239.8,444.75 L240.8,445.08 L241.8,445.39 L242.8,445.68 L243.8,445.93 L244.8,446.14 L245.8,446.3 L246.8,446.42 L247.8,446.49 L248.8,446.5 L249.8,446.45 L250.8,446.36 L251.8,446.21 L252.8,446.02 L253.8,445.78 L254.8,445.51 L255.8,445.21 L256.8,444.89 L257.8,444.55 L258.8,444.21 L259.8,443.88 L260.8,443.56 L261.8,443.26 L262.8,442.99 L263.8,442.76 L264.8,442.57 L265.8,442.43 L266.8,442.34"/><path d="M36.8,481.91 L37.8,482.08 L38.8,482.3 L39.8,482.55 L40.8,482.84 L41.8,483.15 L42.8,483.48 L43.8,483.82 L44.8,484.15 L45.8,484.48 L46.8,484.79 L47.8,485.08 L48.8,485.33 L49.8,485.54 L50.8,485.7 L51.8,485.82 L52.8,485.89 L53.8,485.9 L54.8,485.85 L55.8,485.76 L56.8,485.61 L57.8,485.42 L58.8,485.18 L59.8,484.91 L60.8,484.61 L61.8,484.29 L62.8,483.95 L63.8,483.61 L64.8,483.28 L65.8,482.96 L66.8,482.66 L67.8,482.39 L68.8,482.16 L69.8,481.97 L70.8,481.83 L71.8,481.74 L72.8,481.7 L73.8,481.72 L74.8,481.79 L75.8,481.91 L76.8,482.08 L77.8,482.3 L78.8,482.55 L79.8,482.84 L80.8,483.15 L81.8,483.48 L82.8,483.82 L83.8,484.15 L84.8,484.48 L85.8,484.79 L86.8,485.08 L87.8,485.33 L88.8,485.54 L89.8,485.7 L90.8,485.82 L91.8,485.89 L92.8,485.9 L93.8,485.85 L94.8,485.76 L95.8,485.61 L96.8,485.42 L97.8,485.18 L98.8,484.91 L99.8,484.61 L100.8,484.29 L101.8,483.95 L102.8,483.61 L103.8,483.28 L104.8,482.96 L105.8,482.66 L106.8,482.39 L107.8,482.16 L108.8,481.97 L109.8,481.83 L110.8,481.74 L111.8,481.7 L112.8,481.72 L113.8,481.79 L114.8,481.91 L115.8,482.08 L116.8,482.3 L117.8,482.55 L118.8,482.84 L119.8,483.15 L120.8,483.48 L121.8,483.82 L122.8,484.15 L123.8,484.48 L124.8,484.79 L125.8,485.08 L126.8,485.33 L127.8,485.54 L128.8,485.7 L129.8,485.82 L130.8,485.89 L131.8,485.9 L132.8,485.85 L133.8,485.76 L134.8,485.61 L135.8,485.42 L136.8,485.18 L137.8,484.91 L138.8,484.61 L139.8,484.29 L140.8,483.95 L141.8,483.61 L142.8,483.28 L143.8,482.96 L144.8,482.66 L145.8,482.39 L146.8,482.16 L147.8,481.97 L148.8,481.83 L149.8,481.74 L150.8,481.7 L151.8,481.72 L152.8,481.79 L153.8,481.91 L154.8,482.08 L155.8,482.3 L156.8,482.55 L157.8,482.84 L158.8,483.15 L159.8,483.48 L160.8,483.82 L161.8,484.15 L162.8,484.48 L163.8,484.79 L164.8,485.08 L165.8,485.33 L166.8,485.54 L167.8,485.7 L168.8,485.82 L169.8,485.89 L170.8,485.9 L171.8,485.85 L172.8,485.76 L173.8,485.61 L174.8,485.42 L175.8,485.18 L176.8,484.91 L177.8,484.61 L178.8,484.29 L179.8,483.95 L180.8,483.61 L181.8,483.28 L182.8,482.96 L183.8,482.66 L184.8,482.39 L185.8,482.16 L186.8,481.97 L187.8,481.83 L188.8,481.74 L189.8,481.7 L190.8,481.72 L191.8,481.79 L192.8,481.91 L193.8,482.08 L194.8,482.3 L195.8,482.55 L196.8,482.84 L197.8,483.15 L198.8,483.48 L199.8,483.82 L200.8,484.15 L201.8,484.48 L202.8,484.79 L203.8,485.08 L204.8,485.33 L205.8,485.54 L206.8,485.7 L207.8,485.82 L208.8,485.89 L209.8,485.9 L210.8,485.85 L211.8,485.76 L212.8,485.61 L213.8,485.42 L214.8,485.18 L215.8,484.91 L216.8,484.61 L217.8,484.29 L218.8,483.95 L219.8,483.61 L220.8,483.28 L221.8,482.96 L222.8,482.66 L223.8,482.39 L224.8,482.16 L225.8,481.97 L226.8,481.83 L227.8,481.74 L228.8,481.7 L229.8,481.72 L230.8,481.79 L231.8,481.91 L232.8,482.08 L233.8,482.3 L234.8,482.55 L235.8,482.84 L236.8,483.15 L237.8,483.48 L238.8,483.82 L239.8,484.15 L240.8,484.48 L241.8,484.79 L242.8,485.08 L243.8,485.33 L244.8,485.54 L245.8,485.7 L246.8,485.82 L247.8,485.89 L248.8,485.9 L249.8,485.85 L250.8,485.76 L251.8,485.61 L252.8,485.42 L253.8,485.18 L254.8,484.91 L255.8,484.61 L256.8,484.29 L257.8,483.95 L258.8,483.61 L259.8,483.28 L260.8,482.96 L261.8,482.66 L262.8,482.39 L263.8,482.16 L264.8,481.97 L265.8,481.83 L266.8,481.74"/><path d="M36.8,521.31 L37.8,521.48 L38.8,521.7 L39.8,521.95 L40.8,522.24 L41.8,522.55 L42.8,522.88 L43.8,523.22 L44.8,523.55 L45.8,523.88 L46.8,524.19 L47.8,524.48 L48.8,524.73 L49.8,524.94 L50.8,525.1 L51.8,525.22 L52.8,525.29 L53.8,525.3 L54.8,525.25 L55.8,525.16 L56.8,525.01 L57.8,524.82 L58.8,524.58 L59.8,524.31 L60.8,524.01 L61.8,523.69 L62.8,523.35 L63.8,523.01 L64.8,522.68 L65.8,522.36 L66.8,522.06 L67.8,521.79 L68.8,521.56 L69.8,521.37 L70.8,521.23 L71.8,521.14 L72.8,521.1 L73.8,521.12 L74.8,521.19 L75.8,521.31 L76.8,521.48 L77.8,521.7 L78.8,521.95 L79.8,522.24 L80.8,522.55 L81.8,522.88 L82.8,523.22 L83.8,523.55 L84.8,523.88 L85.8,524.19 L86.8,524.48 L87.8,524.73 L88.8,524.94 L89.8,525.1 L90.8,525.22 L91.8,525.29 L92.8,525.3 L93.8,525.25 L94.8,525.16 L95.8,525.01 L96.8,524.82 L97.8,524.58 L98.8,524.31 L99.8,524.01 L100.8,523.69 L101.8,523.35 L102.8,523.01 L103.8,522.68 L104.8,522.36 L105.8,522.06 L106.8,521.79 L107.8,521.56 L108.8,521.37 L109.8,521.23 L110.8,521.14 L111.8,521.1 L112.8,521.12 L113.8,521.19 L114.8,521.31 L115.8,521.48 L116.8,521.7 L117.8,521.95 L118.8,522.24 L119.8,522.55 L120.8,522.88 L121.8,523.22 L122.8,523.55 L123.8,523.88 L124.8,524.19 L125.8,524.48 L126.8,524.73 L127.8,524.94 L128.8,525.1 L129.8,525.22 L130.8,525.29 L131.8,525.3 L132.8,525.25 L133.8,525.16 L134.8,525.01 L135.8,524.82 L136.8,524.58 L137.8,524.31 L138.8,524.01 L139.8,523.69 L140.8,523.35 L141.8,523.01 L142.8,522.68 L143.8,522.36 L144.8,522.06 L145.8,521.79 L146.8,521.56 L147.8,521.37 L148.8,521.23 L149.8,521.14 L150.8,521.1 L151.8,521.12 L152.8,521.19 L153.8,521.31 L154.8,521.48 L155.8,521.7 L156.8,521.95 L157.8,522.24 L158.8,522.55 L159.8,522.88 L160.8,523.22 L161.8,523.55 L162.8,523.88 L163.8,524.19 L164.8,524.48 L165.8,524.73 L166.8,524.94 L167.8,525.1 L168.8,525.22 L169.8,525.29 L170.8,525.3 L171.8,525.25 L172.8,525.16 L173.8,525.01 L174.8,524.82 L175.8,524.58 L176.8,524.31 L177.8,524.01 L178.8,523.69 L179.8,523.35 L180.8,523.01 L181.8,522.68 L182.8,522.36 L183.8,522.06 L184.8,521.79 L185.8,521.56 L186.8,521.37 L187.8,521.23 L188.8,521.14 L189.8,521.1 L190.8,521.12 L191.8,521.19 L192.8,521.31 L193.8,521.48 L194.8,521.7 L195.8,521.95 L196.8,522.24 L197.8,522.55 L198.8,522.88 L199.8,523.22 L200.8,523.55 L201.8,523.88 L202.8,524.19 L203.8,524.48 L204.8,524.73 L205.8,524.94 L206.8,525.1 L207.8,525.22 L208.8,525.29 L209.8,525.3 L210.8,525.25 L211.8,525.16 L212.8,525.01 L213.8,524.82 L214.8,524.58 L215.8,524.31 L216.8,524.01 L217.8,523.69 L218.8,523.35 L219.8,523.01 L220.8,522.68 L221.8,522.36 L222.8,522.06 L223.8,521.79 L224.8,521.56 L225.8,521.37 L226.8,521.23 L227.8,521.14 L228.8,521.1 L229.8,521.12 L230.8,521.19 L231.8,521.31 L232.8,521.48 L233.8,521.7 L234.8,521.95 L235.8,522.24 L236.8,522.55 L237.8,522.88 L238.8,523.22 L239.8,523.55 L240.8,523.88 L241.8,524.19 L242.8,524.48 L243.8,524.73 L244.8,524.94 L245.8,525.1 L246.8,525.22 L247.8,525.29 L248.8,525.3 L249.8,525.25 L250.8,525.16 L251.8,525.01 L252.8,524.82 L253.8,524.58 L254.8,524.31 L255.8,524.01 L256.8,523.69 L257.8,523.35 L258.8,523.01 L259.8,522.68 L260.8,522.36 L261.8,522.06 L262.8,521.79 L263.8,521.56 L264.8,521.37 L265.8,521.23 L266.8,521.14"/><path d="M36.8,560.71 L37.8,560.88 L38.8,561.1 L39.8,561.35 L40.8,561.64 L41.8,561.95 L42.8,562.28 L43.8,562.62 L44.8,562.95 L45.8,563.28 L46.8,563.59 L47.8,563.88 L48.8,564.13 L49.8,564.34 L50.8,564.5 L51.8,564.62 L52.8,564.69 L53.8,564.7 L54.8,564.65 L55.8,564.56 L56.8,564.41 L57.8,564.22 L58.8,563.98 L59.8,563.71 L60.8,563.41 L61.8,563.09 L62.8,562.75 L63.8,562.41 L64.8,562.08 L65.8,561.76 L66.8,561.46 L67.8,561.19 L68.8,560.96 L69.8,560.77 L70.8,560.63 L71.8,560.54 L72.8,560.5 L73.8,560.52 L74.8,560.59 L75.8,560.71 L76.8,560.88 L77.8,561.1 L78.8,561.35 L79.8,561.64 L80.8,561.95 L81.8,562.28 L82.8,562.62 L83.8,562.95 L84.8,563.28 L85.8,563.59 L86.8,563.88 L87.8,564.13 L88.8,564.34 L89.8,564.5 L90.8,564.62 L91.8,564.69 L92.8,564.7 L93.8,564.65 L94.8,564.56 L95.8,564.41 L96.8,564.22 L97.8,563.98 L98.8,563.71 L99.8,563.41 L100.8,563.09 L101.8,562.75 L102.8,562.41 L103.8,562.08 L104.8,561.76 L105.8,561.46 L106.8,561.19 L107.8,560.96 L108.8,560.77 L109.8,560.63 L110.8,560.54 L111.8,560.5 L112.8,560.52 L113.8,560.59 L114.8,560.71 L115.8,560.88 L116.8,561.1 L117.8,561.35 L118.8,561.64 L119.8,561.95 L120.8,562.28 L121.8,562.62 L122.8,562.95 L123.8,563.28 L124.8,563.59 L125.8,563.88 L126.8,564.13 L127.8,564.34 L128.8,564.5 L129.8,564.62 L130.8,564.69 L131.8,564.7 L132.8,564.65 L133.8,564.56 L134.8,564.41 L135.8,564.22 L136.8,563.98 L137.8,563.71 L138.8,563.41 L139.8,563.09 L140.8,562.75 L141.8,562.41 L142.8,562.08 L143.8,561.76 L144.8,561.46 L145.8,561.19 L146.8,560.96 L147.8,560.77 L148.8,560.63 L149.8,560.54 L150.8,560.5 L151.8,560.52 L152.8,560.59 L153.8,560.71 L154.8,560.88 L155.8,561.1 L156.8,561.35 L157.8,561.64 L158.8,561.95 L159.8,562.28 L160.8,562.62 L161.8,562.95 L162.8,563.28 L163.8,563.59 L164.8,563.88 L165.8,564.13 L166.8,564.34 L167.8,564.5 L168.8,564.62 L169.8,564.69 L170.8,564.7 L171.8,564.65 L172.8,564.56 L173.8,564.41 L174.8,564.22 L175.8,563.98 L176.8,563.71 L177.8,563.41 L178.8,563.09 L179.8,562.75 L180.8,562.41 L181.8,562.08 L182.8,561.76 L183.8,561.46 L184.8,561.19 L185.8,560.96 L186.8,560.77 L187.8,560.63 L188.8,560.54 L189.8,560.5 L190.8,560.52 L191.8,560.59 L192.8,560.71 L193.8,560.88 L194.8,561.1 L195.8,561.35 L196.8,561.64 L197.8,561.95 L198.8,562.28 L199.8,562.62 L200.8,562.95 L201.8,563.28 L202.8,563.59 L203.8,563.88 L204.8,564.13 L205.8,564.34 L206.8,564.5 L207.8,564.62 L208.8,564.69 L209.8,564.7 L210.8,564.65 L211.8,564.56 L212.8,564.41 L213.8,564.22 L214.8,563.98 L215.8,563.71 L216.8,563.41 L217.8,563.09 L218.8,562.75 L219.8,562.41 L220.8,562.08 L221.8,561.76 L222.8,561.46 L223.8,561.19 L224.8,560.96 L225.8,560.77 L226.8,560.63 L227.8,560.54 L228.8,560.5 L229.8,560.52 L230.8,560.59 L231.8,560.71 L232.8,560.88 L233.8,561.1 L234.8,561.35 L235.8,561.64 L236.8,561.95 L237.8,562.28 L238.8,562.62 L239.8,562.95 L240.8,563.28 L241.8,563.59 L242.8,563.88 L243.8,564.13 L244.8,564.34 L245.8,564.5 L246.8,564.62 L247.8,564.69 L248.8,564.7 L249.8,564.65 L250.8,564.56 L251.8,564.41 L252.8,564.22 L253.8,563.98 L254.8,563.71 L255.8,563.41 L256.8,563.09 L257.8,562.75 L258.8,562.41 L259.8,562.08 L260.8,561.76 L261.8,561.46 L262.8,561.19 L263.8,560.96 L264.8,560.77 L265.8,560.63 L266.8,560.54"/></g>
<rect x="313.8" y="404.8" width="16.4" height="16.4" fill="#dcecf8" stroke="#555" stroke-width="1"/>
<path d="M314.6,433.4 C317,436 318.5,440.3 321.2,440.3 C324,440.3 326,436 328.3,433.4" fill="none" stroke="#bcd99a" stroke-width="1.1"/>
<path d="M313.6,457.6 C313.5,454.6 316,453.2 319,453.3 L324,453.5 C327,453.6 329.8,455.5 330.2,458 C329,459.6 327,460.2 324.5,459.4 C322,458.7 320,459.1 318,460.1 C315.5,461.2 313.6,460 313.6,457.6Z" fill="#585858" stroke="#2a2a2a" stroke-width="0.8"/>
<path d="M315.5,478.6 C317.5,480.5 319.2,479.8 320.5,477.6 C321.8,475.4 323.5,474.2 325.2,475.2 C326.2,475.8 326.9,477 327.4,478" fill="none" stroke="#d07888" stroke-width="1"/>
<rect x="313.8" y="490.3" width="16.4" height="15.4" fill="url(#heatL)" stroke="#555" stroke-width="1"/>
<text x="342.2" y="419.3" font-size="14.15" fill="#333" stroke="#333" stroke-width="0.28" opacity="0.99" font-family="Liberation Sans, sans-serif" >Water</text>
<text x="341" y="440" font-size="14.15" fill="#333" stroke="#333" stroke-width="0.28" opacity="0.99" font-family="Liberation Sans, sans-serif" >PNIPAm matrix</text>
<text x="341" y="460.6" font-size="14.15" fill="#333" stroke="#333" stroke-width="0.28" opacity="0.99" font-family="Liberation Sans, sans-serif" >rGO</text>
<text x="341" y="481.4" font-size="14.15" fill="#333" stroke="#333" stroke-width="0.28" opacity="0.99" font-family="Liberation Sans, sans-serif" >Illumination</text>
<text x="341" y="502" font-size="14.15" fill="#333" stroke="#333" stroke-width="0.28" opacity="0.99" font-family="Liberation Sans, sans-serif" >Heat</text>
<g stroke="#8eaed4" stroke-width="1.1" stroke-dasharray="1.1,1.9" fill="none"><path d="M475,337.5 L731,337.5"/><path d="M475,593.5 L731,593.5"/><path d="M475.5,337 L475.5,594"/><path d="M730.5,337 L730.5,594"/></g>
<text x="484.7" y="358" font-size="14.15" fill="#333" stroke="#333" stroke-width="0.28" opacity="0.99" font-family="Liberation Sans, sans-serif" >Photothermal</text>
<text x="484.7" y="374.8" font-size="14.15" fill="#333" stroke="#333" stroke-width="0.28" opacity="0.99" font-family="Liberation Sans, sans-serif" >effect</text>
<text x="521.5" y="558.7" font-size="14.15" fill="#333" stroke="#333" stroke-width="0.28" opacity="0.99" font-family="Liberation Sans, sans-serif" >Water</text>
<text x="521.5" y="575.5" font-size="14.15" fill="#333" stroke="#333" stroke-width="0.28" opacity="0.99" font-family="Liberation Sans, sans-serif" >expulsion</text>
<text x="637.8" y="558.7" font-size="14.15" fill="#333" stroke="#333" stroke-width="0.28" opacity="0.99" font-family="Liberation Sans, sans-serif" >Gel</text>
<text x="637.8" y="575.5" font-size="14.15" fill="#333" stroke="#333" stroke-width="0.28" opacity="0.99" font-family="Liberation Sans, sans-serif" >contraction</text>
<circle cx="593.4" cy="436" r="34" fill="url(#heat)" opacity="0.8"/>
<circle cx="579.5" cy="500" r="32" fill="url(#heat)" opacity="0.8"/>
<circle cx="637.2" cy="482" r="34" fill="url(#heat)" opacity="0.8"/>
<g fill="none" stroke="#bcdc94" stroke-width="1" opacity="1.0" ><path d="M546,418 L547,419.01 L548,419.95 L549,420.72 L550,421.27 L551,421.56 L552,421.56 L553,421.27 L554,420.72 L555,419.95 L556,419.01 L557,418 L558,416.99 L559,416.05 L560,415.28 L561,414.73 L562,414.44 L563,414.44 L564,414.73 L565,415.28 L566,416.05 L567,416.99 L568,418 L569,419.01 L570,419.95 L571,420.72 L572,421.27 L573,421.56 L574,421.56 L575,421.27 L576,420.72 L577,419.95 L578,419.01 L579,418 L580,416.99 L581,416.05 L582,415.28 L583,414.73 L584,414.44 L585,414.44 L586,414.73 L587,415.28 L588,416.05 L589,416.99 L590,418 L591,419.01 L592,419.95 L593,420.72 L594,421.27 L595,421.56 L596,421.56 L597,421.27 L598,420.72 L599,419.95 L600,419.01 L601,418 L602,416.99 L603,416.05 L604,415.28 L605,414.73 L606,414.44 L607,414.44 L608,414.73 L609,415.28 L610,416.05 L611,416.99 L612,418 L613,419.01 L614,419.95 L615,420.72 L616,421.27 L617,421.56 L618,421.56 L619,421.27 L620,420.72 L621,419.95 L622,419.01 L623,418 L624,416.99 L625,416.05 L626,415.28 L627,414.73 L628,414.44 L629,414.44 L630,414.73 L631,415.28 L632,416.05 L633,416.99 L634,418 L635,419.01 L636,419.95 L637,420.72 L638,421.27 L639,421.56 L640,421.56 L641,421.27 L642,420.72 L643,419.95 L644,419.01 L645,418 L646,416.99 L647,416.05 L648,415.28 L649,414.73 L650,414.44 L651,414.44 L652,414.73 L653,415.28 L654,416.05 L655,416.99 L656,418 L657,419.01 L658,419.95 L659,420.72 L660,421.27 L661,421.56 L662,421.56 L663,421.27 L664,420.72 L665,419.95 L666,419.01 L667,418 L668,416.99 L669,416.05 L670,415.28 L671,414.73 L672,414.44 L673,414.44 L674,414.73 L675,415.28 L676,416.05 L677,416.99"/><path d="M546,443.47 L547,443.6 L548,443.44 L549,443 L550,442.32 L551,441.45 L552,440.46 L553,439.43 L554,438.46 L555,437.6 L556,436.94 L557,436.53 L558,436.4 L559,436.56 L560,437 L561,437.68 L562,438.55 L563,439.54 L564,440.57 L565,441.54 L566,442.4 L567,443.06 L568,443.47 L569,443.6 L570,443.44 L571,443 L572,442.32 L573,441.45 L574,440.46 L575,439.43 L576,438.46 L577,437.6 L578,436.94 L579,436.53 L580,436.4 L581,436.56 L582,437 L583,437.68 L584,438.55 L585,439.54 L586,440.57 L587,441.54 L588,442.4 L589,443.06 L590,443.47 L591,443.6 L592,443.44 L593,443 L594,442.32 L595,441.45 L596,440.46 L597,439.43 L598,438.46 L599,437.6 L600,436.94 L601,436.53 L602,436.4 L603,436.56 L604,437 L605,437.68 L606,438.55 L607,439.54 L608,440.57 L609,441.54 L610,442.4 L611,443.06 L612,443.47 L613,443.6 L614,443.44 L615,443 L616,442.32 L617,441.45 L618,440.46 L619,439.43 L620,438.46 L621,437.6 L622,436.94 L623,436.53 L624,436.4 L625,436.56 L626,437 L627,437.68 L628,438.55 L629,439.54 L630,440.57 L631,441.54 L632,442.4 L633,443.06 L634,443.47 L635,443.6 L636,443.44 L637,443 L638,442.32 L639,441.45 L640,440.46 L641,439.43 L642,438.46 L643,437.6 L644,436.94 L645,436.53 L646,436.4 L647,436.56 L648,437 L649,437.68 L650,438.55 L651,439.54 L652,440.57 L653,441.54 L654,442.4 L655,443.06 L656,443.47 L657,443.6 L658,443.44 L659,443 L660,442.32 L661,441.45 L662,440.46 L663,439.43 L664,438.46 L665,437.6 L666,436.94 L667,436.53 L668,436.4 L669,436.56 L670,437 L671,437.68 L672,438.55 L673,439.54 L674,440.57 L675,441.54 L676,442.4 L677,443.06"/><path d="M546,463.86 L547,462.91 L548,461.89 L549,460.88 L550,459.96 L551,459.21 L552,458.68 L553,458.42 L554,458.45 L555,458.77 L556,459.35 L557,460.14 L558,461.09 L559,462.11 L560,463.12 L561,464.04 L562,464.79 L563,465.32 L564,465.58 L565,465.55 L566,465.23 L567,464.65 L568,463.86 L569,462.91 L570,461.89 L571,460.88 L572,459.96 L573,459.21 L574,458.68 L575,458.42 L576,458.45 L577,458.77 L578,459.35 L579,460.14 L580,461.09 L581,462.11 L582,463.12 L583,464.04 L584,464.79 L585,465.32 L586,465.58 L587,465.55 L588,465.23 L589,464.65 L590,463.86 L591,462.91 L592,461.89 L593,460.88 L594,459.96 L595,459.21 L596,458.68 L597,458.42 L598,458.45 L599,458.77 L600,459.35 L601,460.14 L602,461.09 L603,462.11 L604,463.12 L605,464.04 L606,464.79 L607,465.32 L608,465.58 L609,465.55 L610,465.23 L611,464.65 L612,463.86 L613,462.91 L614,461.89 L615,460.88 L616,459.96 L617,459.21 L618,458.68 L619,458.42 L620,458.45 L621,458.77 L622,459.35 L623,460.14 L624,461.09 L625,462.11 L626,463.12 L627,464.04 L628,464.79 L629,465.32 L630,465.58 L631,465.55 L632,465.23 L633,464.65 L634,463.86 L635,462.91 L636,461.89 L637,460.88 L638,459.96 L639,459.21 L640,458.68 L641,458.42 L642,458.45 L643,458.77 L644,459.35 L645,460.14 L646,461.09 L647,462.11 L648,463.12 L649,464.04 L650,464.79 L651,465.32 L652,465.58 L653,465.55 L654,465.23 L655,464.65 L656,463.86 L657,462.91 L658,461.89 L659,460.88 L660,459.96 L661,459.21 L662,458.68 L663,458.42 L664,458.45 L665,458.77 L666,459.35 L667,460.14 L668,461.09 L669,462.11 L670,463.12 L671,464.04 L672,464.79 L673,465.32 L674,465.58 L675,465.55 L676,465.23 L677,464.65"/><path d="M546,481.52 L547,480.89 L548,480.5 L549,480.4 L550,480.59 L551,481.06 L552,481.77 L553,482.65 L554,483.65 L555,484.67 L556,485.64 L557,486.48 L558,487.11 L559,487.5 L560,487.6 L561,487.41 L562,486.94 L563,486.23 L564,485.35 L565,484.35 L566,483.33 L567,482.36 L568,481.52 L569,480.89 L570,480.5 L571,480.4 L572,480.59 L573,481.06 L574,481.77 L575,482.65 L576,483.65 L577,484.67 L578,485.64 L579,486.48 L580,487.11 L581,487.5 L582,487.6 L583,487.41 L584,486.94 L585,486.23 L586,485.35 L587,484.35 L588,483.33 L589,482.36 L590,481.52 L591,480.89 L592,480.5 L593,480.4 L594,480.59 L595,481.06 L596,481.77 L597,482.65 L598,483.65 L599,484.67 L600,485.64 L601,486.48 L602,487.11 L603,487.5 L604,487.6 L605,487.41 L606,486.94 L607,486.23 L608,485.35 L609,484.35 L610,483.33 L611,482.36 L612,481.52 L613,480.89 L614,480.5 L615,480.4 L616,480.59 L617,481.06 L618,481.77 L619,482.65 L620,483.65 L621,484.67 L622,485.64 L623,486.48 L624,487.11 L625,487.5 L626,487.6 L627,487.41 L628,486.94 L629,486.23 L630,485.35 L631,484.35 L632,483.33 L633,482.36 L634,481.52 L635,480.89 L636,480.5 L637,480.4 L638,480.59 L639,481.06 L640,481.77 L641,482.65 L642,483.65 L643,484.67 L644,485.64 L645,486.48 L646,487.11 L647,487.5 L648,487.6 L649,487.41 L650,486.94 L651,486.23 L652,485.35 L653,484.35 L654,483.33 L655,482.36 L656,481.52 L657,480.89 L658,480.5 L659,480.4 L660,480.59 L661,481.06 L662,481.77 L663,482.65 L664,483.65 L665,484.67 L666,485.64 L667,486.48 L668,487.11 L669,487.5 L670,487.6 L671,487.41 L672,486.94 L673,486.23 L674,485.35 L675,484.35 L676,483.33 L677,482.36"/><path d="M546,502.82 L547,503.42 L548,504.24 L549,505.19 L550,506.21 L551,507.22 L552,508.12 L553,508.86 L554,509.36 L555,509.59 L556,509.53 L557,509.18 L558,508.58 L559,507.76 L560,506.81 L561,505.79 L562,504.78 L563,503.88 L564,503.14 L565,502.64 L566,502.41 L567,502.47 L568,502.82 L569,503.42 L570,504.24 L571,505.19 L572,506.21 L573,507.22 L574,508.12 L575,508.86 L576,509.36 L577,509.59 L578,509.53 L579,509.18 L580,508.58 L581,507.76 L582,506.81 L583,505.79 L584,504.78 L585,503.88 L586,503.14 L587,502.64 L588,502.41 L589,502.47 L590,502.82 L591,503.42 L592,504.24 L593,505.19 L594,506.21 L595,507.22 L596,508.12 L597,508.86 L598,509.36 L599,509.59 L600,509.53 L601,509.18 L602,508.58 L603,507.76 L604,506.81 L605,505.79 L606,504.78 L607,503.88 L608,503.14 L609,502.64 L610,502.41 L611,502.47 L612,502.82 L613,503.42 L614,504.24 L615,505.19 L616,506.21 L617,507.22 L618,508.12 L619,508.86 L620,509.36 L621,509.59 L622,509.53 L623,509.18 L624,508.58 L625,507.76 L626,506.81 L627,505.79 L628,504.78 L629,503.88 L630,503.14 L631,502.64 L632,502.41 L633,502.47 L634,502.82 L635,503.42 L636,504.24 L637,505.19 L638,506.21 L639,507.22 L640,508.12 L641,508.86 L642,509.36 L643,509.59 L644,509.53 L645,509.18 L646,508.58 L647,507.76 L648,506.81 L649,505.79 L650,504.78 L651,503.88 L652,503.14 L653,502.64 L654,502.41 L655,502.47 L656,502.82 L657,503.42 L658,504.24 L659,505.19 L660,506.21 L661,507.22 L662,508.12 L663,508.86 L664,509.36 L665,509.59 L666,509.53 L667,509.18 L668,508.58 L669,507.76 L670,506.81 L671,505.79 L672,504.78 L673,503.88 L674,503.14 L675,502.64 L676,502.41 L677,502.47"/><path d="M546,528.77 L547,529.73 L548,530.55 L549,531.16 L550,531.52 L551,531.59 L552,531.37 L553,530.88 L554,530.15 L555,529.25 L556,528.25 L557,527.23 L558,526.27 L559,525.45 L560,524.84 L561,524.48 L562,524.41 L563,524.63 L564,525.12 L565,525.85 L566,526.75 L567,527.75 L568,528.77 L569,529.73 L570,530.55 L571,531.16 L572,531.52 L573,531.59 L574,531.37 L575,530.88 L576,530.15 L577,529.25 L578,528.25 L579,527.23 L580,526.27 L581,525.45 L582,524.84 L583,524.48 L584,524.41 L585,524.63 L586,525.12 L587,525.85 L588,526.75 L589,527.75 L590,528.77 L591,529.73 L592,530.55 L593,531.16 L594,531.52 L595,531.59 L596,531.37 L597,530.88 L598,530.15 L599,529.25 L600,528.25 L601,527.23 L602,526.27 L603,525.45 L604,524.84 L605,524.48 L606,524.41 L607,524.63 L608,525.12 L609,525.85 L610,526.75 L611,527.75 L612,528.77 L613,529.73 L614,530.55 L615,531.16 L616,531.52 L617,531.59 L618,531.37 L619,530.88 L620,530.15 L621,529.25 L622,528.25 L623,527.23 L624,526.27 L625,525.45 L626,524.84 L627,524.48 L628,524.41 L629,524.63 L630,525.12 L631,525.85 L632,526.75 L633,527.75 L634,528.77 L635,529.73 L636,530.55 L637,531.16 L638,531.52 L639,531.59 L640,531.37 L641,530.88 L642,530.15 L643,529.25 L644,528.25 L645,527.23 L646,526.27 L647,525.45 L648,524.84 L649,524.48 L650,524.41 L651,524.63 L652,525.12 L653,525.85 L654,526.75 L655,527.75 L656,528.77 L657,529.73 L658,530.55 L659,531.16 L660,531.52 L661,531.59 L662,531.37 L663,530.88 L664,530.15 L665,529.25 L666,528.25 L667,527.23 L668,526.27 L669,525.45 L670,524.84 L671,524.48 L672,524.41 L673,524.63 L674,525.12 L675,525.85 L676,526.75 L677,527.75"/><path d="M556,408 L557.01,409 L557.95,410 L558.72,411 L559.27,412 L559.56,413 L559.56,414 L559.27,415 L558.72,416 L557.95,417 L557.01,418 L556,419 L554.99,420 L554.05,421 L553.28,422 L552.73,423 L552.44,424 L552.44,425 L552.73,426 L553.28,427 L554.05,428 L554.99,429 L556,430 L557.01,431 L557.95,432 L558.72,433 L559.27,434 L559.56,435 L559.56,436 L559.27,437 L558.72,438 L557.95,439 L557.01,440 L556,441 L554.99,442 L554.05,443 L553.28,444 L552.73,445 L552.44,446 L552.44,447 L552.73,448 L553.28,449 L554.05,450 L554.99,451 L556,452 L557.01,453 L557.95,454 L558.72,455 L559.27,456 L559.56,457 L559.56,458 L559.27,459 L558.72,460 L557.95,461 L557.01,462 L556,463 L554.99,464 L554.05,465 L553.28,466 L552.73,467 L552.44,468 L552.44,469 L552.73,470 L553.28,471 L554.05,472 L554.99,473 L556,474 L557.01,475 L557.95,476 L558.72,477 L559.27,478 L559.56,479 L559.56,480 L559.27,481 L558.72,482 L557.95,483 L557.01,484 L556,485 L554.99,486 L554.05,487 L553.28,488 L552.73,489 L552.44,490 L552.44,491 L552.73,492 L553.28,493 L554.05,494 L554.99,495 L556,496 L557.01,497 L557.95,498 L558.72,499 L559.27,500 L559.56,501 L559.56,502 L559.27,503 L558.72,504 L557.95,505 L557.01,506 L556,507 L554.99,508 L554.05,509 L553.28,510 L552.73,511 L552.44,512 L552.44,513 L552.73,514 L553.28,515 L554.05,516 L554.99,517 L556,518 L557.01,519 L557.95,520 L558.72,521 L559.27,522 L559.56,523 L559.56,524 L559.27,525 L558.72,526 L557.95,527 L557.01,528 L556,529 L554.99,530 L554.05,531 L553.28,532 L552.73,533 L552.44,534 L552.44,535 L552.73,536 L553.28,537 L554.05,538 L554.99,539 L556,540"/><path d="M580.82,408 L581.34,409 L581.58,410 L581.54,411 L581.21,412 L580.62,413 L579.81,414 L578.86,415 L577.84,416 L576.84,417 L575.92,418 L575.18,419 L574.66,420 L574.42,421 L574.46,422 L574.79,423 L575.38,424 L576.19,425 L577.14,426 L578.16,427 L579.16,428 L580.08,429 L580.82,430 L581.34,431 L581.58,432 L581.54,433 L581.21,434 L580.62,435 L579.81,436 L578.86,437 L577.84,438 L576.84,439 L575.92,440 L575.18,441 L574.66,442 L574.42,443 L574.46,444 L574.79,445 L575.38,446 L576.19,447 L577.14,448 L578.16,449 L579.16,450 L580.08,451 L580.82,452 L581.34,453 L581.58,454 L581.54,455 L581.21,456 L580.62,457 L579.81,458 L578.86,459 L577.84,460 L576.84,461 L575.92,462 L575.18,463 L574.66,464 L574.42,465 L574.46,466 L574.79,467 L575.38,468 L576.19,469 L577.14,470 L578.16,471 L579.16,472 L580.08,473 L580.82,474 L581.34,475 L581.58,476 L581.54,477 L581.21,478 L580.62,479 L579.81,480 L578.86,481 L577.84,482 L576.84,483 L575.92,484 L575.18,485 L574.66,486 L574.42,487 L574.46,488 L574.79,489 L575.38,490 L576.19,491 L577.14,492 L578.16,493 L579.16,494 L580.08,495 L580.82,496 L581.34,497 L581.58,498 L581.54,499 L581.21,500 L580.62,501 L579.81,502 L578.86,503 L577.84,504 L576.84,505 L575.92,506 L575.18,507 L574.66,508 L574.42,509 L574.46,510 L574.79,511 L575.38,512 L576.19,513 L577.14,514 L578.16,515 L579.16,516 L580.08,517 L580.82,518 L581.34,519 L581.58,520 L581.54,521 L581.21,522 L580.62,523 L579.81,524 L578.86,525 L577.84,526 L576.84,527 L575.92,528 L575.18,529 L574.66,530 L574.42,531 L574.46,532 L574.79,533 L575.38,534 L576.19,535 L577.14,536 L578.16,537 L579.16,538 L580.08,539 L580.82,540"/><path d="M603.51,408 L603.13,409 L602.51,410 L601.68,411 L600.71,412 L599.69,413 L598.69,414 L597.8,415 L597.09,416 L596.61,417 L596.41,418 L596.49,419 L596.87,420 L597.49,421 L598.32,422 L599.29,423 L600.31,424 L601.31,425 L602.2,426 L602.91,427 L603.39,428 L603.59,429 L603.51,430 L603.13,431 L602.51,432 L601.68,433 L600.71,434 L599.69,435 L598.69,436 L597.8,437 L597.09,438 L596.61,439 L596.41,440 L596.49,441 L596.87,442 L597.49,443 L598.32,444 L599.29,445 L600.31,446 L601.31,447 L602.2,448 L602.91,449 L603.39,450 L603.59,451 L603.51,452 L603.13,453 L602.51,454 L601.68,455 L600.71,456 L599.69,457 L598.69,458 L597.8,459 L597.09,460 L596.61,461 L596.41,462 L596.49,463 L596.87,464 L597.49,465 L598.32,466 L599.29,467 L600.31,468 L601.31,469 L602.2,470 L602.91,471 L603.39,472 L603.59,473 L603.51,474 L603.13,475 L602.51,476 L601.68,477 L600.71,478 L599.69,479 L598.69,480 L597.8,481 L597.09,482 L596.61,483 L596.41,484 L596.49,485 L596.87,486 L597.49,487 L598.32,488 L599.29,489 L600.31,490 L601.31,491 L602.2,492 L602.91,493 L603.39,494 L603.59,495 L603.51,496 L603.13,497 L602.51,498 L601.68,499 L600.71,500 L599.69,501 L598.69,502 L597.8,503 L597.09,504 L596.61,505 L596.41,506 L596.49,507 L596.87,508 L597.49,509 L598.32,510 L599.29,511 L600.31,512 L601.31,513 L602.2,514 L602.91,515 L603.39,516 L603.59,517 L603.51,518 L603.13,519 L602.51,520 L601.68,521 L600.71,522 L599.69,523 L598.69,524 L597.8,525 L597.09,526 L596.61,527 L596.41,528 L596.49,529 L596.87,530 L597.49,531 L598.32,532 L599.29,533 L600.31,534 L601.31,535 L602.2,536 L602.91,537 L603.39,538 L603.59,539 L603.51,540"/><path d="M623.54,408 L622.56,409 L621.53,410 L620.55,411 L619.68,412 L619,413 L618.56,414 L618.4,415 L618.53,416 L618.95,417 L619.61,418 L620.46,419 L621.44,420 L622.47,421 L623.45,422 L624.32,423 L625,424 L625.44,425 L625.6,426 L625.47,427 L625.05,428 L624.39,429 L623.54,430 L622.56,431 L621.53,432 L620.55,433 L619.68,434 L619,435 L618.56,436 L618.4,437 L618.53,438 L618.95,439 L619.61,440 L620.46,441 L621.44,442 L622.47,443 L623.45,444 L624.32,445 L625,446 L625.44,447 L625.6,448 L625.47,449 L625.05,450 L624.39,451 L623.54,452 L622.56,453 L621.53,454 L620.55,455 L619.68,456 L619,457 L618.56,458 L618.4,459 L618.53,460 L618.95,461 L619.61,462 L620.46,463 L621.44,464 L622.47,465 L623.45,466 L624.32,467 L625,468 L625.44,469 L625.6,470 L625.47,471 L625.05,472 L624.39,473 L623.54,474 L622.56,475 L621.53,476 L620.55,477 L619.68,478 L619,479 L618.56,480 L618.4,481 L618.53,482 L618.95,483 L619.61,484 L620.46,485 L621.44,486 L622.47,487 L623.45,488 L624.32,489 L625,490 L625.44,491 L625.6,492 L625.47,493 L625.05,494 L624.39,495 L623.54,496 L622.56,497 L621.53,498 L620.55,499 L619.68,500 L619,501 L618.56,502 L618.4,503 L618.53,504 L618.95,505 L619.61,506 L620.46,507 L621.44,508 L622.47,509 L623.45,510 L624.32,511 L625,512 L625.44,513 L625.6,514 L625.47,515 L625.05,516 L624.39,517 L623.54,518 L622.56,519 L621.53,520 L620.55,521 L619.68,522 L619,523 L618.56,524 L618.4,525 L618.53,526 L618.95,527 L619.61,528 L620.46,529 L621.44,530 L622.47,531 L623.45,532 L624.32,533 L625,534 L625.44,535 L625.6,536 L625.47,537 L625.05,538 L624.39,539 L623.54,540"/><path d="M642.41,408 L641.56,409 L640.91,410 L640.52,411 L640.4,412 L640.58,413 L641.03,414 L641.73,415 L642.6,416 L643.59,417 L644.62,418 L645.59,419 L646.44,420 L647.09,421 L647.48,422 L647.6,423 L647.42,424 L646.97,425 L646.27,426 L645.4,427 L644.41,428 L643.38,429 L642.41,430 L641.56,431 L640.91,432 L640.52,433 L640.4,434 L640.58,435 L641.03,436 L641.73,437 L642.6,438 L643.59,439 L644.62,440 L645.59,441 L646.44,442 L647.09,443 L647.48,444 L647.6,445 L647.42,446 L646.97,447 L646.27,448 L645.4,449 L644.41,450 L643.38,451 L642.41,452 L641.56,453 L640.91,454 L640.52,455 L640.4,456 L640.58,457 L641.03,458 L641.73,459 L642.6,460 L643.59,461 L644.62,462 L645.59,463 L646.44,464 L647.09,465 L647.48,466 L647.6,467 L647.42,468 L646.97,469 L646.27,470 L645.4,471 L644.41,472 L643.38,473 L642.41,474 L641.56,475 L640.91,476 L640.52,477 L640.4,478 L640.58,479 L641.03,480 L641.73,481 L642.6,482 L643.59,483 L644.62,484 L645.59,485 L646.44,486 L647.09,487 L647.48,488 L647.6,489 L647.42,490 L646.97,491 L646.27,492 L645.4,493 L644.41,494 L643.38,495 L642.41,496 L641.56,497 L640.91,498 L640.52,499 L640.4,500 L640.58,501 L641.03,502 L641.73,503 L642.6,504 L643.59,505 L644.62,506 L645.59,507 L646.44,508 L647.09,509 L647.48,510 L647.6,511 L647.42,512 L646.97,513 L646.27,514 L645.4,515 L644.41,516 L643.38,517 L642.41,518 L641.56,519 L640.91,520 L640.52,521 L640.4,522 L640.58,523 L641.03,524 L641.73,525 L642.6,526 L643.59,527 L644.62,528 L645.59,529 L646.44,530 L647.09,531 L647.48,532 L647.6,533 L647.42,534 L646.97,535 L646.27,536 L645.4,537 L644.41,538 L643.38,539 L642.41,540"/><path d="M662.48,408 L662.41,409 L662.63,410 L663.12,411 L663.85,412 L664.75,413 L665.75,414 L666.77,415 L667.73,416 L668.55,417 L669.16,418 L669.52,419 L669.59,420 L669.37,421 L668.88,422 L668.15,423 L667.25,424 L666.25,425 L665.23,426 L664.27,427 L663.45,428 L662.84,429 L662.48,430 L662.41,431 L662.63,432 L663.12,433 L663.85,434 L664.75,435 L665.75,436 L666.77,437 L667.73,438 L668.55,439 L669.16,440 L669.52,441 L669.59,442 L669.37,443 L668.88,444 L668.15,445 L667.25,446 L666.25,447 L665.23,448 L664.27,449 L663.45,450 L662.84,451 L662.48,452 L662.41,453 L662.63,454 L663.12,455 L663.85,456 L664.75,457 L665.75,458 L666.77,459 L667.73,460 L668.55,461 L669.16,462 L669.52,463 L669.59,464 L669.37,465 L668.88,466 L668.15,467 L667.25,468 L666.25,469 L665.23,470 L664.27,471 L663.45,472 L662.84,473 L662.48,474 L662.41,475 L662.63,476 L663.12,477 L663.85,478 L664.75,479 L665.75,480 L666.77,481 L667.73,482 L668.55,483 L669.16,484 L669.52,485 L669.59,486 L669.37,487 L668.88,488 L668.15,489 L667.25,490 L666.25,491 L665.23,492 L664.27,493 L663.45,494 L662.84,495 L662.48,496 L662.41,497 L662.63,498 L663.12,499 L663.85,500 L664.75,501 L665.75,502 L666.77,503 L667.73,504 L668.55,505 L669.16,506 L669.52,507 L669.59,508 L669.37,509 L668.88,510 L668.15,511 L667.25,512 L666.25,513 L665.23,514 L664.27,515 L663.45,516 L662.84,517 L662.48,518 L662.41,519 L662.63,520 L663.12,521 L663.85,522 L664.75,523 L665.75,524 L666.77,525 L667.73,526 L668.55,527 L669.16,528 L669.52,529 L669.59,530 L669.37,531 L668.88,532 L668.15,533 L667.25,534 L666.25,535 L665.23,536 L664.27,537 L663.45,538 L662.84,539 L662.48,540"/></g>
<path d="M553.2,441.8 L557.5,430 L562.6,428.5 L607.9,427.9 L633.3,442.9 L624.8,452.5 L590.6,445 L575.5,454.3 L567.1,454.6 L555.3,447.5Z" fill="#111" stroke="#111" stroke-width="1.1" stroke-linejoin="round"/><path d="M553.9,440.3 L558.2,428.5 L563.3,427 L608.6,426.4 L634,441.4 L625.5,451 L591.3,443.5 L576.2,452.8 L567.8,453.1 L556,446Z" fill="#5e5e5e" stroke="#2a2a2a" stroke-width="0.8" stroke-linejoin="round"/>
<path d="M577.8,453.5 L585.3,462.1 L590.6,489.9 L589.5,515.5 L587.4,536.9 L576.7,535.8 L564.9,513.4 L564.9,485.6 L571.3,468.5Z" fill="#111" stroke="#111" stroke-width="1.1" stroke-linejoin="round"/><path d="M578.5,452 L586,460.6 L591.3,488.4 L590.2,514 L588.1,535.4 L577.4,534.3 L565.6,511.9 L565.6,484.1 L572,467Z" fill="#5e5e5e" stroke="#2a2a2a" stroke-width="0.8" stroke-linejoin="round"/>
<path d="M650.4,443.9 L663.2,448.2 L663.2,464.2 L654.7,474.9 L655.7,503.8 L646.1,511.2 L628,517.7 L614.1,510.2 L609.8,500.6 L616.2,485.6 L631.2,472.8 L644,451.4Z" fill="#111" stroke="#111" stroke-width="1.1" stroke-linejoin="round"/><path d="M651.1,442.4 L663.9,446.7 L663.9,462.7 L655.4,473.4 L656.4,502.3 L646.8,509.7 L628.7,516.2 L614.8,508.7 L610.5,499.1 L616.9,484.1 L631.9,471.3 L644.7,449.9Z" fill="#5e5e5e" stroke="#2a2a2a" stroke-width="0.8" stroke-linejoin="round"/>
<clipPath id="flR"><path d="M553.9,440.3 L558.2,428.5 L563.3,427 L608.6,426.4 L634,441.4 L625.5,451 L591.3,443.5 L576.2,452.8 L567.8,453.1 L556,446Z"/><path d="M578.5,452 L586,460.6 L591.3,488.4 L590.2,514 L588.1,535.4 L577.4,534.3 L565.6,511.9 L565.6,484.1 L572,467Z"/><path d="M651.1,442.4 L663.9,446.7 L663.9,462.7 L655.4,473.4 L656.4,502.3 L646.8,509.7 L628.7,516.2 L614.8,508.7 L610.5,499.1 L616.9,484.1 L631.9,471.3 L644.7,449.9Z"/></clipPath>
<g fill="none" stroke="#bcdc94" stroke-width="1" opacity="0.35" clip-path="url(#flR)"><path d="M546,418 L547,419.01 L548,419.95 L549,420.72 L550,421.27 L551,421.56 L552,421.56 L553,421.27 L554,420.72 L555,419.95 L556,419.01 L557,418 L558,416.99 L559,416.05 L560,415.28 L561,414.73 L562,414.44 L563,414.44 L564,414.73 L565,415.28 L566,416.05 L567,416.99 L568,418 L569,419.01 L570,419.95 L571,420.72 L572,421.27 L573,421.56 L574,421.56 L575,421.27 L576,420.72 L577,419.95 L578,419.01 L579,418 L580,416.99 L581,416.05 L582,415.28 L583,414.73 L584,414.44 L585,414.44 L586,414.73 L587,415.28 L588,416.05 L589,416.99 L590,418 L591,419.01 L592,419.95 L593,420.72 L594,421.27 L595,421.56 L596,421.56 L597,421.27 L598,420.72 L599,419.95 L600,419.01 L601,418 L602,416.99 L603,416.05 L604,415.28 L605,414.73 L606,414.44 L607,414.44 L608,414.73 L609,415.28 L610,416.05 L611,416.99 L612,418 L613,419.01 L614,419.95 L615,420.72 L616,421.27 L617,421.56 L618,421.56 L619,421.27 L620,420.72 L621,419.95 L622,419.01 L623,418 L624,416.99 L625,416.05 L626,415.28 L627,414.73 L628,414.44 L629,414.44 L630,414.73 L631,415.28 L632,416.05 L633,416.99 L634,418 L635,419.01 L636,419.95 L637,420.72 L638,421.27 L639,421.56 L640,421.56 L641,421.27 L642,420.72 L643,419.95 L644,419.01 L645,418 L646,416.99 L647,416.05 L648,415.28 L649,414.73 L650,414.44 L651,414.44 L652,414.73 L653,415.28 L654,416.05 L655,416.99 L656,418 L657,419.01 L658,419.95 L659,420.72 L660,421.27 L661,421.56 L662,421.56 L663,421.27 L664,420.72 L665,419.95 L666,419.01 L667,418 L668,416.99 L669,416.05 L670,415.28 L671,414.73 L672,414.44 L673,414.44 L674,414.73 L675,415.28 L676,416.05 L677,416.99"/><path d="M546,443.47 L547,443.6 L548,443.44 L549,443 L550,442.32 L551,441.45 L552,440.46 L553,439.43 L554,438.46 L555,437.6 L556,436.94 L557,436.53 L558,436.4 L559,436.56 L560,437 L561,437.68 L562,438.55 L563,439.54 L564,440.57 L565,441.54 L566,442.4 L567,443.06 L568,443.47 L569,443.6 L570,443.44 L571,443 L572,442.32 L573,441.45 L574,440.46 L575,439.43 L576,438.46 L577,437.6 L578,436.94 L579,436.53 L580,436.4 L581,436.56 L582,437 L583,437.68 L584,438.55 L585,439.54 L586,440.57 L587,441.54 L588,442.4 L589,443.06 L590,443.47 L591,443.6 L592,443.44 L593,443 L594,442.32 L595,441.45 L596,440.46 L597,439.43 L598,438.46 L599,437.6 L600,436.94 L601,436.53 L602,436.4 L603,436.56 L604,437 L605,437.68 L606,438.55 L607,439.54 L608,440.57 L609,441.54 L610,442.4 L611,443.06 L612,443.47 L613,443.6 L614,443.44 L615,443 L616,442.32 L617,441.45 L618,440.46 L619,439.43 L620,438.46 L621,437.6 L622,436.94 L623,436.53 L624,436.4 L625,436.56 L626,437 L627,437.68 L628,438.55 L629,439.54 L630,440.57 L631,441.54 L632,442.4 L633,443.06 L634,443.47 L635,443.6 L636,443.44 L637,443 L638,442.32 L639,441.45 L640,440.46 L641,439.43 L642,438.46 L643,437.6 L644,436.94 L645,436.53 L646,436.4 L647,436.56 L648,437 L649,437.68 L650,438.55 L651,439.54 L652,440.57 L653,441.54 L654,442.4 L655,443.06 L656,443.47 L657,443.6 L658,443.44 L659,443 L660,442.32 L661,441.45 L662,440.46 L663,439.43 L664,438.46 L665,437.6 L666,436.94 L667,436.53 L668,436.4 L669,436.56 L670,437 L671,437.68 L672,438.55 L673,439.54 L674,440.57 L675,441.54 L676,442.4 L677,443.06"/><path d="M546,463.86 L547,462.91 L548,461.89 L549,460.88 L550,459.96 L551,459.21 L552,458.68 L553,458.42 L554,458.45 L555,458.77 L556,459.35 L557,460.14 L558,461.09 L559,462.11 L560,463.12 L561,464.04 L562,464.79 L563,465.32 L564,465.58 L565,465.55 L566,465.23 L567,464.65 L568,463.86 L569,462.91 L570,461.89 L571,460.88 L572,459.96 L573,459.21 L574,458.68 L575,458.42 L576,458.45 L577,458.77 L578,459.35 L579,460.14 L580,461.09 L581,462.11 L582,463.12 L583,464.04 L584,464.79 L585,465.32 L586,465.58 L587,465.55 L588,465.23 L589,464.65 L590,463.86 L591,462.91 L592,461.89 L593,460.88 L594,459.96 L595,459.21 L596,458.68 L597,458.42 L598,458.45 L599,458.77 L600,459.35 L601,460.14 L602,461.09 L603,462.11 L604,463.12 L605,464.04 L606,464.79 L607,465.32 L608,465.58 L609,465.55 L610,465.23 L611,464.65 L612,463.86 L613,462.91 L614,461.89 L615,460.88 L616,459.96 L617,459.21 L618,458.68 L619,458.42 L620,458.45 L621,458.77 L622,459.35 L623,460.14 L624,461.09 L625,462.11 L626,463.12 L627,464.04 L628,464.79 L629,465.32 L630,465.58 L631,465.55 L632,465.23 L633,464.65 L634,463.86 L635,462.91 L636,461.89 L637,460.88 L638,459.96 L639,459.21 L640,458.68 L641,458.42 L642,458.45 L643,458.77 L644,459.35 L645,460.14 L646,461.09 L647,462.11 L648,463.12 L649,464.04 L650,464.79 L651,465.32 L652,465.58 L653,465.55 L654,465.23 L655,464.65 L656,463.86 L657,462.91 L658,461.89 L659,460.88 L660,459.96 L661,459.21 L662,458.68 L663,458.42 L664,458.45 L665,458.77 L666,459.35 L667,460.14 L668,461.09 L669,462.11 L670,463.12 L671,464.04 L672,464.79 L673,465.32 L674,465.58 L675,465.55 L676,465.23 L677,464.65"/><path d="M546,481.52 L547,480.89 L548,480.5 L549,480.4 L550,480.59 L551,481.06 L552,481.77 L553,482.65 L554,483.65 L555,484.67 L556,485.64 L557,486.48 L558,487.11 L559,487.5 L560,487.6 L561,487.41 L562,486.94 L563,486.23 L564,485.35 L565,484.35 L566,483.33 L567,482.36 L568,481.52 L569,480.89 L570,480.5 L571,480.4 L572,480.59 L573,481.06 L574,481.77 L575,482.65 L576,483.65 L577,484.67 L578,485.64 L579,486.48 L580,487.11 L581,487.5 L582,487.6 L583,487.41 L584,486.94 L585,486.23 L586,485.35 L587,484.35 L588,483.33 L589,482.36 L590,481.52 L591,480.89 L592,480.5 L593,480.4 L594,480.59 L595,481.06 L596,481.77 L597,482.65 L598,483.65 L599,484.67 L600,485.64 L601,486.48 L602,487.11 L603,487.5 L604,487.6 L605,487.41 L606,486.94 L607,486.23 L608,485.35 L609,484.35 L610,483.33 L611,482.36 L612,481.52 L613,480.89 L614,480.5 L615,480.4 L616,480.59 L617,481.06 L618,481.77 L619,482.65 L620,483.65 L621,484.67 L622,485.64 L623,486.48 L624,487.11 L625,487.5 L626,487.6 L627,487.41 L628,486.94 L629,486.23 L630,485.35 L631,484.35 L632,483.33 L633,482.36 L634,481.52 L635,480.89 L636,480.5 L637,480.4 L638,480.59 L639,481.06 L640,481.77 L641,482.65 L642,483.65 L643,484.67 L644,485.64 L645,486.48 L646,487.11 L647,487.5 L648,487.6 L649,487.41 L650,486.94 L651,486.23 L652,485.35 L653,484.35 L654,483.33 L655,482.36 L656,481.52 L657,480.89 L658,480.5 L659,480.4 L660,480.59 L661,481.06 L662,481.77 L663,482.65 L664,483.65 L665,484.67 L666,485.64 L667,486.48 L668,487.11 L669,487.5 L670,487.6 L671,487.41 L672,486.94 L673,486.23 L674,485.35 L675,484.35 L676,483.33 L677,482.36"/><path d="M546,502.82 L547,503.42 L548,504.24 L549,505.19 L550,506.21 L551,507.22 L552,508.12 L553,508.86 L554,509.36 L555,509.59 L556,509.53 L557,509.18 L558,508.58 L559,507.76 L560,506.81 L561,505.79 L562,504.78 L563,503.88 L564,503.14 L565,502.64 L566,502.41 L567,502.47 L568,502.82 L569,503.42 L570,504.24 L571,505.19 L572,506.21 L573,507.22 L574,508.12 L575,508.86 L576,509.36 L577,509.59 L578,509.53 L579,509.18 L580,508.58 L581,507.76 L582,506.81 L583,505.79 L584,504.78 L585,503.88 L586,503.14 L587,502.64 L588,502.41 L589,502.47 L590,502.82 L591,503.42 L592,504.24 L593,505.19 L594,506.21 L595,507.22 L596,508.12 L597,508.86 L598,509.36 L599,509.59 L600,509.53 L601,509.18 L602,508.58 L603,507.76 L604,506.81 L605,505.79 L606,504.78 L607,503.88 L608,503.14 L609,502.64 L610,502.41 L611,502.47 L612,502.82 L613,503.42 L614,504.24 L615,505.19 L616,506.21 L617,507.22 L618,508.12 L619,508.86 L620,509.36 L621,509.59 L622,509.53 L623,509.18 L624,508.58 L625,507.76 L626,506.81 L627,505.79 L628,504.78 L629,503.88 L630,503.14 L631,502.64 L632,502.41 L633,502.47 L634,502.82 L635,503.42 L636,504.24 L637,505.19 L638,506.21 L639,507.22 L640,508.12 L641,508.86 L642,509.36 L643,509.59 L644,509.53 L645,509.18 L646,508.58 L647,507.76 L648,506.81 L649,505.79 L650,504.78 L651,503.88 L652,503.14 L653,502.64 L654,502.41 L655,502.47 L656,502.82 L657,503.42 L658,504.24 L659,505.19 L660,506.21 L661,507.22 L662,508.12 L663,508.86 L664,509.36 L665,509.59 L666,509.53 L667,509.18 L668,508.58 L669,507.76 L670,506.81 L671,505.79 L672,504.78 L673,503.88 L674,503.14 L675,502.64 L676,502.41 L677,502.47"/><path d="M546,528.77 L547,529.73 L548,530.55 L549,531.16 L550,531.52 L551,531.59 L552,531.37 L553,530.88 L554,530.15 L555,529.25 L556,528.25 L557,527.23 L558,526.27 L559,525.45 L560,524.84 L561,524.48 L562,524.41 L563,524.63 L564,525.12 L565,525.85 L566,526.75 L567,527.75 L568,528.77 L569,529.73 L570,530.55 L571,531.16 L572,531.52 L573,531.59 L574,531.37 L575,530.88 L576,530.15 L577,529.25 L578,528.25 L579,527.23 L580,526.27 L581,525.45 L582,524.84 L583,524.48 L584,524.41 L585,524.63 L586,525.12 L587,525.85 L588,526.75 L589,527.75 L590,528.77 L591,529.73 L592,530.55 L593,531.16 L594,531.52 L595,531.59 L596,531.37 L597,530.88 L598,530.15 L599,529.25 L600,528.25 L601,527.23 L602,526.27 L603,525.45 L604,524.84 L605,524.48 L606,524.41 L607,524.63 L608,525.12 L609,525.85 L610,526.75 L611,527.75 L612,528.77 L613,529.73 L614,530.55 L615,531.16 L616,531.52 L617,531.59 L618,531.37 L619,530.88 L620,530.15 L621,529.25 L622,528.25 L623,527.23 L624,526.27 L625,525.45 L626,524.84 L627,524.48 L628,524.41 L629,524.63 L630,525.12 L631,525.85 L632,526.75 L633,527.75 L634,528.77 L635,529.73 L636,530.55 L637,531.16 L638,531.52 L639,531.59 L640,531.37 L641,530.88 L642,530.15 L643,529.25 L644,528.25 L645,527.23 L646,526.27 L647,525.45 L648,524.84 L649,524.48 L650,524.41 L651,524.63 L652,525.12 L653,525.85 L654,526.75 L655,527.75 L656,528.77 L657,529.73 L658,530.55 L659,531.16 L660,531.52 L661,531.59 L662,531.37 L663,530.88 L664,530.15 L665,529.25 L666,528.25 L667,527.23 L668,526.27 L669,525.45 L670,524.84 L671,524.48 L672,524.41 L673,524.63 L674,525.12 L675,525.85 L676,526.75 L677,527.75"/><path d="M556,408 L557.01,409 L557.95,410 L558.72,411 L559.27,412 L559.56,413 L559.56,414 L559.27,415 L558.72,416 L557.95,417 L557.01,418 L556,419 L554.99,420 L554.05,421 L553.28,422 L552.73,423 L552.44,424 L552.44,425 L552.73,426 L553.28,427 L554.05,428 L554.99,429 L556,430 L557.01,431 L557.95,432 L558.72,433 L559.27,434 L559.56,435 L559.56,436 L559.27,437 L558.72,438 L557.95,439 L557.01,440 L556,441 L554.99,442 L554.05,443 L553.28,444 L552.73,445 L552.44,446 L552.44,447 L552.73,448 L553.28,449 L554.05,450 L554.99,451 L556,452 L557.01,453 L557.95,454 L558.72,455 L559.27,456 L559.56,457 L559.56,458 L559.27,459 L558.72,460 L557.95,461 L557.01,462 L556,463 L554.99,464 L554.05,465 L553.28,466 L552.73,467 L552.44,468 L552.44,469 L552.73,470 L553.28,471 L554.05,472 L554.99,473 L556,474 L557.01,475 L557.95,476 L558.72,477 L559.27,478 L559.56,479 L559.56,480 L559.27,481 L558.72,482 L557.95,483 L557.01,484 L556,485 L554.99,486 L554.05,487 L553.28,488 L552.73,489 L552.44,490 L552.44,491 L552.73,492 L553.28,493 L554.05,494 L554.99,495 L556,496 L557.01,497 L557.95,498 L558.72,499 L559.27,500 L559.56,501 L559.56,502 L559.27,503 L558.72,504 L557.95,505 L557.01,506 L556,507 L554.99,508 L554.05,509 L553.28,510 L552.73,511 L552.44,512 L552.44,513 L552.73,514 L553.28,515 L554.05,516 L554.99,517 L556,518 L557.01,519 L557.95,520 L558.72,521 L559.27,522 L559.56,523 L559.56,524 L559.27,525 L558.72,526 L557.95,527 L557.01,528 L556,529 L554.99,530 L554.05,531 L553.28,532 L552.73,533 L552.44,534 L552.44,535 L552.73,536 L553.28,537 L554.05,538 L554.99,539 L556,540"/><path d="M580.82,408 L581.34,409 L581.58,410 L581.54,411 L581.21,412 L580.62,413 L579.81,414 L578.86,415 L577.84,416 L576.84,417 L575.92,418 L575.18,419 L574.66,420 L574.42,421 L574.46,422 L574.79,423 L575.38,424 L576.19,425 L577.14,426 L578.16,427 L579.16,428 L580.08,429 L580.82,430 L581.34,431 L581.58,432 L581.54,433 L581.21,434 L580.62,435 L579.81,436 L578.86,437 L577.84,438 L576.84,439 L575.92,440 L575.18,441 L574.66,442 L574.42,443 L574.46,444 L574.79,445 L575.38,446 L576.19,447 L577.14,448 L578.16,449 L579.16,450 L580.08,451 L580.82,452 L581.34,453 L581.58,454 L581.54,455 L581.21,456 L580.62,457 L579.81,458 L578.86,459 L577.84,460 L576.84,461 L575.92,462 L575.18,463 L574.66,464 L574.42,465 L574.46,466 L574.79,467 L575.38,468 L576.19,469 L577.14,470 L578.16,471 L579.16,472 L580.08,473 L580.82,474 L581.34,475 L581.58,476 L581.54,477 L581.21,478 L580.62,479 L579.81,480 L578.86,481 L577.84,482 L576.84,483 L575.92,484 L575.18,485 L574.66,486 L574.42,487 L574.46,488 L574.79,489 L575.38,490 L576.19,491 L577.14,492 L578.16,493 L579.16,494 L580.08,495 L580.82,496 L581.34,497 L581.58,498 L581.54,499 L581.21,500 L580.62,501 L579.81,502 L578.86,503 L577.84,504 L576.84,505 L575.92,506 L575.18,507 L574.66,508 L574.42,509 L574.46,510 L574.79,511 L575.38,512 L576.19,513 L577.14,514 L578.16,515 L579.16,516 L580.08,517 L580.82,518 L581.34,519 L581.58,520 L581.54,521 L581.21,522 L580.62,523 L579.81,524 L578.86,525 L577.84,526 L576.84,527 L575.92,528 L575.18,529 L574.66,530 L574.42,531 L574.46,532 L574.79,533 L575.38,534 L576.19,535 L577.14,536 L578.16,537 L579.16,538 L580.08,539 L580.82,540"/><path d="M603.51,408 L603.13,409 L602.51,410 L601.68,411 L600.71,412 L599.69,413 L598.69,414 L597.8,415 L597.09,416 L596.61,417 L596.41,418 L596.49,419 L596.87,420 L597.49,421 L598.32,422 L599.29,423 L600.31,424 L601.31,425 L602.2,426 L602.91,427 L603.39,428 L603.59,429 L603.51,430 L603.13,431 L602.51,432 L601.68,433 L600.71,434 L599.69,435 L598.69,436 L597.8,437 L597.09,438 L596.61,439 L596.41,440 L596.49,441 L596.87,442 L597.49,443 L598.32,444 L599.29,445 L600.31,446 L601.31,447 L602.2,448 L602.91,449 L603.39,450 L603.59,451 L603.51,452 L603.13,453 L602.51,454 L601.68,455 L600.71,456 L599.69,457 L598.69,458 L597.8,459 L597.09,460 L596.61,461 L596.41,462 L596.49,463 L596.87,464 L597.49,465 L598.32,466 L599.29,467 L600.31,468 L601.31,469 L602.2,470 L602.91,471 L603.39,472 L603.59,473 L603.51,474 L603.13,475 L602.51,476 L601.68,477 L600.71,478 L599.69,479 L598.69,480 L597.8,481 L597.09,482 L596.61,483 L596.41,484 L596.49,485 L596.87,486 L597.49,487 L598.32,488 L599.29,489 L600.31,490 L601.31,491 L602.2,492 L602.91,493 L603.39,494 L603.59,495 L603.51,496 L603.13,497 L602.51,498 L601.68,499 L600.71,500 L599.69,501 L598.69,502 L597.8,503 L597.09,504 L596.61,505 L596.41,506 L596.49,507 L596.87,508 L597.49,509 L598.32,510 L599.29,511 L600.31,512 L601.31,513 L602.2,514 L602.91,515 L603.39,516 L603.59,517 L603.51,518 L603.13,519 L602.51,520 L601.68,521 L600.71,522 L599.69,523 L598.69,524 L597.8,525 L597.09,526 L596.61,527 L596.41,528 L596.49,529 L596.87,530 L597.49,531 L598.32,532 L599.29,533 L600.31,534 L601.31,535 L602.2,536 L602.91,537 L603.39,538 L603.59,539 L603.51,540"/><path d="M623.54,408 L622.56,409 L621.53,410 L620.55,411 L619.68,412 L619,413 L618.56,414 L618.4,415 L618.53,416 L618.95,417 L619.61,418 L620.46,419 L621.44,420 L622.47,421 L623.45,422 L624.32,423 L625,424 L625.44,425 L625.6,426 L625.47,427 L625.05,428 L624.39,429 L623.54,430 L622.56,431 L621.53,432 L620.55,433 L619.68,434 L619,435 L618.56,436 L618.4,437 L618.53,438 L618.95,439 L619.61,440 L620.46,441 L621.44,442 L622.47,443 L623.45,444 L624.32,445 L625,446 L625.44,447 L625.6,448 L625.47,449 L625.05,450 L624.39,451 L623.54,452 L622.56,453 L621.53,454 L620.55,455 L619.68,456 L619,457 L618.56,458 L618.4,459 L618.53,460 L618.95,461 L619.61,462 L620.46,463 L621.44,464 L622.47,465 L623.45,466 L624.32,467 L625,468 L625.44,469 L625.6,470 L625.47,471 L625.05,472 L624.39,473 L623.54,474 L622.56,475 L621.53,476 L620.55,477 L619.68,478 L619,479 L618.56,480 L618.4,481 L618.53,482 L618.95,483 L619.61,484 L620.46,485 L621.44,486 L622.47,487 L623.45,488 L624.32,489 L625,490 L625.44,491 L625.6,492 L625.47,493 L625.05,494 L624.39,495 L623.54,496 L622.56,497 L621.53,498 L620.55,499 L619.68,500 L619,501 L618.56,502 L618.4,503 L618.53,504 L618.95,505 L619.61,506 L620.46,507 L621.44,508 L622.47,509 L623.45,510 L624.32,511 L625,512 L625.44,513 L625.6,514 L625.47,515 L625.05,516 L624.39,517 L623.54,518 L622.56,519 L621.53,520 L620.55,521 L619.68,522 L619,523 L618.56,524 L618.4,525 L618.53,526 L618.95,527 L619.61,528 L620.46,529 L621.44,530 L622.47,531 L623.45,532 L624.32,533 L625,534 L625.44,535 L625.6,536 L625.47,537 L625.05,538 L624.39,539 L623.54,540"/><path d="M642.41,408 L641.56,409 L640.91,410 L640.52,411 L640.4,412 L640.58,413 L641.03,414 L641.73,415 L642.6,416 L643.59,417 L644.62,418 L645.59,419 L646.44,420 L647.09,421 L647.48,422 L647.6,423 L647.42,424 L646.97,425 L646.27,426 L645.4,427 L644.41,428 L643.38,429 L642.41,430 L641.56,431 L640.91,432 L640.52,433 L640.4,434 L640.58,435 L641.03,436 L641.73,437 L642.6,438 L643.59,439 L644.62,440 L645.59,441 L646.44,442 L647.09,443 L647.48,444 L647.6,445 L647.42,446 L646.97,447 L646.27,448 L645.4,449 L644.41,450 L643.38,451 L642.41,452 L641.56,453 L640.91,454 L640.52,455 L640.4,456 L640.58,457 L641.03,458 L641.73,459 L642.6,460 L643.59,461 L644.62,462 L645.59,463 L646.44,464 L647.09,465 L647.48,466 L647.6,467 L647.42,468 L646.97,469 L646.27,470 L645.4,471 L644.41,472 L643.38,473 L642.41,474 L641.56,475 L640.91,476 L640.52,477 L640.4,478 L640.58,479 L641.03,480 L641.73,481 L642.6,482 L643.59,483 L644.62,484 L645.59,485 L646.44,486 L647.09,487 L647.48,488 L647.6,489 L647.42,490 L646.97,491 L646.27,492 L645.4,493 L644.41,494 L643.38,495 L642.41,496 L641.56,497 L640.91,498 L640.52,499 L640.4,500 L640.58,501 L641.03,502 L641.73,503 L642.6,504 L643.59,505 L644.62,506 L645.59,507 L646.44,508 L647.09,509 L647.48,510 L647.6,511 L647.42,512 L646.97,513 L646.27,514 L645.4,515 L644.41,516 L643.38,517 L642.41,518 L641.56,519 L640.91,520 L640.52,521 L640.4,522 L640.58,523 L641.03,524 L641.73,525 L642.6,526 L643.59,527 L644.62,528 L645.59,529 L646.44,530 L647.09,531 L647.48,532 L647.6,533 L647.42,534 L646.97,535 L646.27,536 L645.4,537 L644.41,538 L643.38,539 L642.41,540"/><path d="M662.48,408 L662.41,409 L662.63,410 L663.12,411 L663.85,412 L664.75,413 L665.75,414 L666.77,415 L667.73,416 L668.55,417 L669.16,418 L669.52,419 L669.59,420 L669.37,421 L668.88,422 L668.15,423 L667.25,424 L666.25,425 L665.23,426 L664.27,427 L663.45,428 L662.84,429 L662.48,430 L662.41,431 L662.63,432 L663.12,433 L663.85,434 L664.75,435 L665.75,436 L666.77,437 L667.73,438 L668.55,439 L669.16,440 L669.52,441 L669.59,442 L669.37,443 L668.88,444 L668.15,445 L667.25,446 L666.25,447 L665.23,448 L664.27,449 L663.45,450 L662.84,451 L662.48,452 L662.41,453 L662.63,454 L663.12,455 L663.85,456 L664.75,457 L665.75,458 L666.77,459 L667.73,460 L668.55,461 L669.16,462 L669.52,463 L669.59,464 L669.37,465 L668.88,466 L668.15,467 L667.25,468 L666.25,469 L665.23,470 L664.27,471 L663.45,472 L662.84,473 L662.48,474 L662.41,475 L662.63,476 L663.12,477 L663.85,478 L664.75,479 L665.75,480 L666.77,481 L667.73,482 L668.55,483 L669.16,484 L669.52,485 L669.59,486 L669.37,487 L668.88,488 L668.15,489 L667.25,490 L666.25,491 L665.23,492 L664.27,493 L663.45,494 L662.84,495 L662.48,496 L662.41,497 L662.63,498 L663.12,499 L663.85,500 L664.75,501 L665.75,502 L666.77,503 L667.73,504 L668.55,505 L669.16,506 L669.52,507 L669.59,508 L669.37,509 L668.88,510 L668.15,511 L667.25,512 L666.25,513 L665.23,514 L664.27,515 L663.45,516 L662.84,517 L662.48,518 L662.41,519 L662.63,520 L663.12,521 L663.85,522 L664.75,523 L665.75,524 L666.77,525 L667.73,526 L668.55,527 L669.16,528 L669.52,529 L669.59,530 L669.37,531 L668.88,532 L668.15,533 L667.25,534 L666.25,535 L665.23,536 L664.27,537 L663.45,538 L662.84,539 L662.48,540"/></g>
<g clip-path="url(#flR)">
<circle cx="593.4" cy="436" r="30" fill="url(#heatTop)" opacity="0.9"/>
<circle cx="579.5" cy="500" r="32" fill="url(#heatTop)" opacity="0.9"/>
<circle cx="637.2" cy="482" r="32" fill="url(#heatTop)" opacity="0.9"/>
<circle cx="561.4" cy="443.5" r="6" fill="url(#heatTop)" opacity="0.9"/>
</g>
<circle cx="593.4" cy="436" r="14" fill="url(#heat)" opacity="0.7"/>
<path d="M551.5,370.5 L551.24,371.35 L551.03,372.16 L550.91,372.9 L550.91,373.54 L551.06,374.06 L551.37,374.45 L551.84,374.71 L552.47,374.85 L553.22,374.89 L554.06,374.86 L554.94,374.79 L555.83,374.72 L556.66,374.69 L557.41,374.73 L558.04,374.87 L558.51,375.13 L558.83,375.52 L558.98,376.04 L558.98,376.68 L558.85,377.42 L558.64,378.23 L558.38,379.08 L558.12,379.93 L557.91,380.74 L557.79,381.48 L557.79,382.12 L557.94,382.64 L558.25,383.03 L558.73,383.29 L559.35,383.43 L560.1,383.47 L560.94,383.44 L561.82,383.37 L562.71,383.3 L563.55,383.27 L564.3,383.31 L564.92,383.45 L565.4,383.71 L565.71,384.1 L565.86,384.62 L565.86,385.26 L565.74,386 L565.52,386.81 L565.27,387.66 L565.01,388.51 L564.79,389.32 L564.67,390.06 L564.67,390.7 L564.82,391.22 L565.13,391.61 L565.61,391.87 L566.24,392.01 L566.98,392.05 L567.82,392.02 L568.71,391.95 L569.59,391.88 L570.43,391.85 L571.18,391.89 L571.8,392.03 L572.28,392.29 L572.59,392.68 L572.74,393.2 L572.74,393.84 L572.62,394.58 L572.41,395.39 L572.15,396.24 L571.89,397.09 L571.68,397.9 L571.55,398.64 L571.55,399.28 L571.7,399.8 L572.02,400.19 L572.49,400.45 L573.12,400.59 L573.87,400.63 L574.7,400.6 L575.59,400.53 L576.47,400.46 L577.31,400.43 L578.06,400.47 L578.69,400.61 L579.16,400.87 L579.47,401.26 L579.62,401.78 L579.62,402.42 L579.5,403.16 L579.29,403.97 L579.03,404.82 L578.77,405.67 L578.56,406.48 L578.44,407.22 L578.44,407.86 L578.59,408.38 L578.9,408.77 L579.38,409.03 L580,409.17 L580.75,409.21 L581.59,409.18 L582.47,409.11 L583.36,409.05 L584.19,409.01 L584.94,409.05 L585.57,409.19 L586.04,409.45 L586.36,409.84 L586.51,410.36 L586.51,411 L586.38,411.74 L586.17,412.56 L585.91,413.4 L585.65,414.25 L585.44,415.06 L585.32,415.8 L585.32,416.44 L585.47,416.96 L585.78,417.35 L586.26,417.61 L586.88,417.75 L587.63,417.79 L588.47,417.76 L589.35,417.69 L590.24,417.63 L591.08,417.6" fill="none" stroke="#d86a6a" stroke-width="0.95"/>
<path d="M536.7,382 L536.47,382.86 L536.28,383.67 L536.18,384.42 L536.2,385.06 L536.36,385.57 L536.68,385.95 L537.17,386.2 L537.8,386.32 L538.55,386.34 L539.38,386.28 L540.26,386.19 L541.15,386.09 L541.98,386.04 L542.73,386.06 L543.36,386.18 L543.84,386.42 L544.17,386.8 L544.33,387.32 L544.35,387.96 L544.25,388.7 L544.06,389.52 L543.83,390.38 L543.6,391.23 L543.41,392.05 L543.31,392.79 L543.32,393.43 L543.49,393.95 L543.81,394.33 L544.3,394.57 L544.93,394.7 L545.68,394.71 L546.51,394.66 L547.39,394.57 L548.28,394.47 L549.11,394.42 L549.86,394.43 L550.49,394.56 L550.97,394.8 L551.3,395.18 L551.46,395.7 L551.48,396.34 L551.38,397.08 L551.19,397.9 L550.96,398.75 L550.73,399.61 L550.54,400.43 L550.43,401.17 L550.45,401.81 L550.62,402.33 L550.94,402.71 L551.43,402.95 L552.06,403.07 L552.81,403.09 L553.64,403.04 L554.52,402.94 L555.41,402.85 L556.24,402.79 L556.99,402.81 L557.62,402.93 L558.1,403.18 L558.43,403.56 L558.59,404.07 L558.61,404.71 L558.51,405.46 L558.32,406.27 L558.09,407.13 L557.85,407.99 L557.67,408.8 L557.56,409.55 L557.58,410.19 L557.75,410.7 L558.07,411.08 L558.56,411.33 L559.18,411.45 L559.93,411.47 L560.77,411.41 L561.65,411.32 L562.54,411.22 L563.37,411.17 L564.12,411.19 L564.75,411.31 L565.23,411.55 L565.56,411.94 L565.72,412.45 L565.74,413.09 L565.64,413.83 L565.45,414.65 L565.22,415.51 L564.98,416.36 L564.8,417.18 L564.69,417.92 L564.71,418.56 L564.88,419.08 L565.2,419.46 L565.69,419.71 L566.31,419.83 L567.06,419.84 L567.9,419.79 L568.78,419.7 L569.66,419.6 L570.5,419.55 L571.25,419.56 L571.88,419.69 L572.36,419.93 L572.69,420.31 L572.85,420.83 L572.87,421.47 L572.77,422.21 L572.58,423.03 L572.35,423.88 L572.11,424.74 L571.93,425.56 L571.82,426.3 L571.84,426.94 L572.01,427.46 L572.33,427.84 L572.82,428.08 L573.44,428.2" fill="none" stroke="#d86a6a" stroke-width="0.95"/>
<path d="M522,395.5 L521.8,396.36 L521.64,397.19 L521.56,397.93 L521.6,398.57 L521.79,399.08 L522.12,399.45 L522.61,399.68 L523.25,399.78 L524,399.77 L524.83,399.69 L525.71,399.56 L526.59,399.44 L527.42,399.35 L528.17,399.34 L528.8,399.44 L529.3,399.67 L529.63,400.04 L529.82,400.55 L529.86,401.19 L529.78,401.93 L529.62,402.76 L529.42,403.62 L529.22,404.48 L529.06,405.31 L528.98,406.05 L529.02,406.69 L529.21,407.2 L529.54,407.57 L530.03,407.8 L530.67,407.9 L531.42,407.89 L532.25,407.81 L533.13,407.68 L534.01,407.56 L534.84,407.47 L535.59,407.46 L536.22,407.56 L536.72,407.79 L537.05,408.16 L537.24,408.67 L537.28,409.31 L537.2,410.06 L537.04,410.88 L536.84,411.74 L536.64,412.61 L536.48,413.43 L536.4,414.18 L536.44,414.81 L536.62,415.32 L536.96,415.69 L537.45,415.92 L538.09,416.02 L538.84,416.01 L539.67,415.93 L540.55,415.8 L541.43,415.68 L542.26,415.59 L543.01,415.59 L543.64,415.68 L544.13,415.91 L544.47,416.28 L544.66,416.79 L544.7,417.43 L544.62,418.18 L544.46,419 L544.26,419.86 L544.05,420.73 L543.89,421.55 L543.82,422.3 L543.86,422.94 L544.04,423.45 L544.38,423.81 L544.87,424.04 L545.51,424.14 L546.26,424.13 L547.09,424.05 L547.97,423.92 L548.85,423.8 L549.68,423.71 L550.43,423.71 L551.06,423.81 L551.55,424.03 L551.89,424.4 L552.07,424.91 L552.12,425.55 L552.04,426.3 L551.88,427.12 L551.68,427.98 L551.47,428.85 L551.31,429.67 L551.24,430.42 L551.28,431.06 L551.46,431.57 L551.8,431.94 L552.29,432.16 L552.92,432.26 L553.67,432.26 L554.51,432.17 L555.39,432.05 L556.27,431.92 L557.1,431.84 L557.85,431.83 L558.48,431.93 L558.97,432.16 L559.31,432.52 L559.49,433.03 L559.54,433.67 L559.46,434.42 L559.3,435.24" fill="none" stroke="#d86a6a" stroke-width="0.95"/>
<path d="M591.3,421 L586.5,418.5 L590,414.5Z" fill="#d05050"/>
<path d="M604.8,406.2 L596.3,396.4 L600.55,396.4 L600.55,381.2 L609.05,381.2 L609.05,396.4 L613.3,396.4Z" fill="#6cbd2e" stroke="#3f5f2a" stroke-width="0.9" stroke-linejoin="miter"/>
<path d="M621.4,381.5 L630.1,391.5 L625.65,391.5 L625.65,406.5 L617.15,406.5 L617.15,391.5 L612.7,391.5Z" fill="#deeefc" stroke="#5a5f66" stroke-width="0.9" stroke-linejoin="miter"/>
<path d="M512.3,469.3 L522.3,460.9 L522.3,464.8 L537.8,464.8 L537.8,473.8 L522.3,473.8 L522.3,477.7Z" fill="#deeefc" stroke="#5a5f66" stroke-width="0.9" stroke-linejoin="miter"/>
<path d="M537.8,485.7 L527.8,494.2 L527.8,490.05 L512.3,490.05 L512.3,481.35 L527.8,481.35 L527.8,477.2Z" fill="#6cbd2e" stroke="#3f5f2a" stroke-width="0.9" stroke-linejoin="miter"/>
<path d="M682.3,469.3 L692.3,460.9 L692.3,464.8 L707.8,464.8 L707.8,473.8 L692.3,473.8 L692.3,477.7Z" fill="#6cbd2e" stroke="#3f5f2a" stroke-width="0.9" stroke-linejoin="miter"/>
<path d="M707.8,485.7 L697.8,494.2 L697.8,490.05 L682.3,490.05 L682.3,481.35 L697.8,481.35 L697.8,477.2Z" fill="#deeefc" stroke="#5a5f66" stroke-width="0.9" stroke-linejoin="miter"/>
<path d="M601.3,570.2 L593.3,560.7 L597.05,560.7 L597.05,545.7 L605.55,545.7 L605.55,560.7 L609.3,560.7Z" fill="#deeefc" stroke="#5a5f66" stroke-width="0.9" stroke-linejoin="miter"/>
<path d="M618.5,545 L627,554.8 L622.75,554.8 L622.75,570 L614.25,570 L614.25,554.8 L610,554.8Z" fill="#6cbd2e" stroke="#3f5f2a" stroke-width="0.9" stroke-linejoin="miter"/>
</svg></body></html>
